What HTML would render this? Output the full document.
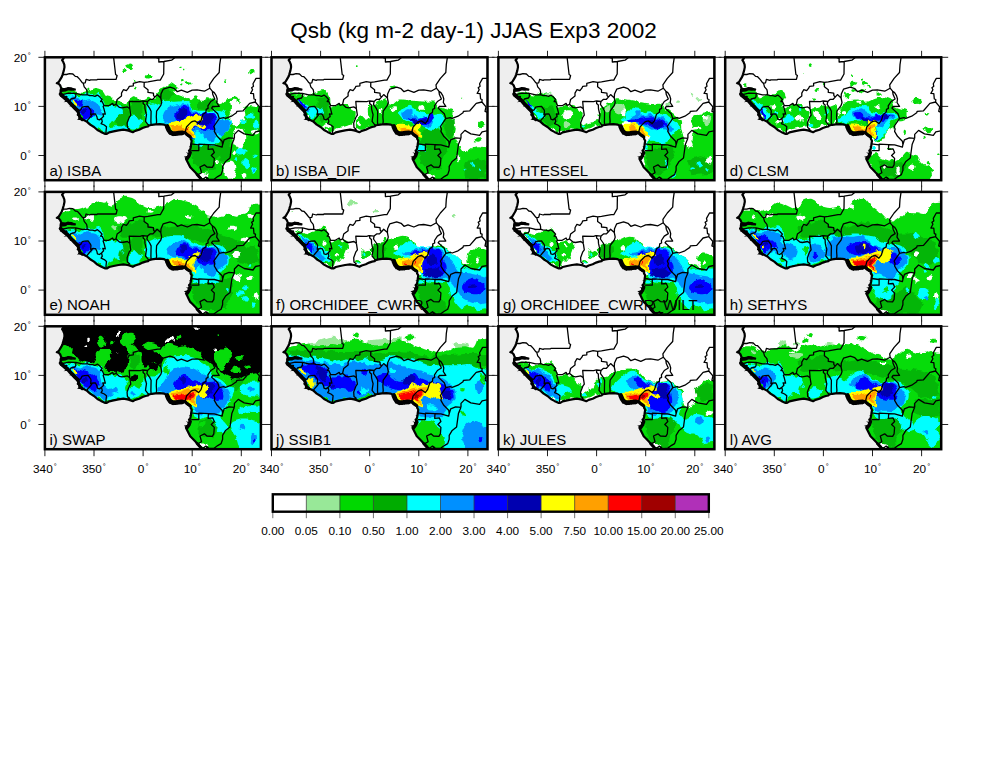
<!DOCTYPE html><html><head><meta charset="utf-8"><title>Qsb JJAS Exp3 2002</title>
<style>html,body{margin:0;padding:0;background:#fff}svg{display:block}text{font-family:"Liberation Sans",sans-serif;fill:#000}.t{font-size:11.8px;text-anchor:middle}.l{font-size:15px}.tk{stroke:#222;stroke-width:1;fill:none}</style></head><body>
<svg width="990" height="765" viewBox="0 0 990 765">
<defs>
<path id="land" d="M18.2 -4.9 L18.4 -1.5 L18.7 1.0 L17.2 2.9 L18.2 4.4 L19.4 7.4 L19.6 9.8 L18.9 13.3 L17.7 17.2 L16.9 19.6 L15.7 21.6 L14.0 24.5 L12.0 25.9 L13.7 26.4 L15.2 28.0 L16.0 29.9 L16.7 31.4 L18.7 31.9 L16.7 32.4 L15.7 33.4 L15.7 34.9 L16.0 37.3 L17.7 37.8 L18.2 39.3 L19.6 39.8 L21.6 39.5 L20.1 41.2 L22.6 41.7 L22.1 43.2 L24.5 44.4 L25.5 45.9 L27.0 47.6 L29.5 49.1 L30.9 51.3 L32.9 53.0 L33.1 54.5 L33.9 56.5 L32.9 57.4 L34.6 58.4 L34.9 60.4 L34.4 61.6 L36.8 61.9 L39.8 63.3 L42.2 64.6 L45.2 67.3 L49.1 69.7 L52.5 72.7 L56.0 74.6 L60.4 76.6 L61.9 76.6 L64.3 75.1 L68.7 74.1 L73.6 73.1 L78.5 72.4 L82.5 73.1 L84.4 73.6 L87.9 74.9 L90.3 73.6 L94.3 72.4 L97.7 70.7 L100.6 69.7 L103.1 69.2 L104.1 68.2 L107.0 67.5 L110.5 67.0 L114.9 66.8 L119.3 67.3 L121.7 68.7 L123.0 70.7 L124.2 73.1 L125.2 75.1 L127.6 77.1 L131.1 77.1 L133.0 76.6 L135.5 76.1 L138.4 75.8 L139.9 75.1 L140.9 76.1 L142.1 77.6 L143.8 78.8 L145.8 79.5 L145.6 81.5 L146.8 83.5 L146.3 86.4 L146.0 89.3 L145.3 92.3 L144.1 93.3 L145.3 95.2 L143.8 96.7 L144.1 98.7 L142.4 101.1 L141.1 101.6 L142.4 104.1 L143.8 107.0 L145.3 110.0 L147.8 112.4 L150.7 115.4 L152.7 117.6 L155.6 120.3 L156.6 122.2 L158.1 125.2 L225.8 127.6 L225.8 -4.9Z"/>
<path id="coast" d="M18.2 -4.9 L18.4 -1.5 L18.7 1.0 L17.2 2.9 L18.2 4.4 L19.4 7.4 L19.6 9.8 L18.9 13.3 L17.7 17.2 L16.9 19.6 L15.7 21.6 L14.0 24.5 L12.0 25.9 L13.7 26.4 L15.2 28.0 L16.0 29.9 L16.7 31.4 L18.7 31.9 L16.7 32.4 L15.7 33.4 L15.7 34.9 L16.0 37.3 L17.7 37.8 L18.2 39.3 L19.6 39.8 L21.6 39.5 L20.1 41.2 L22.6 41.7 L22.1 43.2 L24.5 44.4 L25.5 45.9 L27.0 47.6 L29.5 49.1 L30.9 51.3 L32.9 53.0 L33.1 54.5 L33.9 56.5 L32.9 57.4 L34.6 58.4 L34.9 60.4 L34.4 61.6 L36.8 61.9 L39.8 63.3 L42.2 64.6 L45.2 67.3 L49.1 69.7 L52.5 72.7 L56.0 74.6 L60.4 76.6 L61.9 76.6 L64.3 75.1 L68.7 74.1 L73.6 73.1 L78.5 72.4 L82.5 73.1 L84.4 73.6 L87.9 74.9 L90.3 73.6 L94.3 72.4 L97.7 70.7 L100.6 69.7 L103.1 69.2 L104.1 68.2 L107.0 67.5 L110.5 67.0 L114.9 66.8 L119.3 67.3 L121.7 68.7 L123.0 70.7 L124.2 73.1 L125.2 75.1 L127.6 77.1 L131.1 77.1 L133.0 76.6 L135.5 76.1 L138.4 75.8 L139.9 75.1 L140.9 76.1 L142.1 77.6 L143.8 78.8 L145.8 79.5 L145.6 81.5 L146.8 83.5 L146.3 86.4 L146.0 89.3 L145.3 92.3 L144.1 93.3 L145.3 95.2 L143.8 96.7 L144.1 98.7 L142.4 101.1 L141.1 101.6 L142.4 104.1 L143.8 107.0 L145.3 110.0 L147.8 112.4 L150.7 115.4 L152.7 117.6 L155.6 120.3 L156.6 122.2 L158.1 125.2" fill="none" stroke="#000" stroke-width="2.2" stroke-linejoin="round"/>
<path id="bord" d="M17.2 19.4 L18.2 17.2 L21.6 17.2 L24.5 16.4 L28.0 16.7 L30.4 19.1 L32.4 19.4 L34.9 22.1 L37.3 25.3 L38.3 25.8M38.3 25.8 L40.3 25.5 L41.2 22.1 L44.7 23.1 L45.7 22.6 L52.0 22.6 L52.5 22.1 L71.2 22.1 L72.2 18.2 L70.7 17.2 L68.7 0.0 L68.2 -4.9M38.3 25.8 L39.3 29.5 L41.7 32.4 L42.2 34.9 L42.2 37.3M42.2 37.3 L37.3 37.6 L34.1 36.8 L30.9 36.0 L23.6 35.9 L16.2 37.6M16.0 31.4 L22.1 31.4 L23.1 30.4 L27.0 31.2 L30.4 31.9 L30.2 32.9 L26.0 32.6 L23.6 31.9 L22.1 32.6 L20.6 33.6 L16.0 34.1M30.9 36.0 L30.9 39.3 L29.9 40.7 L26.0 41.7 L24.5 44.4M32.9 53.8 L35.8 52.5 L37.3 49.8 L39.8 49.3 L43.2 49.1 L45.7 52.5 L46.1 53.8 L45.7 57.4 L47.8 56.6M47.8 56.6 L46.1 58.9 L42.7 62.8 L41.7 64.3M47.8 56.6 L50.6 56.7 L52.0 59.4 L52.5 61.9 L54.5 62.6 L56.6 61.1M56.6 61.1 L57.4 64.3 L56.2 66.3 L59.4 67.7 L61.6 69.5 L61.1 74.1 L61.1 76.8M56.6 61.1 L58.7 58.9 L57.9 56.5 L60.4 56.9 L59.2 52.0 L58.2 49.1 L59.1 48.3M59.1 48.3 L57.4 44.4 L55.7 44.2 L57.2 42.2 L55.0 39.8 L52.5 37.8 L50.1 39.0 L47.6 38.3 L44.7 38.3 L42.2 37.3M59.1 48.3 L63.8 48.4 L67.7 46.1 L68.7 48.1 L71.1 47.0M71.1 47.0 L74.6 50.1 L77.1 50.6 L82.5 49.6 L84.9 51.5M84.9 51.5 L85.9 57.9 L84.4 59.9 L82.2 65.8 L82.5 70.2 L84.7 71.9 L83.0 73.1M84.9 51.5 L84.3 44.2 L95.2 44.4 L97.4 43.7 L98.2 43.7M98.2 43.7 L98.2 46.1 L99.9 47.6 L100.1 51.5 L100.9 55.0 L101.6 57.4 L100.9 61.9 L100.6 64.1 L103.1 67.3 L104.1 68.2M106.2 67.6 L106.0 64.3 L106.2 54.0 L104.8 51.1 L102.0 47.1 L102.6 44.2 L98.2 43.7M102.6 44.2 L105.1 42.0 L108.0 42.0 L110.0 39.8 L112.2 37.3 L115.9 40.7M115.9 40.7 L116.8 45.2 L115.9 48.1 L111.7 53.8 L111.4 59.4 L111.7 64.1 L111.4 66.9M71.1 47.0 L72.2 42.2 L76.6 38.8 L76.6 35.8 L78.5 32.4 L81.5 33.4 L83.5 30.9 L84.4 29.0 L88.4 28.5 L88.4 26.0 L94.7 24.3 L99.3 25.0M99.3 25.0 L99.2 29.5 L103.1 32.4 L103.1 35.1 L108.5 35.8 L108.7 38.3 L110.0 39.8M99.3 25.0 L103.1 24.5 L112.9 22.8 L115.4 22.8 L118.8 16.7 L119.0 4.2M119.0 4.2 L113.9 4.7 L113.9 1.0 L107.0 -1.5 L104.1 -4.9M119.0 4.2 L126.7 2.9 L135.0 -3.9 L137.5 -5.9M115.9 40.7 L116.1 36.8 L118.3 31.9 L125.2 29.9 L129.6 31.4 L132.5 34.4 L136.5 32.9 L142.4 35.1 L147.3 32.9 L152.2 32.6 L159.5 33.9 L164.9 30.9M164.9 30.9 L164.5 27.5 L168.9 21.1 L174.3 15.2 L174.8 7.4 L176.2 -2.0 L175.7 -4.9M164.9 30.9 L167.4 33.9 L167.9 37.3 L169.9 41.7 L165.9 44.2 L163.0 48.6 L163.2 51.1 L161.3 52.0 L161.0 55.0 L158.1 56.9 L156.1 63.3 L153.7 66.3 L150.2 63.6 L147.8 64.1 L146.3 64.8 L143.8 67.3 L141.6 69.7 L140.4 74.6M167.4 33.9 L169.4 35.3 L171.3 38.3 L172.3 41.7 L171.8 45.2 L174.3 49.1 L167.9 49.2 L166.7 50.8 L172.8 56.5 L174.3 61.1M174.3 61.4 L169.9 67.7 L168.9 69.2 L169.9 71.7 L169.4 74.1 L172.3 79.0 L177.2 83.9 L177.7 87.4M177.7 87.4 L177.2 89.8 L169.4 87.6 L163.5 87.4 L153.9 86.9 L153.7 87.6 L146.3 86.6M153.9 87.5 L153.9 93.3 L146.3 93.3M163.5 87.4 L163.2 92.0 L167.9 91.6 L169.4 95.2 L166.4 98.2 L169.4 101.1 L168.9 107.5 L167.4 110.0 L162.0 109.7 L159.5 107.5 L155.1 109.7 L156.6 115.4 L152.9 117.6M177.7 87.4 L179.2 82.5 L184.1 80.5 L189.5 81.0M189.5 81.0 L187.0 86.9 L186.1 93.3 L185.1 100.6 L180.7 104.1 L177.7 109.0 L177.7 112.9 L176.2 117.3 L172.8 119.3 L168.9 122.2 L164.0 122.2 L162.5 120.8 L161.0 119.8 L157.1 122.7M161.0 119.8 L162.5 121.3 L159.5 123.7M189.5 81.0 L189.5 77.1 L193.4 73.1 L199.3 76.6 L208.1 78.1 L210.6 74.6 L218.0 73.1 L220.9 72.7M174.3 61.4 L178.7 60.4 L180.7 61.1 L186.5 58.9 L191.5 55.5 L191.9 54.0 L198.3 53.5 L204.7 46.1 L210.4 44.7M210.4 44.7 L210.6 42.2 L209.1 41.7 L208.6 36.3 L205.7 36.1 L207.7 32.4 L206.7 30.4 L208.6 29.0 L208.1 26.5 L211.1 21.1 L216.0 21.1 L216.0 -4.9M210.4 44.7 L214.5 49.6 L213.5 54.0 L217.0 55.5 L217.0 57.4 L220.9 59.4" fill="none" stroke="#000" stroke-width="1.3" stroke-linejoin="round"/>
<g id="thk"><path d="M15.7 36.8 L18.2 39.3 L21.1 41.7 L23.6 43.7 L25.5 46.1 L28.0 48.6 L30.4 51.1 L32.9 53.5" fill="none" stroke="#000" stroke-width="3.8" stroke-linejoin="round" stroke-linecap="round"/><path d="M32.9 53.5 L33.9 56.9 L34.9 59.9 L37.3 62.3" fill="none" stroke="#000" stroke-width="3.0" stroke-linejoin="round" stroke-linecap="round"/><path d="M16.2 32.2 L20.1 32.2 L23.1 31.4 L26.5 31.7" fill="none" stroke="#000" stroke-width="3.0" stroke-linejoin="round" stroke-linecap="round"/><path d="M122.2 69.2 L123.7 72.7 L125.2 74.9 L127.6 76.3 L131.1 76.3 L134.0 75.8 L137.5 75.6" fill="none" stroke="#000" stroke-width="4.6" stroke-linejoin="round" stroke-linecap="round"/><path d="M139.9 75.1 L141.9 77.1 L144.8 79.0" fill="none" stroke="#000" stroke-width="3.2" stroke-linejoin="round" stroke-linecap="round"/><path d="M145.3 95.2 L144.3 98.2 L142.4 101.1" fill="none" stroke="#000" stroke-width="3.4" stroke-linejoin="round" stroke-linecap="round"/><path d="M152.2 117.3 L156.6 122.2 L160.0 123.2" fill="none" stroke="#000" stroke-width="2.8" stroke-linejoin="round" stroke-linecap="round"/><path fill="#000" d="M22.1 42.7 L18.7 44.9 L23.6 44.2ZM34.9 60.4 L31.9 62.8 L36.3 61.9ZM143.8 98.2 L138.9 99.4 L142.4 101.6ZM144.8 96.0 L140.9 95.0 L144.3 97.7ZM124.0 73.1 L124.2 77.6 L126.4 75.6ZM127.1 76.1 L128.1 79.3 L129.8 76.6ZM131.6 76.3 L133.0 78.8 L134.3 76.1ZM136.0 75.6 L137.0 78.1 L138.2 75.6ZM26.5 47.1 L24.5 49.1 L28.0 48.6ZM16.7 38.3 L14.7 39.8 L18.7 39.8ZM14.2 25.0 L10.3 26.0 L14.2 26.8ZM31.9 52.0 L29.9 53.5 L32.9 53.5ZM146.3 88.4 L143.8 88.9 L145.8 89.8Z"/></g>
<clipPath id="cl"><use href="#land"/></clipPath>
<clipPath id="cp"><rect x="0" y="0" width="216.0" height="122.9"/></clipPath>
<path id="tk" class="tk" d="M0.0 0V-6.5M0.0 122.9V129.9M49.1 0V-6.5M49.1 122.9V129.9M98.2 0V-6.5M98.2 122.9V129.9M147.3 0V-6.5M147.3 122.9V129.9M196.4 0V-6.5M196.4 122.9V129.9M0 0.0H-6.5M216.0 0.0H223.0M0 49.1H-6.5M216.0 49.1H223.0M0 98.2H-6.5M216.0 98.2H223.0"/>
<filter id="rag" x="-5%" y="-5%" width="110%" height="110%" color-interpolation-filters="sRGB"><feTurbulence type="fractalNoise" baseFrequency="0.13" numOctaves="2" seed="7" result="n"/><feDisplacementMap in="SourceGraphic" in2="n" scale="7" xChannelSelector="R" yChannelSelector="G"/></filter>
</defs>
<rect width="990" height="765" fill="#fff"/>
<text x="473.5" y="38" text-anchor="middle" style="font-size:22.5px">Qsb (kg m-2 day-1) JJAS Exp3 2002</text>
<g transform="translate(44.9,57.3)">
<use href="#tk"/>
<g clip-path="url(#cp)">
<rect width="216.0" height="122.9" fill="#eeeeee"/>
<use href="#land" fill="#fff"/>
<g clip-path="url(#cl)"><g filter="url(#rag)">
<path fill="#06dc0a" d="M15.4 31.8C17.5 30.8 22.7 32.6 25.9 33.1C29.1 33.7 32.2 35.1 34.8 35.4C37.4 35.7 39.6 35.4 41.4 34.9C43.3 34.4 44.4 33.0 45.9 32.3C47.4 31.6 48.7 30.7 50.3 30.7C52.0 30.7 54.4 31.6 55.9 32.3C57.4 33.0 58.3 33.7 59.2 34.9C60.1 36.1 60.1 38.3 61.4 39.4C62.7 40.4 65.3 40.8 67.0 41.1C68.7 41.5 70.0 41.2 71.4 41.6C72.9 42.0 74.0 42.6 75.9 43.4C77.7 44.1 80.7 46.5 82.5 46.0C84.4 45.6 85.7 41.7 87.0 40.5C88.3 39.3 89.2 38.7 90.3 38.9C91.4 39.1 92.4 40.8 93.7 41.6C95.0 42.3 96.4 43.6 98.1 43.4C99.8 43.2 102.0 40.5 103.7 40.5C105.3 40.5 106.8 44.3 108.1 43.4C109.4 42.4 110.3 36.7 111.4 34.9C112.5 33.1 113.5 33.4 114.8 32.7C116.1 32.0 117.9 31.7 119.2 30.9C120.5 30.2 121.2 29.1 122.5 28.3C123.8 27.4 125.5 26.1 127.0 26.0C128.5 26.0 130.5 27.0 131.4 27.8C132.4 28.7 132.9 30.2 132.5 31.1C132.2 32.1 129.6 32.6 129.2 33.4C128.8 34.2 129.0 35.2 130.3 36.0C131.6 36.8 134.6 37.3 137.0 38.3C139.4 39.2 142.9 41.4 144.8 41.6C146.6 41.8 147.1 39.7 148.1 39.4C149.1 39.0 150.2 38.8 151.0 39.4C151.7 39.9 151.4 42.0 152.5 42.7C153.7 43.4 156.2 43.4 158.1 43.4C160.0 43.3 162.2 42.6 163.7 42.3C165.1 41.9 165.9 40.9 167.0 41.1C168.1 41.4 169.2 42.9 170.3 43.8C171.4 44.7 172.2 46.5 173.7 46.7C175.1 46.9 177.9 45.6 179.2 44.9C180.5 44.3 180.0 43.4 181.4 42.7C182.9 42.0 186.4 41.1 188.1 40.5C189.8 39.8 190.3 38.6 191.4 38.9C192.5 39.2 194.6 41.0 194.8 42.3C195.0 43.6 193.7 45.3 192.5 46.7C191.4 48.1 189.2 49.1 188.1 50.5C187.0 51.8 185.5 54.2 185.9 54.9C186.2 55.7 188.7 55.3 190.3 54.9C192.0 54.6 194.0 53.5 195.9 52.7C197.7 51.9 199.8 50.7 201.4 50.0C203.1 49.4 204.4 49.0 205.9 48.9C207.4 48.8 209.1 49.2 210.3 49.4C211.5 49.5 210.3 49.4 213.0 49.7C215.7 50.0 223.8 51.0 226.5 51.3C229.2 51.6 228.8 51.1 229.2 51.6C229.7 52.1 229.2 40.9 229.2 54.3C229.2 67.7 229.2 118.4 229.2 131.8C229.2 145.1 229.7 134.0 229.2 134.5C228.8 134.9 240.9 134.5 226.5 134.5C212.1 134.5 157.4 134.5 143.0 134.5C128.7 134.5 140.8 134.9 140.3 134.5C139.9 134.0 140.3 140.2 140.3 131.8C140.3 123.3 140.3 92.3 140.3 83.8C140.3 75.4 140.7 81.8 140.3 81.1C139.9 80.5 140.3 81.1 137.8 80.2C135.3 79.2 127.6 76.4 125.1 75.4C122.5 74.5 123.4 74.6 122.5 74.5C121.7 74.4 125.3 74.2 119.9 74.7C114.4 75.2 95.2 77.0 89.7 77.6C84.2 78.1 87.9 77.7 87.0 77.8C86.1 77.9 88.3 77.7 84.3 78.0C80.3 78.4 67.0 79.5 63.0 79.8C59.0 80.1 61.2 80.2 60.3 80.0C59.5 79.9 60.5 80.1 57.9 78.8C55.3 77.5 47.5 73.6 45.0 72.4C42.4 71.1 43.2 71.7 42.5 71.1C41.8 70.6 43.4 72.1 40.8 69.1C38.1 66.1 29.2 56.2 26.6 53.2C23.9 50.2 25.4 51.8 24.8 51.1C24.2 50.5 24.5 50.9 23.0 49.1C21.4 47.4 17.0 42.6 15.5 40.9C13.9 39.2 13.7 40.4 13.7 38.9C13.6 37.4 13.4 32.8 15.4 31.8ZM88.3 9.6C88.3 10.4 88.0 11.4 87.5 11.9C87.0 12.5 86.1 12.9 85.4 12.9C84.8 12.9 83.9 12.5 83.4 11.9C82.9 11.4 82.5 10.4 82.5 9.6C82.5 8.8 82.9 7.8 83.4 7.2C83.9 6.7 84.8 6.3 85.4 6.3C86.1 6.3 87.0 6.7 87.5 7.2C88.0 7.8 88.3 8.8 88.3 9.6ZM82.3 13.4C82.3 13.7 82.0 14.2 81.6 14.5C81.2 14.7 80.5 14.9 79.9 14.9C79.3 14.9 78.6 14.7 78.1 14.5C77.7 14.2 77.4 13.7 77.4 13.4C77.4 13.0 77.7 12.5 78.1 12.3C78.6 12.0 79.3 11.8 79.9 11.8C80.5 11.8 81.2 12.0 81.6 12.3C82.0 12.5 82.3 13.0 82.3 13.4ZM106.3 19.4C106.3 19.8 105.9 20.4 105.3 20.8C104.8 21.1 103.8 21.4 103.0 21.4C102.2 21.4 101.2 21.1 100.6 20.8C100.1 20.4 99.7 19.8 99.7 19.4C99.7 18.9 100.1 18.3 100.6 18.0C101.2 17.6 102.2 17.4 103.0 17.4C103.8 17.4 104.8 17.6 105.3 18.0C105.9 18.3 106.3 18.9 106.3 19.4ZM135.9 10.5C135.9 10.8 135.7 11.2 135.5 11.4C135.3 11.6 134.9 11.8 134.5 11.8C134.2 11.8 133.8 11.6 133.6 11.4C133.4 11.2 133.2 10.8 133.2 10.5C133.2 10.2 133.4 9.8 133.6 9.5C133.8 9.3 134.2 9.1 134.5 9.1C134.9 9.1 135.3 9.3 135.5 9.5C135.7 9.8 135.9 10.2 135.9 10.5ZM140.5 12.3C140.5 12.5 140.4 12.9 140.2 13.0C140.0 13.2 139.7 13.4 139.4 13.4C139.2 13.4 138.8 13.2 138.6 13.0C138.5 12.9 138.3 12.5 138.3 12.3C138.3 12.0 138.5 11.7 138.6 11.5C138.8 11.3 139.2 11.1 139.4 11.1C139.7 11.1 140.0 11.3 140.2 11.5C140.4 11.7 140.5 12.0 140.5 12.3ZM146.5 25.6C146.5 26.1 146.2 26.7 145.7 27.0C145.2 27.3 144.3 27.6 143.7 27.6C143.0 27.6 142.1 27.3 141.6 27.0C141.1 26.7 140.8 26.1 140.8 25.6C140.8 25.1 141.1 24.5 141.6 24.2C142.1 23.8 143.0 23.6 143.7 23.6C144.3 23.6 145.2 23.8 145.7 24.2C146.2 24.5 146.5 25.1 146.5 25.6ZM138.8 22.9C138.8 23.2 138.6 23.6 138.4 23.9C138.2 24.1 137.7 24.3 137.4 24.3C137.1 24.3 136.7 24.1 136.5 23.9C136.3 23.6 136.1 23.2 136.1 22.9C136.1 22.6 136.3 22.2 136.5 22.0C136.7 21.8 137.1 21.6 137.4 21.6C137.7 21.6 138.2 21.8 138.4 22.0C138.6 22.2 138.8 22.6 138.8 22.9ZM137.4 28.0C137.4 28.3 137.3 28.6 137.1 28.8C136.9 29.0 136.6 29.1 136.3 29.1C136.1 29.1 135.7 29.0 135.5 28.8C135.4 28.6 135.2 28.3 135.2 28.0C135.2 27.8 135.4 27.4 135.5 27.2C135.7 27.1 136.1 26.9 136.3 26.9C136.6 26.9 136.9 27.1 137.1 27.2C137.3 27.4 137.4 27.8 137.4 28.0ZM209.7 14.0C209.7 14.8 209.3 15.8 208.9 16.4C208.4 16.9 207.6 17.4 207.0 17.4C206.4 17.4 205.5 16.9 205.1 16.4C204.7 15.8 204.3 14.8 204.3 14.0C204.3 13.2 204.7 12.2 205.1 11.7C205.5 11.1 206.4 10.7 207.0 10.7C207.6 10.7 208.4 11.1 208.9 11.7C209.3 12.2 209.7 13.2 209.7 14.0ZM179.9 24.5C179.9 24.8 179.7 25.2 179.5 25.4C179.3 25.6 178.9 25.8 178.5 25.8C178.2 25.8 177.8 25.6 177.6 25.4C177.4 25.2 177.2 24.8 177.2 24.5C177.2 24.2 177.4 23.8 177.6 23.5C177.8 23.3 178.2 23.1 178.5 23.1C178.9 23.1 179.3 23.3 179.5 23.5C179.7 23.8 179.9 24.2 179.9 24.5ZM90.3 24.5C90.3 24.7 90.2 25.1 90.0 25.3C89.8 25.4 89.5 25.6 89.2 25.6C88.9 25.6 88.6 25.4 88.4 25.3C88.2 25.1 88.1 24.7 88.1 24.5C88.1 24.2 88.2 23.9 88.4 23.7C88.6 23.5 88.9 23.4 89.2 23.4C89.5 23.4 89.8 23.5 90.0 23.7C90.2 23.9 90.3 24.2 90.3 24.5ZM91.7 29.8C91.7 30.1 91.5 30.5 91.3 30.8C91.0 31.0 90.6 31.1 90.3 31.1C90.0 31.1 89.6 31.0 89.4 30.8C89.2 30.5 89.0 30.1 89.0 29.8C89.0 29.5 89.2 29.1 89.4 28.9C89.6 28.6 90.0 28.5 90.3 28.5C90.6 28.5 91.0 28.6 91.3 28.9C91.5 29.1 91.7 29.5 91.7 29.8ZM152.8 39.6C152.8 40.0 152.5 40.4 152.1 40.7C151.6 40.9 150.9 41.1 150.3 41.1C149.7 41.1 149.0 40.9 148.6 40.7C148.2 40.4 147.9 40.0 147.9 39.6C147.9 39.2 148.2 38.7 148.6 38.5C149.0 38.2 149.7 38.0 150.3 38.0C150.9 38.0 151.6 38.2 152.1 38.5C152.5 38.7 152.8 39.2 152.8 39.6ZM163.4 42.3C163.4 42.6 163.2 43.0 162.8 43.2C162.5 43.4 161.9 43.6 161.4 43.6C161.0 43.6 160.4 43.4 160.0 43.2C159.7 43.0 159.4 42.6 159.4 42.3C159.4 41.9 159.7 41.5 160.0 41.3C160.4 41.1 161.0 40.9 161.4 40.9C161.9 40.9 162.5 41.1 162.8 41.3C163.2 41.5 163.4 41.9 163.4 42.3Z"/>
<path fill="#04b608" d="M76.3 50.0C77.4 48.6 81.3 47.4 82.5 48.9C83.8 50.4 83.8 55.8 83.7 58.9C83.5 62.1 82.9 66.0 81.4 67.8C80.0 69.7 76.4 70.6 74.8 70.0C73.1 69.5 71.2 66.5 71.4 64.5C71.6 62.4 75.1 60.2 75.9 57.8C76.7 55.4 75.2 51.5 76.3 50.0ZM86.5 44.5C88.4 43.1 95.0 42.1 97.0 43.8C99.0 45.5 98.7 51.6 98.5 54.5C98.4 57.4 97.4 60.4 95.9 61.1C94.3 61.9 90.9 60.4 89.2 58.9C87.5 57.4 86.3 54.7 85.9 52.3C85.4 49.8 84.7 45.9 86.5 44.5ZM51.4 64.5C52.4 63.6 57.5 64.5 59.2 65.6C60.9 66.7 62.4 70.2 61.4 71.1C60.5 72.1 55.3 72.3 53.7 71.1C52.0 70.0 50.5 65.4 51.4 64.5ZM146.5 88.9C147.7 86.7 152.0 88.0 153.7 87.8C155.3 87.6 154.6 87.8 156.4 87.7C158.1 87.7 162.5 87.5 164.3 87.5C166.1 87.4 165.4 87.2 167.0 87.4C168.5 87.5 172.4 86.7 173.7 88.3C175.0 89.8 175.5 94.2 174.8 96.7C174.0 99.2 170.0 100.8 169.2 103.4C168.5 106.0 172.2 110.6 170.3 112.3C168.5 113.9 161.2 114.1 158.1 113.4C155.0 112.6 153.4 109.8 151.4 107.8C149.5 105.8 147.4 104.3 146.5 101.1C145.7 98.0 145.4 91.1 146.5 88.9ZM174.8 83.4C176.2 80.8 180.7 78.6 182.5 78.9C184.4 79.3 185.4 84.0 185.9 85.6C186.4 87.1 185.8 86.5 185.7 88.3C185.5 90.1 185.1 94.5 185.0 96.2C184.8 98.0 185.9 97.7 184.8 98.9C183.6 100.1 179.9 104.1 178.1 103.4C176.3 102.6 174.7 97.8 174.1 94.5C173.5 91.1 173.4 86.0 174.8 83.4ZM114.8 34.5C116.2 33.0 122.4 31.7 124.8 32.3C127.2 32.8 129.6 36.1 129.2 37.8C128.8 39.5 124.8 41.7 122.5 42.3C120.3 42.8 117.2 42.4 115.9 41.1C114.6 39.8 113.3 36.0 114.8 34.5ZM153.7 44.5C154.1 43.3 154.6 44.4 156.3 44.3C158.1 44.1 162.5 43.7 164.3 43.6C166.1 43.4 165.8 42.3 167.0 43.4C168.2 44.4 172.2 48.6 171.4 50.0C170.7 51.5 165.5 52.1 162.5 52.3C159.6 52.4 155.1 52.4 153.7 51.1C152.2 49.8 153.2 45.6 153.7 44.5Z"/>
<path fill="#ffffff" d="M187.0 54.9C189.1 53.3 194.6 52.3 197.0 52.3C199.4 52.2 201.1 52.8 201.4 54.5C201.8 56.1 200.5 60.0 199.2 62.3C197.9 64.6 195.7 67.0 193.7 68.3C191.6 69.5 188.5 70.6 187.0 69.6C185.4 68.6 184.3 64.7 184.3 62.3C184.3 59.8 184.9 56.6 187.0 54.9ZM189.7 72.3C191.4 70.8 196.8 71.0 198.5 72.7C200.3 74.4 200.5 79.1 200.3 82.3C200.2 85.4 199.2 90.5 197.7 91.8C196.1 93.1 192.5 91.8 191.0 90.0C189.4 88.3 188.5 84.1 188.3 81.1C188.1 78.2 188.0 73.7 189.7 72.3ZM177.2 106.0C178.8 105.4 185.2 103.7 187.4 104.7C189.7 105.7 190.5 109.7 190.5 112.3C190.5 114.8 189.3 118.8 187.4 120.0C185.5 121.2 180.6 119.9 179.2 119.4C177.8 118.8 179.1 118.5 178.8 116.7C178.5 114.9 177.9 110.5 177.6 108.7C177.3 106.9 175.6 106.7 177.2 106.0ZM185.9 44.5C186.6 43.3 190.4 43.1 191.4 43.8C192.4 44.6 192.6 47.7 191.9 48.9C191.1 50.1 188.0 51.9 187.0 51.1C186.0 50.4 185.1 45.7 185.9 44.5ZM214.3 74.9C214.3 75.4 213.8 76.1 213.2 76.5C212.5 76.9 211.3 77.1 210.3 77.1C209.4 77.1 208.2 76.9 207.5 76.5C206.8 76.1 206.3 75.4 206.3 74.9C206.3 74.4 206.8 73.7 207.5 73.4C208.2 73.0 209.4 72.7 210.3 72.7C211.3 72.7 212.5 73.0 213.2 73.4C213.8 73.7 214.3 74.4 214.3 74.9ZM175.9 103.4C175.9 103.8 175.6 104.3 175.2 104.6C174.9 104.9 174.2 105.1 173.7 105.1C173.1 105.1 172.5 104.9 172.1 104.6C171.7 104.3 171.4 103.8 171.4 103.4C171.4 102.9 171.7 102.4 172.1 102.1C172.5 101.8 173.1 101.6 173.7 101.6C174.2 101.6 174.9 101.8 175.2 102.1C175.6 102.4 175.9 102.9 175.9 103.4ZM163.4 117.8C163.4 118.5 162.8 119.5 162.0 120.0C161.2 120.5 159.7 120.9 158.5 120.9C157.4 120.9 155.9 120.5 155.1 120.0C154.3 119.5 153.7 118.5 153.7 117.8C153.7 117.1 154.3 116.1 155.1 115.6C155.9 115.1 157.4 114.7 158.5 114.7C159.7 114.7 161.2 115.1 162.0 115.6C162.8 116.1 163.4 117.1 163.4 117.8ZM191.0 94.5C191.0 95.0 190.8 95.7 190.5 96.0C190.2 96.4 189.6 96.7 189.2 96.7C188.8 96.7 188.3 96.4 188.0 96.0C187.7 95.7 187.4 95.0 187.4 94.5C187.4 94.0 187.7 93.3 188.0 92.9C188.3 92.5 188.8 92.3 189.2 92.3C189.6 92.3 190.2 92.5 190.5 92.9C190.8 93.3 191.0 94.0 191.0 94.5ZM201.4 118.5C201.4 118.9 201.2 119.4 200.8 119.7C200.4 120.0 199.7 120.3 199.2 120.3C198.7 120.3 198.0 120.0 197.6 119.7C197.3 119.4 197.0 118.9 197.0 118.5C197.0 118.1 197.3 117.5 197.6 117.2C198.0 116.9 198.7 116.7 199.2 116.7C199.7 116.7 200.4 116.9 200.8 117.2C201.2 117.5 201.4 118.1 201.4 118.5Z"/>
<path fill="#00ffff" d="M22.5 36.9C24.8 36.8 28.1 37.6 31.4 37.6C34.8 37.6 38.8 37.3 42.5 37.1C46.2 37.0 51.4 36.0 53.7 36.7C55.9 37.4 55.1 39.8 55.9 41.1C56.6 42.5 57.4 43.7 58.1 44.9C58.8 46.1 58.5 47.6 60.3 48.3C62.2 48.9 66.6 48.6 69.2 48.9C71.8 49.3 74.4 49.5 75.9 50.5C77.4 51.5 78.5 53.4 78.1 54.9C77.7 56.4 75.1 57.7 73.7 59.4C72.2 61.0 70.7 63.6 69.2 64.9C67.7 66.2 65.7 66.0 64.8 67.1C63.8 68.3 64.2 70.1 63.7 71.6C63.1 73.1 63.5 76.2 61.4 76.0C59.4 75.8 54.6 72.5 51.4 70.5C48.3 68.4 44.4 65.2 42.5 63.8C40.7 62.4 41.9 63.3 40.4 62.1C38.9 60.9 35.0 57.8 33.5 56.6C32.0 55.4 32.9 56.7 31.4 54.9C30.0 53.2 27.0 48.8 24.8 46.0C22.5 43.3 18.5 39.8 18.1 38.3C17.7 36.7 20.3 37.0 22.5 36.9ZM84.8 60.5C86.0 59.6 88.5 59.2 90.3 59.4C92.2 59.6 94.8 60.3 95.9 61.6C97.0 62.9 97.5 65.5 97.0 67.1C96.4 68.8 94.2 70.6 92.5 71.6C90.9 72.6 88.5 73.3 87.0 73.1C85.5 73.0 84.3 71.8 83.7 70.5C83.0 69.1 82.8 66.6 83.0 64.9C83.2 63.3 83.5 61.4 84.8 60.5ZM61.4 71.1C63.1 69.9 67.9 69.1 71.4 68.9C75.0 68.7 80.5 69.3 82.5 70.0C84.6 70.8 85.5 72.6 83.7 73.4C81.8 74.2 75.1 74.4 71.4 74.9C67.7 75.4 63.1 77.1 61.4 76.5C59.8 75.8 59.8 72.4 61.4 71.1ZM100.8 47.4C102.0 46.7 105.8 45.9 108.1 46.0C110.4 46.2 112.9 48.8 114.8 48.3C116.6 47.7 117.7 43.6 119.2 42.7C120.7 41.8 122.0 42.8 123.7 43.1C125.3 43.4 127.2 44.3 129.2 44.5C131.2 44.6 133.7 44.1 135.9 44.0C138.1 43.9 140.9 43.4 142.5 43.8C144.2 44.3 145.1 45.5 145.9 46.7C146.7 47.9 146.1 50.0 147.4 51.1C148.7 52.3 151.1 53.0 153.7 53.4C156.2 53.7 159.6 53.4 162.5 53.4C165.5 53.4 168.7 53.1 171.4 53.4C174.2 53.6 177.5 54.2 179.2 54.9C180.9 55.7 181.4 56.8 181.4 57.8C181.4 58.8 178.7 60.2 179.2 61.1C179.8 62.1 183.9 61.5 184.8 63.4C185.6 65.2 185.2 70.0 184.3 72.3C183.4 74.5 180.6 75.0 179.2 76.7C177.8 78.4 176.8 80.6 175.9 82.3C175.0 83.9 175.9 85.8 173.7 86.7C171.4 87.6 166.2 87.4 162.5 87.4C158.8 87.4 153.7 87.6 151.4 86.7C149.1 85.8 149.5 83.4 148.8 82.3C148.1 81.1 148.4 81.7 147.2 80.0C146.1 78.4 143.0 73.9 141.9 72.3C140.7 70.6 141.0 70.5 140.3 70.0C139.6 69.6 140.2 70.0 137.7 69.6C135.1 69.3 127.7 68.1 125.2 67.8C122.7 67.4 123.4 67.4 122.5 67.4C121.6 67.3 121.6 67.4 119.8 67.3C118.1 67.3 113.7 67.2 111.9 67.2C110.1 67.2 111.0 67.2 109.2 67.1C107.5 67.1 102.7 67.2 101.4 66.7C100.1 66.2 101.4 66.8 101.3 64.0C101.2 61.2 101.0 52.8 100.9 50.1C100.8 47.3 99.6 48.0 100.8 47.4ZM209.2 58.9C209.2 59.7 208.7 60.6 208.0 61.1C207.4 61.6 206.2 62.0 205.2 62.0C204.3 62.0 203.0 61.6 202.4 61.1C201.7 60.6 201.2 59.7 201.2 58.9C201.2 58.2 201.7 57.2 202.4 56.7C203.0 56.2 204.3 55.8 205.2 55.8C206.2 55.8 207.4 56.2 208.0 56.7C208.7 57.2 209.2 58.2 209.2 58.9ZM214.5 67.4C214.5 68.5 214.2 70.0 213.6 70.8C213.1 71.6 212.2 72.3 211.4 72.3C210.7 72.3 209.8 71.6 209.2 70.8C208.7 70.0 208.3 68.5 208.3 67.4C208.3 66.2 208.7 64.7 209.2 63.9C209.8 63.1 210.7 62.5 211.4 62.5C212.2 62.5 213.1 63.1 213.6 63.9C214.2 64.7 214.5 66.2 214.5 67.4ZM200.8 64.5C200.8 64.8 200.5 65.2 200.2 65.4C199.8 65.6 199.2 65.8 198.8 65.8C198.3 65.8 197.7 65.6 197.4 65.4C197.0 65.2 196.8 64.8 196.8 64.5C196.8 64.2 197.0 63.8 197.4 63.5C197.7 63.3 198.3 63.1 198.8 63.1C199.2 63.1 199.8 63.3 200.2 63.5C200.5 63.8 200.8 64.2 200.8 64.5ZM200.8 94.5C200.8 95.4 200.1 96.5 199.3 97.1C198.5 97.8 197.0 98.3 195.9 98.3C194.7 98.3 193.2 97.8 192.4 97.1C191.6 96.5 191.0 95.4 191.0 94.5C191.0 93.6 191.6 92.4 192.4 91.8C193.2 91.2 194.7 90.7 195.9 90.7C197.0 90.7 198.5 91.2 199.3 91.8C200.1 92.4 200.8 93.6 200.8 94.5ZM204.3 105.6C204.3 106.8 204.0 108.5 203.5 109.4C203.0 110.2 202.1 110.9 201.4 110.9C200.8 110.9 199.9 110.2 199.4 109.4C198.9 108.5 198.5 106.8 198.5 105.6C198.5 104.3 198.9 102.7 199.4 101.8C199.9 100.9 200.8 100.3 201.4 100.3C202.1 100.3 203.0 100.9 203.5 101.8C204.0 102.7 204.3 104.3 204.3 105.6ZM211.4 112.3C211.4 113.0 211.0 113.9 210.5 114.5C210.0 115.0 209.1 115.4 208.3 115.4C207.6 115.4 206.6 115.0 206.1 114.5C205.6 113.9 205.2 113.0 205.2 112.3C205.2 111.5 205.6 110.6 206.1 110.1C206.6 109.5 207.6 109.1 208.3 109.1C209.1 109.1 210.0 109.5 210.5 110.1C211.0 110.6 211.4 111.5 211.4 112.3ZM193.4 101.6C193.4 102.0 193.2 102.4 192.8 102.7C192.5 102.9 191.9 103.1 191.4 103.1C191.0 103.1 190.4 102.9 190.0 102.7C189.7 102.4 189.4 102.0 189.4 101.6C189.4 101.2 189.7 100.7 190.0 100.5C190.4 100.2 191.0 100.0 191.4 100.0C191.9 100.0 192.5 100.2 192.8 100.5C193.2 100.7 193.4 101.2 193.4 101.6ZM211.0 98.0C211.0 98.4 210.8 98.9 210.5 99.1C210.2 99.4 209.6 99.6 209.2 99.6C208.8 99.6 208.3 99.4 208.0 99.1C207.7 98.9 207.4 98.4 207.4 98.0C207.4 97.7 207.7 97.2 208.0 96.9C208.3 96.7 208.8 96.5 209.2 96.5C209.6 96.5 210.2 96.7 210.5 96.9C210.8 97.2 211.0 97.7 211.0 98.0Z"/>
<path fill="#0090ff" d="M28.1 39.4C29.4 38.8 32.7 39.6 34.8 40.5C36.8 41.4 38.3 44.4 40.3 44.9C42.4 45.5 45.1 43.6 47.0 43.8C48.8 44.0 50.0 44.9 51.4 46.0C52.9 47.1 54.8 49.0 55.9 50.5C57.0 52.0 58.1 53.8 58.1 54.9C58.1 56.0 57.2 57.0 55.9 57.1C54.6 57.3 51.8 56.0 50.3 56.0C48.8 56.0 47.9 56.4 47.0 57.1C46.1 57.9 45.9 59.7 44.8 60.5C43.7 61.2 42.0 62.3 40.3 61.6C38.7 60.8 36.4 58.3 34.8 56.0C33.1 53.8 31.6 50.3 30.3 48.3C29.0 46.2 27.4 45.3 27.0 43.8C26.6 42.3 26.8 39.9 28.1 39.4ZM119.2 54.9C120.1 53.1 121.8 51.8 123.7 50.5C125.5 49.2 128.1 47.9 130.3 47.1C132.5 46.4 134.8 46.1 137.0 46.0C139.2 45.9 142.2 45.7 143.7 46.5C145.1 47.2 145.1 49.2 145.9 50.5C146.6 51.8 146.6 53.3 148.1 54.3C149.6 55.2 152.5 55.9 154.8 56.0C157.0 56.1 159.2 55.1 161.4 54.9C163.7 54.7 166.4 54.4 168.1 54.9C169.8 55.5 170.5 57.1 171.4 58.3C172.4 59.4 172.7 61.0 173.7 61.6C174.6 62.1 175.5 61.2 177.0 61.6C178.5 62.0 181.2 62.5 182.5 63.8C183.8 65.1 185.0 67.5 184.8 69.4C184.6 71.2 182.7 73.4 181.4 74.9C180.1 76.4 178.5 78.1 177.0 78.3C175.5 78.4 173.7 75.7 172.5 76.0C171.4 76.4 171.1 79.0 170.3 80.5C169.6 82.0 169.6 84.9 168.1 84.9C166.6 84.9 164.0 82.3 161.4 80.5C158.8 78.6 154.6 74.2 152.5 73.8C150.5 73.4 149.9 76.5 149.2 78.3C148.5 80.0 149.1 85.5 148.3 84.5C147.6 83.5 146.8 75.0 144.8 72.3C142.7 69.5 137.8 68.6 135.9 67.8C134.0 67.0 135.0 67.7 133.2 67.4C131.4 67.1 127.0 66.3 125.2 66.0C123.4 65.7 123.7 66.4 122.5 65.6C121.4 64.8 118.7 62.9 118.1 61.1C117.5 59.4 118.3 56.7 119.2 54.9ZM210.1 112.3C210.1 112.6 209.9 113.0 209.7 113.2C209.5 113.4 209.1 113.6 208.8 113.6C208.5 113.6 208.0 113.4 207.8 113.2C207.6 113.0 207.4 112.6 207.4 112.3C207.4 111.9 207.6 111.5 207.8 111.3C208.0 111.1 208.5 110.9 208.8 110.9C209.1 110.9 209.5 111.1 209.7 111.3C209.9 111.5 210.1 111.9 210.1 112.3Z"/>
<path fill="#0000ff" d="M31.4 41.6C32.5 41.2 36.1 41.8 37.0 42.7C37.9 43.6 37.7 46.2 37.0 47.1C36.2 48.1 33.6 48.6 32.5 48.3C31.5 47.9 31.0 46.0 30.8 44.9C30.6 43.8 30.4 42.0 31.4 41.6ZM34.8 51.1C35.9 49.8 40.3 49.7 42.5 50.0C44.8 50.4 47.4 52.1 48.1 53.4C48.8 54.7 47.7 56.5 47.0 57.8C46.2 59.1 45.0 60.4 43.7 61.1C42.4 61.9 40.5 62.8 39.2 62.3C37.9 61.7 36.6 59.7 35.9 57.8C35.1 56.0 33.7 52.4 34.8 51.1ZM130.3 59.4C130.3 56.8 132.2 52.4 133.7 50.5C135.1 48.6 137.5 48.0 139.2 47.8C140.9 47.6 142.7 48.2 143.7 49.4C144.6 50.6 143.8 53.6 144.8 54.9C145.7 56.2 147.5 57.0 149.2 57.1C150.9 57.3 152.7 56.4 154.8 56.0C156.8 55.7 159.2 54.9 161.4 54.9C163.7 54.9 166.4 54.9 168.1 56.0C169.8 57.1 171.1 59.6 171.4 61.6C171.8 63.6 170.9 66.4 170.3 68.3C169.8 70.1 169.6 71.8 168.1 72.7C166.6 73.6 163.7 74.0 161.4 73.8C159.2 73.6 156.6 72.3 154.8 71.6C152.9 70.8 151.2 68.8 150.3 69.4C149.4 69.9 149.6 73.1 149.2 74.9C148.8 76.8 148.7 79.2 148.1 80.5C147.5 81.8 146.8 84.1 145.9 82.7C145.0 81.3 144.6 75.1 142.5 72.3C140.5 69.4 135.7 67.7 133.7 65.6C131.6 63.4 130.3 61.9 130.3 59.4Z"/>
<path fill="#0000b0" d="M42.3 54.9C42.3 55.7 41.9 56.6 41.4 57.1C40.9 57.6 39.9 58.0 39.2 58.0C38.5 58.0 37.5 57.6 37.0 57.1C36.5 56.6 36.1 55.7 36.1 54.9C36.1 54.2 36.5 53.2 37.0 52.7C37.5 52.2 38.5 51.8 39.2 51.8C39.9 51.8 40.9 52.2 41.4 52.7C41.9 53.2 42.3 54.2 42.3 54.9ZM134.1 52.3C135.2 50.7 138.0 49.6 139.2 50.0C140.4 50.5 141.2 53.1 141.4 54.9C141.6 56.8 141.2 59.8 140.3 61.1C139.4 62.4 137.2 63.0 135.9 62.7C134.6 62.4 132.8 61.1 132.5 59.4C132.2 57.6 133.0 53.8 134.1 52.3ZM157.0 57.8C158.7 56.8 161.8 55.9 163.7 56.3C165.5 56.6 167.4 58.3 168.1 60.0C168.8 61.8 169.0 65.3 168.1 66.7C167.2 68.1 164.4 68.4 162.5 68.3C160.7 68.1 158.5 67.0 157.0 66.0C155.5 65.0 153.7 63.6 153.7 62.3C153.7 60.9 155.3 58.8 157.0 57.8Z"/>
<path fill="#ffff00" d="M32.0 45.6C32.2 46.2 32.4 47.1 32.4 47.6C32.4 48.2 32.1 48.7 31.8 48.9C31.4 49.0 30.8 48.9 30.4 48.6C30.0 48.2 29.4 47.5 29.1 46.9C28.8 46.3 28.7 45.4 28.7 44.9C28.7 44.3 29.0 43.8 29.3 43.6C29.7 43.5 30.2 43.6 30.7 43.9C31.1 44.3 31.7 45.0 32.0 45.6ZM121.4 66.5C122.5 65.6 127.7 65.4 130.3 64.9C132.9 64.5 134.8 64.6 137.0 63.8C139.2 63.1 141.1 61.4 143.7 60.5C146.2 59.6 150.3 58.4 152.5 58.3C154.8 58.1 156.6 58.6 157.0 59.4C157.4 60.1 155.5 61.6 154.8 62.7C154.0 63.8 152.2 65.3 152.5 66.0C152.9 66.8 155.7 66.8 157.0 67.1C158.3 67.5 160.0 67.6 160.3 68.3C160.7 68.9 160.1 70.6 159.2 70.9C158.3 71.3 156.2 70.9 154.8 70.5C153.3 70.0 151.4 68.3 150.3 68.3C149.2 68.3 148.3 69.4 148.1 70.5C147.9 71.6 149.0 73.3 149.2 74.9C149.5 76.6 150.0 79.6 149.7 80.5C149.3 81.4 148.4 81.2 147.0 80.5C145.6 79.7 143.3 77.0 141.4 76.0C139.6 75.1 138.1 75.3 135.9 74.9C133.7 74.6 130.1 74.6 128.1 73.8C126.1 73.1 124.8 71.7 123.7 70.5C122.5 69.3 120.3 67.4 121.4 66.5Z"/>
<path fill="#ffa000" d="M125.2 69.1C126.0 68.7 129.1 68.8 131.0 68.7C132.8 68.6 134.8 67.9 136.3 68.3C137.8 68.6 138.8 70.2 139.9 70.9C141.0 71.7 141.8 71.9 143.0 72.7C144.2 73.5 146.1 74.7 147.0 75.8C147.8 76.9 148.4 79.0 148.1 79.4C147.8 79.7 146.3 78.7 145.2 78.0C144.1 77.4 143.0 76.0 141.4 75.4C139.9 74.8 138.0 74.8 135.9 74.5C133.8 74.2 130.4 74.1 128.8 73.6C127.1 73.1 126.7 72.1 126.1 71.4C125.5 70.6 124.4 69.6 125.2 69.1Z"/>
<path fill="#ff0000" d="M143.4 71.8C143.4 72.0 143.3 72.3 143.2 72.4C143.0 72.6 142.8 72.7 142.5 72.7C142.3 72.7 142.1 72.6 141.9 72.4C141.8 72.3 141.7 72.0 141.7 71.8C141.7 71.6 141.8 71.3 141.9 71.2C142.1 71.0 142.3 70.9 142.5 70.9C142.8 70.9 143.0 71.0 143.2 71.2C143.3 71.3 143.4 71.6 143.4 71.8Z"/>
</g></g>
<use href="#bord"/><use href="#coast"/><use href="#thk"/>
</g>
<rect width="216.0" height="122.9" fill="none" stroke="#000" stroke-width="2.5"/>
<text class="l" x="4.6" y="118.6">a) ISBA</text>
</g>
<g transform="translate(271.5,57.3)">
<use href="#tk"/>
<g clip-path="url(#cp)">
<rect width="216.0" height="122.9" fill="#eeeeee"/>
<use href="#land" fill="#fff"/>
<g clip-path="url(#cl)"><g filter="url(#rag)">
<path fill="#06dc0a" d="M16.4 36.3C17.1 35.2 24.3 37.0 26.4 37.1C28.5 37.3 26.9 37.2 29.1 37.3C31.2 37.4 37.1 37.6 39.2 37.7C41.4 37.8 40.6 38.5 41.9 37.8C43.3 37.1 45.5 34.0 47.5 33.4C49.5 32.7 52.5 32.9 54.2 34.0C55.8 35.1 56.8 37.6 57.5 40.0C58.2 42.5 57.5 47.6 58.6 48.9C59.7 50.2 61.8 48.0 64.2 47.8C66.6 47.6 70.5 47.3 73.1 47.8C75.6 48.4 78.1 50.0 79.7 51.1C81.4 52.3 82.7 52.4 83.1 54.5C83.4 56.5 82.9 61.1 81.9 63.4C81.0 65.6 79.4 66.7 77.5 67.8C75.6 68.9 73.1 69.5 70.8 70.0C68.6 70.6 65.6 70.2 64.2 71.1C62.7 72.1 63.6 75.2 61.9 75.6C60.3 76.0 55.8 74.0 54.2 73.4C52.5 72.8 53.5 73.0 51.9 71.9C50.2 70.9 45.9 68.1 44.2 67.0C42.6 66.0 42.6 66.1 41.9 65.6C41.2 65.0 41.6 65.2 40.0 63.7C38.5 62.1 34.3 57.9 32.7 56.4C31.2 54.9 31.4 55.1 30.8 54.5C30.2 53.8 30.3 53.9 29.1 52.4C27.9 50.9 24.8 47.0 23.6 45.5C22.4 44.0 23.2 44.9 21.9 43.4C20.7 41.8 15.6 37.3 16.4 36.3ZM85.3 63.4C86.3 61.7 88.8 60.4 90.8 60.0C92.9 59.7 95.6 60.6 97.5 61.1C99.4 61.7 101.2 62.1 101.9 63.4C102.7 64.7 103.1 67.6 101.9 68.9C100.8 70.2 97.5 70.4 95.3 71.1C93.1 71.9 90.4 73.6 88.6 73.4C86.8 73.2 85.2 71.7 84.6 70.0C84.1 68.4 84.2 65.0 85.3 63.4ZM97.5 50.0C98.2 47.6 101.2 47.8 103.1 46.7C104.9 45.6 106.6 44.3 108.6 43.4C110.6 42.4 113.8 40.4 115.3 41.1C116.8 41.9 117.5 45.2 117.5 47.8C117.5 50.4 116.0 53.7 115.3 56.7C114.5 59.7 115.3 63.7 113.1 65.6C110.8 67.4 104.4 68.6 101.9 67.8C99.5 67.1 99.4 64.1 98.6 61.1C97.9 58.2 96.8 52.4 97.5 50.0ZM115.3 52.3C116.5 50.9 119.7 48.4 121.9 46.7C124.2 45.0 125.6 42.8 128.6 42.3C131.6 41.7 137.4 43.1 139.7 43.4C142.0 43.6 140.6 43.4 142.4 43.6C144.2 43.7 148.6 44.1 150.4 44.3C152.1 44.4 151.1 44.4 153.1 44.5C155.0 44.5 159.7 43.6 161.9 44.5C164.2 45.4 164.5 48.9 166.4 50.0C168.2 51.1 170.5 50.2 173.1 51.1C175.6 52.1 180.8 53.6 181.9 55.6C183.1 57.6 179.4 61.0 179.7 63.4C180.1 65.8 183.6 67.4 184.2 70.0C184.7 72.6 182.7 76.3 183.1 78.9C183.4 81.5 184.7 83.0 186.4 85.6C188.1 88.2 190.5 93.7 193.1 94.5C195.6 95.2 199.4 91.0 201.9 90.0C204.5 89.1 207.1 89.0 208.6 88.9C210.2 88.8 208.4 88.9 211.3 89.4C214.2 89.8 223.1 91.3 225.9 91.8C228.8 92.3 228.2 91.7 228.6 92.3C229.1 92.8 228.6 88.4 228.6 95.0C228.6 101.5 228.6 125.2 228.6 131.8C228.6 138.4 229.1 134.0 228.6 134.5C228.2 134.9 240.3 134.5 225.9 134.5C211.5 134.5 156.8 134.5 142.4 134.5C128.1 134.5 140.1 134.9 139.7 134.5C139.3 134.0 139.3 139.5 140.0 131.8C140.7 124.1 143.2 96.0 143.9 88.3C144.6 80.6 144.9 87.5 144.2 85.6C143.5 83.7 140.9 78.3 139.7 76.7C138.6 75.1 139.7 76.7 137.2 75.8C134.7 74.8 127.0 71.9 124.5 71.0C121.9 70.0 123.8 70.6 121.9 70.0C120.0 69.5 114.5 68.6 113.1 67.8C111.6 67.0 113.1 67.3 113.4 65.1C113.7 63.0 114.6 57.1 114.9 54.9C115.2 52.8 114.1 53.6 115.3 52.3ZM124.6 30.0C124.6 30.5 124.3 31.0 123.8 31.3C123.4 31.6 122.6 31.8 121.9 31.8C121.3 31.8 120.5 31.6 120.1 31.3C119.6 31.0 119.3 30.5 119.3 30.0C119.3 29.6 119.6 29.1 120.1 28.8C120.5 28.5 121.3 28.3 121.9 28.3C122.6 28.3 123.4 28.5 123.8 28.8C124.3 29.1 124.6 29.6 124.6 30.0ZM213.7 67.8C213.7 68.5 213.2 69.5 212.6 70.0C211.9 70.5 210.7 70.9 209.7 70.9C208.8 70.9 207.6 70.5 206.9 70.0C206.2 69.5 205.7 68.5 205.7 67.8C205.7 67.1 206.2 66.1 206.9 65.6C207.6 65.1 208.8 64.7 209.7 64.7C210.7 64.7 211.9 65.1 212.6 65.6C213.2 66.1 213.7 67.1 213.7 67.8ZM209.7 82.3C209.7 82.8 209.3 83.5 208.7 83.8C208.2 84.2 207.2 84.5 206.4 84.5C205.6 84.5 204.6 84.2 204.0 83.8C203.5 83.5 203.1 82.8 203.1 82.3C203.1 81.7 203.5 81.1 204.0 80.7C204.6 80.3 205.6 80.0 206.4 80.0C207.2 80.0 208.2 80.3 208.7 80.7C209.3 81.1 209.7 81.7 209.7 82.3ZM191.9 42.3C191.9 42.5 191.8 42.9 191.6 43.0C191.4 43.2 191.1 43.4 190.8 43.4C190.6 43.4 190.2 43.2 190.0 43.0C189.9 42.9 189.7 42.5 189.7 42.3C189.7 42.0 189.9 41.7 190.0 41.5C190.2 41.3 190.6 41.1 190.8 41.1C191.1 41.1 191.4 41.3 191.6 41.5C191.8 41.7 191.9 42.0 191.9 42.3ZM86.2 8.9C86.2 9.1 86.1 9.4 85.9 9.6C85.8 9.7 85.5 9.8 85.3 9.8C85.1 9.8 84.8 9.7 84.6 9.6C84.5 9.4 84.4 9.1 84.4 8.9C84.4 8.7 84.5 8.4 84.6 8.3C84.8 8.1 85.1 8.0 85.3 8.0C85.5 8.0 85.8 8.1 85.9 8.3C86.1 8.4 86.2 8.7 86.2 8.9Z"/>
<path fill="#04b608" d="M150.8 74.5C152.8 73.7 158.2 71.9 161.9 72.3C165.6 72.6 171.1 75.5 173.1 76.7C175.0 77.9 173.2 77.6 173.5 79.4C173.8 81.1 174.5 85.6 174.8 87.4C175.1 89.1 175.9 87.7 175.3 90.0C174.6 92.3 171.9 97.4 170.8 101.1C169.7 104.8 170.8 110.4 168.6 112.3C166.4 114.1 160.8 113.7 157.5 112.3C154.2 110.8 150.5 106.3 148.6 103.4C146.8 100.4 146.7 96.4 146.4 94.5C146.1 92.6 146.3 94.7 147.0 91.8C147.6 88.9 149.6 80.0 150.2 77.1C150.9 74.2 148.9 75.3 150.8 74.5ZM193.1 107.8C194.9 106.2 200.6 101.9 204.2 101.1C207.7 100.4 212.5 102.5 214.2 103.4C215.8 104.2 214.2 103.6 214.2 106.1C214.2 108.6 214.2 115.9 214.2 118.4C214.2 121.0 214.6 120.7 214.2 121.1C213.7 121.6 214.5 121.1 211.5 121.1C208.4 121.1 198.8 121.1 195.8 121.1C192.7 121.1 193.5 121.6 193.1 121.1C192.6 120.7 193.1 120.2 193.1 118.4C193.1 116.7 193.1 112.3 193.1 110.5C193.1 108.7 191.2 109.4 193.1 107.8ZM46.4 41.1C48.1 40.3 54.7 38.8 56.4 38.9C58.1 39.0 56.4 38.7 56.5 41.6C56.7 44.5 57.2 53.3 57.4 56.2C57.5 59.1 58.6 57.7 57.5 58.9C56.4 60.1 52.9 64.1 50.8 63.4C48.8 62.6 46.2 56.4 45.3 54.5C44.4 52.5 45.4 53.6 45.5 51.8C45.6 50.0 46.0 45.6 46.2 43.8C46.3 42.1 44.7 42.0 46.4 41.1ZM174.2 62.3C175.6 60.4 180.6 60.9 181.9 61.1C183.3 61.4 182.0 61.7 182.1 63.8C182.3 66.0 182.7 71.9 182.9 74.0C183.0 76.2 183.9 75.7 183.1 76.7C182.2 77.7 179.2 80.8 177.5 80.0C175.8 79.3 173.6 75.2 173.1 72.3C172.5 69.3 172.7 64.1 174.2 62.3Z"/>
<path fill="#ffffff" d="M59.7 68.9C59.7 69.4 59.2 70.1 58.6 70.5C57.9 70.9 56.7 71.1 55.7 71.1C54.8 71.1 53.6 70.9 52.9 70.5C52.2 70.1 51.7 69.4 51.7 68.9C51.7 68.4 52.2 67.7 52.9 67.4C53.6 67.0 54.8 66.7 55.7 66.7C56.7 66.7 57.9 67.0 58.6 67.4C59.2 67.7 59.7 68.4 59.7 68.9ZM153.9 49.6C153.9 50.3 153.6 51.2 153.0 51.6C152.5 52.1 151.6 52.5 150.8 52.5C150.1 52.5 149.2 52.1 148.6 51.6C148.1 51.2 147.7 50.3 147.7 49.6C147.7 48.9 148.1 48.0 148.6 47.5C149.2 47.1 150.1 46.7 150.8 46.7C151.6 46.7 152.5 47.1 153.0 47.5C153.6 48.0 153.9 48.9 153.9 49.6ZM124.6 52.7C124.6 53.1 124.3 53.7 123.8 54.0C123.4 54.3 122.6 54.5 121.9 54.5C121.3 54.5 120.5 54.3 120.1 54.0C119.6 53.7 119.3 53.1 119.3 52.7C119.3 52.3 119.6 51.7 120.1 51.4C120.5 51.1 121.3 50.9 121.9 50.9C122.6 50.9 123.4 51.1 123.8 51.4C124.3 51.7 124.6 52.3 124.6 52.7ZM163.7 118.5C163.7 119.1 163.0 119.9 162.0 120.4C161.1 120.8 159.3 121.1 157.9 121.1C156.6 121.1 154.8 120.8 153.9 120.4C152.9 119.9 152.2 119.1 152.2 118.5C152.2 117.8 152.9 117.0 153.9 116.6C154.8 116.1 156.6 115.8 157.9 115.8C159.3 115.8 161.1 116.1 162.0 116.6C163.0 117.0 163.7 117.8 163.7 118.5ZM187.7 101.1C187.7 102.3 187.6 103.8 187.3 104.6C187.1 105.4 186.7 106.0 186.4 106.0C186.1 106.0 185.7 105.4 185.4 104.6C185.2 103.8 185.1 102.3 185.1 101.1C185.1 100.0 185.2 98.5 185.4 97.7C185.7 96.9 186.1 96.3 186.4 96.3C186.7 96.3 187.1 96.9 187.3 97.7C187.6 98.5 187.7 100.0 187.7 101.1ZM90.4 66.0C90.4 66.6 90.2 67.2 89.9 67.6C89.6 68.0 89.0 68.3 88.6 68.3C88.2 68.3 87.7 68.0 87.4 67.6C87.1 67.2 86.8 66.6 86.8 66.0C86.8 65.5 87.1 64.8 87.4 64.5C87.7 64.1 88.2 63.8 88.6 63.8C89.0 63.8 89.6 64.1 89.9 64.5C90.2 64.8 90.4 65.5 90.4 66.0ZM109.9 53.4C109.9 54.1 109.8 55.0 109.6 55.6C109.3 56.1 108.9 56.5 108.6 56.5C108.3 56.5 107.9 56.1 107.7 55.6C107.4 55.0 107.3 54.1 107.3 53.4C107.3 52.6 107.4 51.7 107.7 51.2C107.9 50.6 108.3 50.3 108.6 50.3C108.9 50.3 109.3 50.6 109.6 51.2C109.8 51.7 109.9 52.6 109.9 53.4Z"/>
<path fill="#00ffff" d="M30.8 44.5C31.2 43.6 34.5 46.9 36.4 47.8C38.2 48.7 39.7 49.5 41.9 50.0C44.2 50.6 48.2 50.3 49.7 51.1C51.2 52.0 51.6 54.0 50.8 54.9C50.1 55.8 46.6 55.7 45.3 56.7C44.0 57.7 44.2 60.6 43.1 61.1C41.9 61.7 40.1 61.3 38.6 60.0C37.1 58.7 35.5 56.0 34.2 53.4C32.9 50.8 30.5 45.4 30.8 44.5ZM127.5 54.5C127.9 52.4 131.0 50.2 133.1 48.9C135.1 47.6 138.1 46.1 139.7 46.7C141.4 47.3 141.6 50.9 143.1 52.3C144.5 53.6 146.6 54.3 148.6 54.9C150.6 55.6 153.1 55.8 155.3 56.3C157.5 56.7 159.7 57.7 161.9 57.8C164.2 57.9 166.8 56.0 168.6 56.7C170.5 57.4 173.1 60.0 173.1 62.3C173.1 64.5 170.5 68.2 168.6 70.0C166.8 71.9 164.2 73.0 161.9 73.4C159.7 73.7 157.1 73.2 155.3 72.3C153.4 71.3 153.4 68.9 150.8 67.8C148.2 66.7 143.1 66.7 139.7 65.6C136.4 64.5 132.9 63.0 130.8 61.1C128.8 59.3 127.1 56.5 127.5 54.5ZM146.8 87.8C148.2 86.7 152.9 86.9 154.2 87.8C155.4 88.7 154.9 92.1 154.2 93.4C153.4 94.7 151.1 95.4 149.7 95.6C148.4 95.8 146.4 95.8 145.9 94.5C145.5 93.2 145.5 88.9 146.8 87.8ZM201.9 106.7C201.9 107.2 201.8 107.9 201.6 108.3C201.4 108.6 201.1 108.9 200.8 108.9C200.6 108.9 200.2 108.6 200.0 108.3C199.9 107.9 199.7 107.2 199.7 106.7C199.7 106.2 199.9 105.5 200.0 105.1C200.2 104.8 200.6 104.5 200.8 104.5C201.1 104.5 201.4 104.8 201.6 105.1C201.8 105.5 201.9 106.2 201.9 106.7ZM208.8 112.3C208.8 112.5 208.7 112.9 208.4 113.0C208.2 113.2 207.8 113.4 207.5 113.4C207.2 113.4 206.8 113.2 206.6 113.0C206.3 112.9 206.2 112.5 206.2 112.3C206.2 112.0 206.3 111.7 206.6 111.5C206.8 111.3 207.2 111.1 207.5 111.1C207.8 111.1 208.2 111.3 208.4 111.5C208.7 111.7 208.8 112.0 208.8 112.3ZM195.3 112.3C195.3 112.5 195.1 112.7 195.0 112.9C194.8 113.0 194.4 113.1 194.2 113.1C193.9 113.1 193.6 113.0 193.4 112.9C193.2 112.7 193.1 112.5 193.1 112.3C193.1 112.0 193.2 111.8 193.4 111.6C193.6 111.5 193.9 111.4 194.2 111.4C194.4 111.4 194.8 111.5 195.0 111.6C195.1 111.8 195.3 112.0 195.3 112.3Z"/>
<path fill="#0090ff" d="M130.8 55.6C131.2 53.9 133.8 51.7 135.3 51.1C136.8 50.6 138.8 51.0 139.7 52.3C140.6 53.6 139.4 57.4 140.8 58.9C142.3 60.4 145.8 61.0 148.6 61.1C151.4 61.3 155.3 60.0 157.5 60.0C159.7 60.0 161.6 59.8 161.9 61.1C162.3 62.4 161.2 66.3 159.7 67.8C158.2 69.3 154.9 70.4 153.1 70.0C151.2 69.7 150.8 66.5 148.6 65.6C146.4 64.7 142.3 65.2 139.7 64.5C137.1 63.7 134.5 62.6 133.1 61.1C131.6 59.7 130.5 57.3 130.8 55.6ZM28.6 42.9C29.5 43.1 31.6 45.1 33.1 46.7C34.5 48.3 36.9 50.9 37.5 52.3C38.1 53.6 37.3 55.1 36.4 54.9C35.5 54.7 33.4 52.7 31.9 51.1C30.5 49.6 28.1 47.0 27.5 45.6C26.9 44.2 27.7 42.7 28.6 42.9Z"/>
<path fill="#0000ff" d="M135.3 61.1C135.6 60.6 141.2 62.4 144.2 62.3C147.1 62.1 150.5 61.0 153.1 60.0C155.6 59.1 158.1 56.9 159.7 56.7C161.4 56.5 163.4 57.4 163.1 58.9C162.7 60.4 159.5 64.1 157.5 65.6C155.5 67.1 153.4 67.8 150.8 67.8C148.2 67.8 144.5 66.7 141.9 65.6C139.4 64.5 134.9 61.7 135.3 61.1ZM28.2 42.7C28.7 42.6 30.9 44.8 31.9 46.0C32.9 47.3 34.2 49.3 34.2 50.0C34.2 50.8 32.9 51.0 31.9 50.5C31.0 49.9 29.2 48.0 28.6 46.7C28.0 45.4 27.6 42.8 28.2 42.7Z"/>
<path fill="#0000b0" d="M139.7 62.7C140.6 62.2 146.0 63.0 148.6 62.7C151.2 62.4 154.0 61.0 155.3 61.1C156.6 61.3 157.1 62.6 156.4 63.4C155.6 64.2 153.1 65.7 150.8 66.0C148.6 66.4 144.9 66.1 143.1 65.6C141.2 65.0 138.8 63.2 139.7 62.7Z"/>
<path fill="#ffff00" d="M121.9 68.3C123.1 67.6 127.9 67.4 130.8 67.4C133.8 67.4 137.1 68.6 139.7 68.3C142.3 67.9 144.7 65.5 146.4 65.1C148.1 64.8 149.4 64.8 149.7 66.0C150.1 67.2 148.6 69.9 148.6 72.3C148.6 74.6 150.1 78.8 149.7 80.0C149.4 81.2 147.7 80.1 146.4 79.4C145.1 78.6 143.8 76.3 141.9 75.6C140.1 74.8 137.7 75.1 135.3 74.9C132.9 74.7 129.4 75.1 127.5 74.5C125.6 73.8 124.6 72.2 123.7 71.1C122.8 70.1 120.8 68.9 121.9 68.3Z"/>
<path fill="#ffa000" d="M128.6 71.4C129.5 70.8 133.1 70.3 135.3 70.5C137.4 70.6 139.8 71.5 141.5 72.3C143.2 73.0 144.6 73.9 145.5 74.9C146.4 76.0 147.4 78.3 146.8 78.5C146.2 78.7 144.1 76.8 141.9 76.3C139.8 75.7 136.2 75.3 134.2 74.9C132.1 74.6 130.6 74.6 129.7 74.0C128.8 73.4 127.7 72.0 128.6 71.4Z"/>
</g></g>
<use href="#bord"/><use href="#coast"/><use href="#thk"/>
</g>
<rect width="216.0" height="122.9" fill="none" stroke="#000" stroke-width="2.5"/>
<text class="l" x="4.6" y="118.6">b) ISBA_DIF</text>
</g>
<g transform="translate(498.4,57.3)">
<use href="#tk"/>
<g clip-path="url(#cp)">
<rect width="216.0" height="122.9" fill="#eeeeee"/>
<use href="#land" fill="#fff"/>
<g clip-path="url(#cl)"><g filter="url(#rag)">
<path fill="#06dc0a" d="M17.6 36.7C18.7 35.3 26.4 36.3 28.7 36.3C31.0 36.2 29.6 36.4 31.4 36.6C33.2 36.8 37.6 37.3 39.4 37.5C41.1 37.7 40.7 38.2 42.0 37.8C43.4 37.4 45.7 34.9 47.6 34.9C49.5 34.9 51.5 36.4 53.2 37.8C54.8 39.2 56.7 41.5 57.6 43.4C58.5 45.2 57.2 48.1 58.7 48.9C60.2 49.7 63.9 48.1 66.5 48.3C69.1 48.4 72.2 49.6 74.3 50.0C76.3 50.5 77.2 50.0 78.7 51.1C80.2 52.3 82.6 54.7 83.2 56.7C83.7 58.7 81.7 61.5 82.0 63.4C82.4 65.2 83.2 67.8 85.4 67.8C87.6 67.8 92.8 64.1 95.4 63.4C98.0 62.6 99.8 62.6 100.9 63.4C102.0 64.1 102.3 66.9 102.0 67.8C101.8 68.7 101.7 67.9 99.5 68.7C97.3 69.5 91.2 71.7 89.0 72.5C86.9 73.2 87.4 73.2 86.5 73.4C85.6 73.5 85.9 73.3 83.8 73.2C81.7 73.0 75.8 72.6 73.6 72.4C71.5 72.3 72.9 71.7 70.9 72.3C69.0 72.8 65.4 75.8 62.0 75.6C58.7 75.4 54.3 72.8 50.9 71.1C47.6 69.5 43.8 66.8 42.0 65.6C40.2 64.3 41.7 65.2 40.1 63.7C38.6 62.1 34.4 57.9 32.8 56.4C31.3 54.9 31.6 55.1 30.9 54.5C30.3 53.8 30.3 53.8 29.1 52.5C28.0 51.1 25.0 47.8 23.8 46.5C22.7 45.2 23.1 46.1 22.0 44.5C21.0 42.8 16.5 38.1 17.6 36.7ZM100.9 51.1C101.8 50.0 104.5 47.8 106.5 46.7C108.5 45.6 111.1 45.4 113.2 44.5C115.2 43.6 116.1 41.5 118.7 41.1C121.3 40.8 125.2 41.7 128.7 42.3C132.2 42.8 137.5 44.0 139.8 44.5C142.1 44.9 140.7 44.6 142.5 44.9C144.3 45.2 148.7 46.0 150.5 46.3C152.3 46.6 151.2 46.6 153.2 46.7C155.1 46.8 159.8 46.0 162.0 46.7C164.3 47.4 166.1 49.5 166.5 51.1C166.9 52.8 166.5 55.4 164.3 56.7C162.0 58.0 155.4 58.5 153.2 58.9C150.9 59.4 153.8 58.8 150.5 59.5C147.2 60.1 136.8 62.2 133.6 62.8C130.3 63.5 131.8 63.2 130.9 63.4C130.1 63.6 130.1 63.6 128.3 64.0C126.5 64.5 122.0 65.6 120.2 66.0C118.4 66.5 118.5 66.6 117.6 66.7C116.7 66.8 117.0 66.7 114.9 66.7C112.8 66.7 106.9 66.7 104.7 66.7C102.6 66.7 102.5 67.1 102.0 66.7C101.6 66.3 102.0 66.2 101.9 64.0C101.7 61.9 101.3 56.0 101.1 53.8C101.0 51.7 100.0 52.3 100.9 51.1ZM162.0 53.4C163.4 52.8 168.7 51.5 170.9 52.3C173.2 53.0 173.5 56.0 175.4 57.8C177.2 59.7 180.7 61.0 182.0 63.4C183.3 65.8 182.4 69.5 183.2 72.3C183.9 75.0 184.8 79.7 186.5 80.0C188.2 80.4 190.2 75.8 193.2 74.5C196.1 73.2 202.0 72.6 204.3 72.3C206.6 71.9 203.3 72.2 207.0 72.4C210.6 72.5 222.4 73.1 226.0 73.2C229.6 73.4 228.3 72.9 228.7 73.4C229.2 73.8 228.7 66.3 228.7 76.1C228.7 85.8 228.7 122.0 228.7 131.8C228.7 141.5 229.2 134.0 228.7 134.5C228.3 134.9 238.2 134.5 226.0 134.5C213.9 134.5 168.0 134.5 155.9 134.5C143.7 134.5 153.7 134.9 153.2 134.5C152.6 134.0 153.7 137.0 152.5 131.8C151.3 126.7 147.2 108.9 146.0 103.8C144.8 98.7 145.4 102.0 145.4 101.1C145.4 100.3 145.6 100.3 146.0 98.5C146.5 96.7 147.6 92.2 148.1 90.4C148.5 88.6 148.2 89.4 148.7 87.8C149.2 86.3 148.7 81.9 150.9 81.1C153.2 80.4 158.7 84.1 162.0 83.4C165.4 82.6 169.6 78.2 170.9 76.7C172.3 75.2 171.3 77.6 170.0 74.2C168.7 70.7 164.3 59.4 163.0 55.9C161.7 52.4 160.7 54.0 162.0 53.4ZM193.2 61.1C193.9 58.4 200.1 56.6 202.0 55.6C204.0 54.6 200.7 55.7 204.7 55.4C208.7 55.0 222.0 53.9 226.0 53.6C230.0 53.3 228.3 53.0 228.7 53.4C229.2 53.8 228.7 53.2 228.7 56.1C228.7 59.0 228.7 67.8 228.7 70.7C228.7 73.6 229.2 72.9 228.7 73.4C228.3 73.8 230.7 73.4 226.0 73.3C221.3 73.1 205.0 72.5 200.3 72.4C195.6 72.2 198.8 74.1 197.6 72.3C196.4 70.4 192.4 63.9 193.2 61.1Z"/>
<path fill="#98e898" d="M195.8 36.7C195.8 37.1 195.6 37.7 195.4 38.0C195.1 38.3 194.6 38.5 194.3 38.5C193.9 38.5 193.4 38.3 193.2 38.0C192.9 37.7 192.7 37.1 192.7 36.7C192.7 36.3 192.9 35.7 193.2 35.4C193.4 35.1 193.9 34.9 194.3 34.9C194.6 34.9 195.1 35.1 195.4 35.4C195.6 35.7 195.8 36.3 195.8 36.7ZM203.6 42.3C203.6 42.6 203.3 43.0 202.8 43.2C202.4 43.4 201.6 43.6 200.9 43.6C200.3 43.6 199.5 43.4 199.0 43.2C198.6 43.0 198.3 42.6 198.3 42.3C198.3 41.9 198.6 41.5 199.0 41.3C199.5 41.1 200.3 40.9 200.9 40.9C201.6 40.9 202.4 41.1 202.8 41.3C203.3 41.5 203.6 41.9 203.6 42.3ZM181.6 43.4C181.6 43.6 181.4 44.0 181.1 44.2C180.8 44.3 180.2 44.5 179.8 44.5C179.4 44.5 178.9 44.3 178.6 44.2C178.3 44.0 178.0 43.6 178.0 43.4C178.0 43.1 178.3 42.8 178.6 42.6C178.9 42.4 179.4 42.3 179.8 42.3C180.2 42.3 180.8 42.4 181.1 42.6C181.4 42.8 181.6 43.1 181.6 43.4ZM171.6 47.4C171.6 47.9 171.4 48.6 171.1 48.9C170.8 49.3 170.2 49.6 169.8 49.6C169.4 49.6 168.9 49.3 168.6 48.9C168.3 48.6 168.0 47.9 168.0 47.4C168.0 46.8 168.3 46.2 168.6 45.8C168.9 45.4 169.4 45.1 169.8 45.1C170.2 45.1 170.8 45.4 171.1 45.8C171.4 46.2 171.6 46.8 171.6 47.4ZM126.3 52.3C126.3 53.4 125.6 54.9 124.7 55.7C123.8 56.5 122.2 57.1 120.9 57.1C119.7 57.1 118.1 56.5 117.2 55.7C116.3 54.9 115.6 53.4 115.6 52.3C115.6 51.1 116.3 49.6 117.2 48.8C118.1 48.0 119.7 47.4 120.9 47.4C122.2 47.4 123.8 48.0 124.7 48.8C125.6 49.6 126.3 51.1 126.3 52.3ZM111.8 51.1C111.8 52.1 111.4 53.3 110.9 54.0C110.4 54.6 109.4 55.1 108.7 55.1C108.0 55.1 107.0 54.6 106.5 54.0C106.0 53.3 105.6 52.1 105.6 51.1C105.6 50.2 106.0 49.0 106.5 48.3C107.0 47.6 108.0 47.1 108.7 47.1C109.4 47.1 110.4 47.6 110.9 48.3C111.4 49.0 111.8 50.2 111.8 51.1ZM50.9 36.7C50.9 37.1 50.6 37.7 50.2 38.0C49.7 38.3 48.9 38.5 48.3 38.5C47.6 38.5 46.8 38.3 46.4 38.0C45.9 37.7 45.6 37.1 45.6 36.7C45.6 36.3 45.9 35.7 46.4 35.4C46.8 35.1 47.6 34.9 48.3 34.9C48.9 34.9 49.7 35.1 50.2 35.4C50.6 35.7 50.9 36.3 50.9 36.7ZM213.2 63.4C213.2 64.7 212.6 66.4 211.9 67.3C211.1 68.2 209.8 68.9 208.7 68.9C207.7 68.9 206.3 68.2 205.6 67.3C204.8 66.4 204.3 64.7 204.3 63.4C204.3 62.1 204.8 60.4 205.6 59.4C206.3 58.5 207.7 57.8 208.7 57.8C209.8 57.8 211.1 58.5 211.9 59.4C212.6 60.4 213.2 62.1 213.2 63.4ZM72.3 67.8C72.3 68.3 71.8 69.0 71.2 69.4C70.6 69.8 69.5 70.0 68.7 70.0C67.9 70.0 66.8 69.8 66.2 69.4C65.6 69.0 65.2 68.3 65.2 67.8C65.2 67.3 65.6 66.6 66.2 66.2C66.8 65.9 67.9 65.6 68.7 65.6C69.5 65.6 70.6 65.9 71.2 66.2C71.8 66.6 72.3 67.3 72.3 67.8Z"/>
<path fill="#04b608" d="M145.4 96.7C145.6 96.1 146.1 96.3 147.7 95.4C149.4 94.5 153.6 92.2 155.2 91.3C156.9 90.4 156.8 90.3 157.6 90.0C158.4 89.8 158.1 90.0 160.3 89.7C162.4 89.3 168.3 88.5 170.5 88.2C172.6 87.9 172.6 87.4 173.2 87.8C173.7 88.2 173.3 88.7 173.6 90.5C173.9 92.3 174.6 96.7 174.9 98.5C175.2 100.3 176.4 98.8 175.4 101.1C174.3 103.4 171.7 109.7 168.7 112.3C165.7 114.8 160.6 116.7 157.6 116.7C154.6 116.7 152.2 113.4 150.9 112.3C149.7 111.1 150.8 111.9 150.0 109.7C149.3 107.5 147.1 101.4 146.3 99.2C145.5 97.1 145.1 97.3 145.4 96.7ZM188.7 103.4C189.0 102.8 189.5 103.1 191.3 102.5C193.1 101.9 197.7 100.4 199.5 99.8C201.3 99.2 201.2 98.9 202.0 98.9C202.9 98.9 203.0 99.3 204.6 99.8C206.2 100.4 210.1 101.9 211.7 102.4C213.3 103.0 213.8 102.8 214.3 103.4C214.7 104.0 214.3 104.3 214.3 106.1C214.3 107.8 214.3 112.2 214.3 114.0C214.3 115.8 214.7 116.2 214.3 116.7C213.8 117.2 214.6 116.7 211.6 116.8C208.5 117.0 198.9 117.5 195.9 117.7C192.8 117.8 193.7 118.2 193.2 117.8C192.6 117.4 193.0 117.2 192.4 115.2C191.8 113.3 190.1 107.9 189.5 105.9C188.9 104.0 188.4 103.9 188.7 103.4ZM42.0 50.0C42.4 49.6 43.0 50.0 44.7 49.8C46.5 49.7 50.9 49.3 52.7 49.1C54.5 49.0 54.4 46.9 55.4 48.9C56.4 50.9 58.9 58.0 58.7 61.1C58.5 64.3 56.5 67.4 54.3 67.8C52.0 68.2 47.0 64.5 45.4 63.4C43.8 62.2 45.2 62.5 44.7 60.7C44.3 59.0 43.1 54.4 42.7 52.7C42.3 50.9 41.7 50.5 42.0 50.0Z"/>
<path fill="#ffffff" d="M183.8 61.1C185.1 60.3 189.5 57.4 191.4 58.9C193.2 60.4 194.4 67.7 194.9 70.0C195.5 72.3 194.9 70.4 194.6 72.7C194.3 75.0 193.4 81.7 193.1 84.0C192.8 86.4 193.7 85.9 192.7 86.7C191.7 87.5 188.0 89.0 186.9 88.9C185.9 88.9 186.8 88.2 186.4 86.3C186.1 84.3 185.1 79.1 184.8 77.1C184.4 75.2 184.4 75.4 184.3 74.5C184.2 73.6 184.2 73.6 184.2 71.8C184.1 70.0 184.0 65.6 183.9 63.8C183.9 62.1 182.6 62.0 183.8 61.1ZM75.8 57.8C75.8 59.0 75.1 60.5 74.1 61.3C73.1 62.1 71.2 62.7 69.8 62.7C68.4 62.7 66.6 62.1 65.6 61.3C64.6 60.5 63.8 59.0 63.8 57.8C63.8 56.7 64.6 55.2 65.6 54.4C66.6 53.5 68.4 52.9 69.8 52.9C71.2 52.9 73.1 53.5 74.1 54.4C75.1 55.2 75.8 56.7 75.8 57.8ZM194.3 86.7C194.3 87.6 193.9 88.9 193.4 89.5C192.9 90.2 192.1 90.7 191.4 90.7C190.7 90.7 189.8 90.2 189.3 89.5C188.9 88.9 188.5 87.6 188.5 86.7C188.5 85.8 188.9 84.5 189.3 83.9C189.8 83.2 190.7 82.7 191.4 82.7C192.1 82.7 192.9 83.2 193.4 83.9C193.9 84.5 194.3 85.8 194.3 86.7ZM214.0 102.3C214.0 103.4 213.7 104.9 213.3 105.7C212.8 106.5 212.0 107.1 211.4 107.1C210.7 107.1 209.9 106.5 209.5 105.7C209.0 104.9 208.7 103.4 208.7 102.3C208.7 101.1 209.0 99.6 209.5 98.8C209.9 98.0 210.7 97.4 211.4 97.4C212.0 97.4 212.8 98.0 213.3 98.8C213.7 99.6 214.0 101.1 214.0 102.3ZM200.9 71.1C200.9 71.6 200.7 72.1 200.3 72.4C199.9 72.7 199.2 72.9 198.7 72.9C198.2 72.9 197.5 72.7 197.1 72.4C196.8 72.1 196.5 71.6 196.5 71.1C196.5 70.7 196.8 70.2 197.1 69.9C197.5 69.6 198.2 69.4 198.7 69.4C199.2 69.4 199.9 69.6 200.3 69.9C200.7 70.2 200.9 70.7 200.9 71.1ZM128.3 54.9C128.3 55.7 128.0 56.6 127.6 57.1C127.2 57.6 126.6 58.0 126.0 58.0C125.5 58.0 124.8 57.6 124.5 57.1C124.1 56.6 123.8 55.7 123.8 54.9C123.8 54.2 124.1 53.2 124.5 52.7C124.8 52.2 125.5 51.8 126.0 51.8C126.6 51.8 127.2 52.2 127.6 52.7C128.0 53.2 128.3 54.2 128.3 54.9ZM208.7 60.0C208.7 60.7 208.4 61.5 208.1 61.9C207.7 62.4 207.0 62.7 206.5 62.7C206.0 62.7 205.3 62.4 204.9 61.9C204.5 61.5 204.3 60.7 204.3 60.0C204.3 59.4 204.5 58.6 204.9 58.1C205.3 57.7 206.0 57.4 206.5 57.4C207.0 57.4 207.7 57.7 208.1 58.1C208.4 58.6 208.7 59.4 208.7 60.0Z"/>
<path fill="#00ffff" d="M30.9 45.6C31.5 45.4 33.9 48.5 35.4 50.0C36.9 51.6 38.3 53.8 39.8 54.9C41.3 56.0 43.3 55.8 44.3 56.7C45.2 57.6 45.9 59.3 45.4 60.0C44.8 60.8 42.4 61.7 40.9 61.1C39.5 60.6 38.0 58.4 36.5 56.7C35.0 55.0 33.0 53.0 32.0 51.1C31.1 49.3 30.4 45.8 30.9 45.6ZM87.6 69.6C87.6 70.0 87.3 70.4 86.9 70.7C86.6 70.9 85.9 71.1 85.4 71.1C84.9 71.1 84.2 70.9 83.8 70.7C83.4 70.4 83.2 70.0 83.2 69.6C83.2 69.2 83.4 68.7 83.8 68.5C84.2 68.2 84.9 68.0 85.4 68.0C85.9 68.0 86.6 68.2 86.9 68.5C87.3 68.7 87.6 69.2 87.6 69.6ZM130.9 52.3C132.6 50.6 134.8 49.1 136.5 48.9C138.2 48.7 140.0 49.8 140.9 51.1C141.9 52.4 140.4 56.1 142.0 56.7C143.7 57.3 148.3 54.9 150.9 54.9C153.5 54.9 155.0 56.2 157.6 56.7C160.2 57.2 163.5 56.7 166.5 57.8C169.5 58.9 172.8 61.3 175.4 63.4C178.0 65.4 181.7 68.2 182.0 70.0C182.4 71.9 179.1 73.0 177.6 74.5C176.1 76.0 174.6 77.3 173.2 78.9C171.7 80.6 170.6 83.4 168.7 84.5C166.9 85.6 164.6 85.8 162.0 85.6C159.5 85.4 155.2 83.2 153.2 83.4C151.1 83.6 150.6 84.8 149.8 86.7C149.1 88.6 149.3 93.9 148.7 94.5C148.2 95.0 146.1 92.6 146.5 90.0C146.9 87.4 150.5 81.1 150.9 78.9C151.4 76.7 150.4 78.3 149.2 76.8C148.0 75.3 144.9 71.4 143.7 69.9C142.5 68.4 142.8 68.2 142.0 67.8C141.3 67.4 141.2 67.7 139.4 67.4C137.6 67.1 133.2 66.3 131.4 66.0C129.6 65.7 130.3 66.0 128.7 65.6C127.2 65.1 122.4 64.5 122.0 63.4C121.7 62.3 125.0 60.8 126.5 58.9C128.0 57.1 129.3 53.9 130.9 52.3ZM202.7 106.7C202.7 107.3 202.5 108.1 202.2 108.6C201.9 109.0 201.4 109.4 200.9 109.4C200.5 109.4 200.0 109.0 199.7 108.6C199.4 108.1 199.2 107.3 199.2 106.7C199.2 106.1 199.4 105.3 199.7 104.8C200.0 104.4 200.5 104.0 200.9 104.0C201.4 104.0 201.9 104.4 202.2 104.8C202.5 105.3 202.7 106.1 202.7 106.7ZM209.8 112.3C209.8 112.6 209.5 113.0 209.2 113.2C208.8 113.4 208.1 113.6 207.6 113.6C207.1 113.6 206.4 113.4 206.0 113.2C205.7 113.0 205.4 112.6 205.4 112.3C205.4 111.9 205.7 111.5 206.0 111.3C206.4 111.1 207.1 110.9 207.6 110.9C208.1 110.9 208.8 111.1 209.2 111.3C209.5 111.5 209.8 111.9 209.8 112.3ZM196.5 111.1C196.5 111.4 196.2 111.7 195.8 111.9C195.5 112.1 194.8 112.3 194.3 112.3C193.7 112.3 193.1 112.1 192.7 111.9C192.3 111.7 192.0 111.4 192.0 111.1C192.0 110.9 192.3 110.5 192.7 110.4C193.1 110.2 193.7 110.0 194.3 110.0C194.8 110.0 195.5 110.2 195.8 110.4C196.2 110.5 196.5 110.9 196.5 111.1ZM169.6 108.5C169.6 109.4 169.4 110.6 169.2 111.3C169.0 112.0 168.6 112.5 168.3 112.5C168.0 112.5 167.5 112.0 167.3 111.3C167.1 110.6 166.9 109.4 166.9 108.5C166.9 107.5 167.1 106.3 167.3 105.6C167.5 105.0 168.0 104.5 168.3 104.5C168.6 104.5 169.0 105.0 169.2 105.6C169.4 106.3 169.6 107.5 169.6 108.5ZM176.7 117.8C176.7 118.2 176.5 118.8 176.3 119.1C176.1 119.4 175.7 119.6 175.4 119.6C175.1 119.6 174.7 119.4 174.4 119.1C174.2 118.8 174.0 118.2 174.0 117.8C174.0 117.4 174.2 116.9 174.4 116.6C174.7 116.3 175.1 116.0 175.4 116.0C175.7 116.0 176.1 116.3 176.3 116.6C176.5 116.9 176.7 117.4 176.7 117.8Z"/>
<path fill="#0090ff" d="M133.2 61.1C133.5 59.1 136.3 54.4 137.6 53.4C138.9 52.3 140.2 53.8 140.9 54.9C141.7 56.0 140.4 59.6 142.0 60.0C143.7 60.5 148.3 58.0 150.9 57.8C153.5 57.6 155.0 58.4 157.6 58.9C160.2 59.5 163.9 59.7 166.5 61.1C169.1 62.6 171.7 65.8 173.2 67.8C174.6 69.8 176.1 72.3 175.4 73.4C174.6 74.5 170.9 74.7 168.7 74.5C166.5 74.3 164.6 72.4 162.0 72.3C159.5 72.1 156.1 74.1 153.2 73.4C150.2 72.6 147.2 69.1 144.3 67.8C141.3 66.5 137.2 66.7 135.4 65.6C133.5 64.5 132.8 63.2 133.2 61.1Z"/>
<path fill="#0000ff" d="M126.5 63.4C127.2 62.7 132.4 62.6 135.4 62.3C138.3 61.9 141.3 61.5 144.3 61.1C147.2 60.8 150.6 60.0 153.2 60.0C155.7 60.0 157.6 60.6 159.8 61.1C162.0 61.7 164.8 62.3 166.5 63.4C168.2 64.5 170.2 66.5 169.8 67.8C169.5 69.1 166.7 70.6 164.3 71.1C161.9 71.7 158.0 71.9 155.4 71.1C152.8 70.4 151.3 67.6 148.7 66.7C146.1 65.8 142.8 66.1 139.8 66.0C136.9 65.9 133.2 66.5 130.9 66.0C128.7 65.6 125.7 64.0 126.5 63.4ZM28.7 43.8C29.0 43.4 31.3 45.7 32.0 46.7C32.8 47.7 33.4 49.7 33.2 50.0C32.9 50.4 31.2 50.0 30.5 48.9C29.7 47.9 28.5 44.2 28.7 43.8Z"/>
<path fill="#0000b0" d="M150.9 63.4C151.5 62.3 157.2 62.6 159.8 62.9C162.4 63.3 165.7 64.5 166.5 65.6C167.2 66.7 165.9 68.9 164.3 69.6C162.6 70.3 158.7 70.6 156.5 69.6C154.3 68.6 150.4 64.5 150.9 63.4Z"/>
<path fill="#ffff00" d="M124.7 68.3C125.3 67.1 129.2 67.8 130.9 67.4C132.7 66.9 133.7 65.5 135.4 65.6C137.0 65.7 139.5 67.1 140.9 67.8C142.4 68.6 143.0 68.9 144.3 70.0C145.6 71.1 147.8 72.9 148.7 74.5C149.6 76.0 150.4 78.8 149.8 79.4C149.3 79.9 147.0 78.6 145.4 77.8C143.7 77.0 141.9 75.0 139.8 74.5C137.8 74.0 135.2 74.9 133.2 74.9C131.1 74.9 129.0 75.6 127.6 74.5C126.2 73.4 124.2 69.4 124.7 68.3Z"/>
<path fill="#ffa000" d="M130.9 68.9C131.5 67.9 134.1 67.0 135.4 67.4C136.7 67.7 138.5 70.1 138.7 71.1C138.9 72.2 137.6 73.4 136.5 73.8C135.4 74.2 133.0 74.2 132.0 73.4C131.1 72.6 130.4 69.9 130.9 68.9ZM140.9 71.1C141.1 70.6 143.3 71.3 144.3 72.3C145.3 73.3 147.1 76.6 146.9 77.1C146.7 77.7 144.2 76.6 143.2 75.6C142.2 74.6 140.7 71.7 140.9 71.1Z"/>
</g></g>
<use href="#bord"/><use href="#coast"/><use href="#thk"/>
</g>
<rect width="216.0" height="122.9" fill="none" stroke="#000" stroke-width="2.5"/>
<text class="l" x="4.6" y="118.6">c) HTESSEL</text>
</g>
<g transform="translate(725.2,57.3)">
<use href="#tk"/>
<g clip-path="url(#cp)">
<rect width="216.0" height="122.9" fill="#eeeeee"/>
<use href="#land" fill="#fff"/>
<g clip-path="url(#cl)"><g filter="url(#rag)">
<path fill="#06dc0a" d="M16.7 33.4C17.4 31.5 23.9 31.5 26.7 32.3C29.5 33.0 30.8 36.7 33.4 37.8C35.9 38.9 39.7 39.3 42.2 38.9C44.8 38.6 46.3 36.5 48.9 35.6C51.5 34.7 55.9 33.0 57.8 33.4C59.7 33.7 60.2 36.0 60.0 37.8C59.8 39.7 56.9 42.4 56.7 44.5C56.5 46.5 57.6 49.4 58.9 50.0C60.2 50.7 62.1 48.7 64.5 48.3C66.9 47.8 70.8 46.9 73.4 47.4C75.9 47.8 78.4 49.8 80.0 51.1C81.7 52.5 83.0 53.7 83.4 55.6C83.7 57.4 82.2 60.2 82.2 62.3C82.2 64.3 84.5 66.5 83.4 67.8C82.2 69.1 78.7 69.3 75.6 70.0C72.4 70.8 66.9 71.3 64.5 72.3C62.1 73.2 63.4 75.8 61.1 75.6C58.9 75.4 54.3 73.0 51.1 71.1C48.0 69.3 44.0 65.9 42.2 64.5C40.4 63.0 41.9 64.1 40.3 62.6C38.8 61.0 34.6 56.8 33.0 55.3C31.5 53.7 31.8 54.0 31.1 53.4C30.5 52.7 30.5 52.7 29.3 51.3C28.2 50.0 25.2 46.7 24.0 45.4C22.9 44.1 23.5 45.4 22.2 43.4C21.0 41.4 15.9 35.2 16.7 33.4ZM85.6 52.3C86.9 51.4 90.8 50.6 93.4 50.0C95.9 49.5 98.5 49.5 101.1 48.9C103.7 48.4 107.1 46.1 108.9 46.7C110.8 47.3 111.9 49.8 112.2 52.3C112.6 54.7 111.9 58.7 111.1 61.1C110.4 63.6 109.7 65.6 107.8 66.7C105.9 67.8 103.2 66.9 100.0 67.8C96.9 68.7 91.4 72.3 88.9 72.3C86.4 72.3 85.6 69.0 84.9 67.8C84.3 66.6 84.9 67.3 85.0 65.1C85.1 63.0 85.4 57.1 85.5 55.0C85.6 52.8 84.3 53.1 85.6 52.3ZM113.4 56.7C114.3 53.9 116.3 52.1 117.8 50.0C119.3 48.0 120.0 45.8 122.2 44.5C124.5 43.2 128.2 42.3 131.1 42.3C134.1 42.3 137.1 44.7 140.0 44.5C143.0 44.3 145.9 41.9 148.9 41.1C151.9 40.4 154.8 39.7 157.8 40.0C160.8 40.4 164.7 41.7 166.7 43.4C168.7 45.0 168.5 48.6 170.0 50.0C171.5 51.5 173.5 51.3 175.6 52.3C177.6 53.2 181.5 54.1 182.2 55.6C183.0 57.1 181.5 59.8 180.0 61.1C178.5 62.4 175.2 61.9 173.4 63.4C171.5 64.8 170.8 68.2 168.9 70.0C167.1 71.9 164.1 72.6 162.2 74.5C160.4 76.3 159.7 79.3 157.8 81.1C155.9 83.0 153.0 85.6 151.1 85.6C149.3 85.6 148.5 83.4 146.7 81.1C144.8 78.9 141.6 73.8 140.0 72.3C138.5 70.7 139.9 72.2 137.4 71.8C134.8 71.3 127.4 69.9 124.9 69.4C122.4 68.9 124.4 69.4 122.2 68.9C120.1 68.5 113.7 68.7 112.2 66.7C110.8 64.7 112.4 59.5 113.4 56.7ZM142.2 101.1C143.5 100.2 148.5 97.8 151.1 97.8C153.7 97.8 155.2 100.2 157.8 101.1C160.4 102.1 163.7 103.4 166.7 103.4C169.7 103.4 173.0 102.6 175.6 101.1C178.2 99.7 180.4 95.2 182.2 94.5C184.1 93.7 184.8 96.0 186.7 96.7C188.5 97.4 191.5 97.4 193.4 98.9C195.2 100.4 195.9 103.7 197.8 105.6C199.7 107.4 203.0 108.2 204.5 110.0C205.9 111.9 206.5 115.2 206.7 116.7C206.9 118.2 206.8 116.6 205.5 119.1C204.2 121.7 200.3 129.5 199.0 132.1C197.7 134.6 198.5 134.1 197.8 134.5C197.1 134.9 201.3 134.5 195.1 134.5C188.9 134.5 166.7 134.5 160.5 134.5C154.3 134.5 158.4 134.9 157.8 134.5C157.2 134.1 157.9 134.8 156.9 131.9C156.0 129.0 153.0 119.9 152.0 117.0C151.0 114.1 151.5 115.3 151.1 114.5C150.7 113.7 150.9 114.1 149.6 112.2C148.4 110.4 145.0 105.2 143.7 103.4C142.5 101.5 141.0 102.1 142.2 101.1ZM125.8 37.8C125.8 38.3 125.4 39.0 124.8 39.4C124.2 39.8 123.1 40.0 122.2 40.0C121.4 40.0 120.3 39.8 119.7 39.4C119.1 39.0 118.7 38.3 118.7 37.8C118.7 37.3 119.1 36.6 119.7 36.2C120.3 35.9 121.4 35.6 122.2 35.6C123.1 35.6 124.2 35.9 124.8 36.2C125.4 36.6 125.8 37.3 125.8 37.8ZM132.9 26.7C132.9 27.2 132.4 27.9 131.7 28.3C131.1 28.6 129.9 28.9 128.9 28.9C128.0 28.9 126.7 28.6 126.1 28.3C125.4 27.9 124.9 27.2 124.9 26.7C124.9 26.2 125.4 25.5 126.1 25.1C126.7 24.8 128.0 24.5 128.9 24.5C129.9 24.5 131.1 24.8 131.7 25.1C132.4 25.5 132.9 26.2 132.9 26.7ZM144.0 26.7C144.0 27.2 143.5 27.9 142.9 28.3C142.2 28.6 141.0 28.9 140.0 28.9C139.1 28.9 137.9 28.6 137.2 28.3C136.5 27.9 136.0 27.2 136.0 26.7C136.0 26.2 136.5 25.5 137.2 25.1C137.9 24.8 139.1 24.5 140.0 24.5C141.0 24.5 142.2 24.8 142.9 25.1C143.5 25.5 144.0 26.2 144.0 26.7ZM139.8 33.4C139.8 33.8 139.4 34.3 138.9 34.6C138.4 34.9 137.4 35.1 136.7 35.1C136.0 35.1 135.0 34.9 134.5 34.6C134.0 34.3 133.6 33.8 133.6 33.4C133.6 32.9 134.0 32.4 134.5 32.1C135.0 31.8 136.0 31.6 136.7 31.6C137.4 31.6 138.4 31.8 138.9 32.1C139.4 32.4 139.8 32.9 139.8 33.4ZM156.5 36.7C156.5 37.1 156.1 37.7 155.6 38.0C155.0 38.3 154.1 38.5 153.4 38.5C152.6 38.5 151.7 38.3 151.2 38.0C150.6 37.7 150.2 37.1 150.2 36.7C150.2 36.3 150.6 35.7 151.2 35.4C151.7 35.1 152.6 34.9 153.4 34.9C154.1 34.9 155.0 35.1 155.6 35.4C156.1 35.7 156.5 36.3 156.5 36.7ZM130.7 32.3C130.7 32.6 130.5 33.0 130.2 33.2C129.9 33.4 129.3 33.6 128.9 33.6C128.5 33.6 128.0 33.4 127.7 33.2C127.4 33.0 127.1 32.6 127.1 32.3C127.1 31.9 127.4 31.5 127.7 31.3C128.0 31.1 128.5 30.9 128.9 30.9C129.3 30.9 129.9 31.1 130.2 31.3C130.5 31.5 130.7 31.9 130.7 32.3ZM92.9 32.3C92.9 32.6 92.7 33.0 92.4 33.2C92.1 33.4 91.6 33.6 91.1 33.6C90.7 33.6 90.2 33.4 89.9 33.2C89.6 33.0 89.4 32.6 89.4 32.3C89.4 31.9 89.6 31.5 89.9 31.3C90.2 31.1 90.7 30.9 91.1 30.9C91.6 30.9 92.1 31.1 92.4 31.3C92.7 31.5 92.9 31.9 92.9 32.3ZM59.4 35.6C59.4 36.2 59.0 37.0 58.6 37.5C58.1 37.9 57.3 38.3 56.7 38.3C56.1 38.3 55.2 37.9 54.8 37.5C54.4 37.0 54.0 36.2 54.0 35.6C54.0 35.0 54.4 34.1 54.8 33.7C55.2 33.3 56.1 32.9 56.7 32.9C57.3 32.9 58.1 33.3 58.6 33.7C59.0 34.1 59.4 35.0 59.4 35.6ZM22.2 27.8C22.2 28.2 22.0 28.8 21.6 29.1C21.2 29.4 20.5 29.6 20.0 29.6C19.5 29.6 18.8 29.4 18.5 29.1C18.1 28.8 17.8 28.2 17.8 27.8C17.8 27.4 18.1 26.9 18.5 26.6C18.8 26.3 19.5 26.0 20.0 26.0C20.5 26.0 21.2 26.3 21.6 26.6C22.0 26.9 22.2 27.4 22.2 27.8ZM86.7 7.8C86.7 8.2 86.5 8.8 86.2 9.1C86.0 9.4 85.5 9.6 85.1 9.6C84.8 9.6 84.3 9.4 84.0 9.1C83.8 8.8 83.6 8.2 83.6 7.8C83.6 7.4 83.8 6.9 84.0 6.6C84.3 6.3 84.8 6.0 85.1 6.0C85.5 6.0 86.0 6.3 86.2 6.6C86.5 6.9 86.7 7.4 86.7 7.8ZM80.9 15.6C80.9 15.8 80.8 16.1 80.7 16.2C80.5 16.4 80.2 16.5 80.0 16.5C79.8 16.5 79.5 16.4 79.4 16.2C79.2 16.1 79.1 15.8 79.1 15.6C79.1 15.4 79.2 15.1 79.4 15.0C79.5 14.8 79.8 14.7 80.0 14.7C80.2 14.7 80.5 14.8 80.7 15.0C80.8 15.1 80.9 15.4 80.9 15.6ZM126.0 20.0C126.0 20.3 125.9 20.6 125.7 20.8C125.5 21.0 125.2 21.1 124.9 21.1C124.6 21.1 124.3 21.0 124.1 20.8C123.9 20.6 123.8 20.3 123.8 20.0C123.8 19.8 123.9 19.4 124.1 19.2C124.3 19.1 124.6 18.9 124.9 18.9C125.2 18.9 125.5 19.1 125.7 19.2C125.9 19.4 126.0 19.8 126.0 20.0ZM137.8 22.3C137.8 22.5 137.7 22.9 137.5 23.0C137.3 23.2 137.0 23.4 136.7 23.4C136.4 23.4 136.1 23.2 135.9 23.0C135.7 22.9 135.6 22.5 135.6 22.3C135.6 22.0 135.7 21.7 135.9 21.5C136.1 21.3 136.4 21.1 136.7 21.1C137.0 21.1 137.3 21.3 137.5 21.5C137.7 21.7 137.8 22.0 137.8 22.3ZM196.2 43.8C196.2 44.5 195.7 45.5 195.1 46.0C194.4 46.5 193.2 46.9 192.2 46.9C191.3 46.9 190.1 46.5 189.4 46.0C188.7 45.5 188.2 44.5 188.2 43.8C188.2 43.1 188.7 42.1 189.4 41.6C190.1 41.1 191.3 40.7 192.2 40.7C193.2 40.7 194.4 41.1 195.1 41.6C195.7 42.1 196.2 43.1 196.2 43.8ZM204.0 54.9C204.0 55.2 203.8 55.6 203.5 55.9C203.2 56.1 202.7 56.3 202.2 56.3C201.8 56.3 201.3 56.1 201.0 55.9C200.7 55.6 200.5 55.2 200.5 54.9C200.5 54.6 200.7 54.2 201.0 54.0C201.3 53.8 201.8 53.6 202.2 53.6C202.7 53.6 203.2 53.8 203.5 54.0C203.8 54.2 204.0 54.6 204.0 54.9ZM208.2 72.3C208.2 72.9 207.6 73.7 206.8 74.1C206.0 74.6 204.5 74.9 203.4 74.9C202.2 74.9 200.7 74.6 199.9 74.1C199.1 73.7 198.5 72.9 198.5 72.3C198.5 71.6 199.1 70.8 199.9 70.4C200.7 69.9 202.2 69.6 203.4 69.6C204.5 69.6 206.0 69.9 206.8 70.4C207.6 70.8 208.2 71.6 208.2 72.3ZM199.6 80.0C199.6 80.3 199.4 80.8 199.1 81.0C198.8 81.2 198.2 81.4 197.8 81.4C197.4 81.4 196.8 81.2 196.5 81.0C196.2 80.8 196.0 80.3 196.0 80.0C196.0 79.7 196.2 79.3 196.5 79.1C196.8 78.9 197.4 78.7 197.8 78.7C198.2 78.7 198.8 78.9 199.1 79.1C199.4 79.3 199.6 79.7 199.6 80.0ZM212.5 95.6C212.5 95.9 212.3 96.3 212.1 96.5C211.9 96.8 211.4 96.9 211.1 96.9C210.8 96.9 210.4 96.8 210.2 96.5C210.0 96.3 209.8 95.9 209.8 95.6C209.8 95.3 210.0 94.9 210.2 94.6C210.4 94.4 210.8 94.3 211.1 94.3C211.4 94.3 211.9 94.4 212.1 94.6C212.3 94.9 212.5 95.3 212.5 95.6ZM181.8 74.5C181.8 75.0 181.6 75.7 181.3 76.0C181.0 76.4 180.4 76.7 180.0 76.7C179.6 76.7 179.1 76.4 178.8 76.0C178.5 75.7 178.2 75.0 178.2 74.5C178.2 74.0 178.5 73.3 178.8 72.9C179.1 72.5 179.6 72.3 180.0 72.3C180.4 72.3 181.0 72.5 181.3 72.9C181.6 73.3 181.8 74.0 181.8 74.5ZM178.2 61.1C178.2 61.6 177.9 62.1 177.5 62.4C177.0 62.7 176.2 62.9 175.6 62.9C174.9 62.9 174.1 62.7 173.7 62.4C173.2 62.1 172.9 61.6 172.9 61.1C172.9 60.7 173.2 60.2 173.7 59.9C174.1 59.6 174.9 59.4 175.6 59.4C176.2 59.4 177.0 59.6 177.5 59.9C177.9 60.2 178.2 60.7 178.2 61.1ZM91.8 42.3C91.8 42.5 91.6 42.9 91.3 43.0C91.0 43.2 90.4 43.4 90.0 43.4C89.6 43.4 89.1 43.2 88.8 43.0C88.5 42.9 88.2 42.5 88.2 42.3C88.2 42.0 88.5 41.7 88.8 41.5C89.1 41.3 89.6 41.1 90.0 41.1C90.4 41.1 91.0 41.3 91.3 41.5C91.6 41.7 91.8 42.0 91.8 42.3ZM124.0 48.9C124.0 49.2 123.8 49.6 123.5 49.9C123.2 50.1 122.7 50.3 122.2 50.3C121.8 50.3 121.3 50.1 121.0 49.9C120.7 49.6 120.5 49.2 120.5 48.9C120.5 48.6 120.7 48.2 121.0 48.0C121.3 47.8 121.8 47.6 122.2 47.6C122.7 47.6 123.2 47.8 123.5 48.0C123.8 48.2 124.0 48.6 124.0 48.9ZM167.6 92.3C167.6 92.8 167.2 93.5 166.8 93.8C166.4 94.2 165.5 94.5 164.9 94.5C164.3 94.5 163.5 94.2 163.0 93.8C162.6 93.5 162.2 92.8 162.2 92.3C162.2 91.7 162.6 91.1 163.0 90.7C163.5 90.3 164.3 90.0 164.9 90.0C165.5 90.0 166.4 90.3 166.8 90.7C167.2 91.1 167.6 91.7 167.6 92.3ZM205.1 105.6C205.1 106.0 204.9 106.5 204.6 106.8C204.3 107.1 203.8 107.4 203.4 107.4C202.9 107.4 202.4 107.1 202.1 106.8C201.8 106.5 201.6 106.0 201.6 105.6C201.6 105.2 201.8 104.6 202.1 104.3C202.4 104.0 202.9 103.8 203.4 103.8C203.8 103.8 204.3 104.0 204.6 104.3C204.9 104.6 205.1 105.2 205.1 105.6ZM207.8 113.4C207.8 113.8 207.5 114.3 207.1 114.6C206.8 114.9 206.1 115.1 205.6 115.1C205.1 115.1 204.4 114.9 204.0 114.6C203.6 114.3 203.4 113.8 203.4 113.4C203.4 112.9 203.6 112.4 204.0 112.1C204.4 111.8 205.1 111.6 205.6 111.6C206.1 111.6 206.8 111.8 207.1 112.1C207.5 112.4 207.8 112.9 207.8 113.4ZM98.9 27.8C98.9 28.1 98.8 28.4 98.6 28.6C98.4 28.8 98.1 28.9 97.8 28.9C97.5 28.9 97.2 28.8 97.0 28.6C96.8 28.4 96.7 28.1 96.7 27.8C96.7 27.5 96.8 27.2 97.0 27.0C97.2 26.8 97.5 26.7 97.8 26.7C98.1 26.7 98.4 26.8 98.6 27.0C98.8 27.2 98.9 27.5 98.9 27.8ZM145.8 30.0C145.8 30.3 145.6 30.8 145.4 31.0C145.2 31.2 144.8 31.4 144.5 31.4C144.2 31.4 143.7 31.2 143.5 31.0C143.3 30.8 143.1 30.3 143.1 30.0C143.1 29.7 143.3 29.3 143.5 29.1C143.7 28.9 144.2 28.7 144.5 28.7C144.8 28.7 145.2 28.9 145.4 29.1C145.6 29.3 145.8 29.7 145.8 30.0Z"/>
<path fill="#04b608" d="M153.4 103.4C153.7 103.0 154.2 103.5 156.0 103.8C157.8 104.1 162.2 104.8 164.0 105.1C165.8 105.4 164.8 105.9 166.7 105.6C168.6 105.3 173.4 102.3 175.6 103.4C177.8 104.5 180.8 109.7 180.0 112.3C179.3 114.8 173.1 117.8 171.1 118.9C169.2 120.0 170.2 118.8 168.4 118.7C166.7 118.6 162.3 118.2 160.5 118.0C158.7 117.9 158.4 118.3 157.8 117.8C157.2 117.3 157.6 117.2 157.0 115.2C156.4 113.3 154.8 107.9 154.1 105.9C153.5 104.0 153.0 103.7 153.4 103.4Z"/>
<path fill="#ffffff" d="M57.8 63.4C57.8 63.9 57.4 64.6 56.8 64.9C56.3 65.3 55.3 65.6 54.5 65.6C53.7 65.6 52.7 65.3 52.1 64.9C51.6 64.6 51.1 63.9 51.1 63.4C51.1 62.8 51.6 62.2 52.1 61.8C52.7 61.4 53.7 61.1 54.5 61.1C55.3 61.1 56.3 61.4 56.8 61.8C57.4 62.2 57.8 62.8 57.8 63.4ZM50.5 48.9C50.5 49.4 50.1 50.1 49.7 50.5C49.2 50.9 48.4 51.1 47.8 51.1C47.2 51.1 46.4 50.9 45.9 50.5C45.5 50.1 45.1 49.4 45.1 48.9C45.1 48.4 45.5 47.7 45.9 47.4C46.4 47.0 47.2 46.7 47.8 46.7C48.4 46.7 49.2 47.0 49.7 47.4C50.1 47.7 50.5 48.4 50.5 48.9ZM77.4 61.1C77.4 61.9 76.9 62.8 76.2 63.3C75.5 63.9 74.3 64.3 73.4 64.3C72.4 64.3 71.2 63.9 70.5 63.3C69.9 62.8 69.4 61.9 69.4 61.1C69.4 60.4 69.9 59.5 70.5 58.9C71.2 58.4 72.4 58.0 73.4 58.0C74.3 58.0 75.5 58.4 76.2 58.9C76.9 59.5 77.4 60.4 77.4 61.1ZM95.6 57.8C95.6 58.8 95.2 60.0 94.6 60.6C94.0 61.3 93.0 61.8 92.2 61.8C91.5 61.8 90.4 61.3 89.9 60.6C89.3 60.0 88.9 58.8 88.9 57.8C88.9 56.9 89.3 55.6 89.9 55.0C90.4 54.3 91.5 53.8 92.2 53.8C93.0 53.8 94.0 54.3 94.6 55.0C95.2 55.6 95.6 56.9 95.6 57.8ZM104.0 63.4C104.0 63.9 103.8 64.6 103.5 64.9C103.2 65.3 102.7 65.6 102.2 65.6C101.8 65.6 101.3 65.3 101.0 64.9C100.7 64.6 100.5 63.9 100.5 63.4C100.5 62.8 100.7 62.2 101.0 61.8C101.3 61.4 101.8 61.1 102.2 61.1C102.7 61.1 103.2 61.4 103.5 61.8C103.8 62.2 104.0 62.8 104.0 63.4ZM175.6 112.7C175.6 113.4 175.3 114.4 174.9 114.9C174.6 115.4 173.9 115.8 173.4 115.8C172.8 115.8 172.2 115.4 171.8 114.9C171.4 114.4 171.1 113.4 171.1 112.7C171.1 112.0 171.4 111.0 171.8 110.5C172.2 110.0 172.8 109.6 173.4 109.6C173.9 109.6 174.6 110.0 174.9 110.5C175.3 111.0 175.6 112.0 175.6 112.7ZM189.4 110.5C189.4 111.0 189.0 111.7 188.6 112.0C188.1 112.4 187.3 112.7 186.7 112.7C186.1 112.7 185.2 112.4 184.8 112.0C184.4 111.7 184.0 111.0 184.0 110.5C184.0 110.0 184.4 109.3 184.8 108.9C185.2 108.5 186.1 108.3 186.7 108.3C187.3 108.3 188.1 108.5 188.6 108.9C189.0 109.3 189.4 110.0 189.4 110.5ZM162.2 108.9C162.2 109.3 162.0 109.9 161.6 110.2C161.2 110.5 160.5 110.7 160.0 110.7C159.5 110.7 158.8 110.5 158.5 110.2C158.1 109.9 157.8 109.3 157.8 108.9C157.8 108.5 158.1 108.0 158.5 107.7C158.8 107.4 159.5 107.1 160.0 107.1C160.5 107.1 161.2 107.4 161.6 107.7C162.0 108.0 162.2 108.5 162.2 108.9ZM121.1 55.6C121.1 56.0 120.9 56.5 120.5 56.8C120.1 57.1 119.4 57.4 118.9 57.4C118.4 57.4 117.7 57.1 117.3 56.8C117.0 56.5 116.7 56.0 116.7 55.6C116.7 55.2 117.0 54.6 117.3 54.3C117.7 54.0 118.4 53.8 118.9 53.8C119.4 53.8 120.1 54.0 120.5 54.3C120.9 54.6 121.1 55.2 121.1 55.6ZM156.5 48.9C156.5 49.4 156.1 50.1 155.6 50.5C155.0 50.9 154.1 51.1 153.4 51.1C152.6 51.1 151.7 50.9 151.2 50.5C150.6 50.1 150.2 49.4 150.2 48.9C150.2 48.4 150.6 47.7 151.2 47.4C151.7 47.0 152.6 46.7 153.4 46.7C154.1 46.7 155.0 47.0 155.6 47.4C156.1 47.7 156.5 48.4 156.5 48.9ZM135.6 44.5C135.6 44.7 135.3 45.1 134.9 45.3C134.6 45.4 133.9 45.6 133.4 45.6C132.8 45.6 132.2 45.4 131.8 45.3C131.4 45.1 131.1 44.7 131.1 44.5C131.1 44.2 131.4 43.9 131.8 43.7C132.2 43.5 132.8 43.4 133.4 43.4C133.9 43.4 134.6 43.5 134.9 43.7C135.3 43.9 135.6 44.2 135.6 44.5ZM66.2 53.4C66.2 53.8 66.0 54.3 65.7 54.6C65.4 54.9 64.9 55.1 64.5 55.1C64.0 55.1 63.5 54.9 63.2 54.6C62.9 54.3 62.7 53.8 62.7 53.4C62.7 52.9 62.9 52.4 63.2 52.1C63.5 51.8 64.0 51.6 64.5 51.6C64.9 51.6 65.4 51.8 65.7 52.1C66.0 52.4 66.2 52.9 66.2 53.4ZM37.8 38.9C37.8 39.2 37.5 39.5 37.1 39.7C36.8 39.9 36.1 40.0 35.6 40.0C35.1 40.0 34.4 39.9 34.0 39.7C33.6 39.5 33.4 39.2 33.4 38.9C33.4 38.7 33.6 38.3 34.0 38.1C34.4 38.0 35.1 37.8 35.6 37.8C36.1 37.8 36.8 38.0 37.1 38.1C37.5 38.3 37.8 38.7 37.8 38.9Z"/>
<path fill="#00ffff" d="M27.8 43.4C28.2 42.3 31.5 43.4 33.4 44.5C35.2 45.6 37.4 48.3 38.9 50.0C40.4 51.8 41.1 53.4 42.2 54.9C43.4 56.4 45.6 57.7 45.6 58.9C45.6 60.1 43.7 62.4 42.2 62.3C40.8 62.1 38.5 59.7 36.7 57.8C34.8 56.0 32.6 53.6 31.1 51.1C29.7 48.7 27.4 44.5 27.8 43.4ZM57.8 60.0C59.0 59.1 62.6 57.6 64.5 57.8C66.3 58.0 68.5 59.8 68.9 61.1C69.3 62.4 68.0 64.8 66.7 65.6C65.4 66.4 62.7 66.4 61.1 66.0C59.6 65.7 57.9 64.4 57.4 63.4C56.8 62.4 56.6 61.0 57.8 60.0ZM89.4 68.3C89.4 68.7 89.0 69.2 88.4 69.5C87.9 69.8 87.0 70.0 86.2 70.0C85.5 70.0 84.6 69.8 84.0 69.5C83.5 69.2 83.1 68.7 83.1 68.3C83.1 67.8 83.5 67.3 84.0 67.0C84.6 66.7 85.5 66.5 86.2 66.5C87.0 66.5 87.9 66.7 88.4 67.0C89.0 67.3 89.4 67.8 89.4 68.3ZM76.2 52.3C76.2 52.7 76.0 53.2 75.7 53.5C75.4 53.8 74.9 54.0 74.5 54.0C74.0 54.0 73.5 53.8 73.2 53.5C72.9 53.2 72.7 52.7 72.7 52.3C72.7 51.8 72.9 51.3 73.2 51.0C73.5 50.7 74.0 50.5 74.5 50.5C74.9 50.5 75.4 50.7 75.7 51.0C76.0 51.3 76.2 51.8 76.2 52.3ZM51.8 54.9C51.8 55.2 51.6 55.6 51.3 55.9C51.0 56.1 50.4 56.3 50.0 56.3C49.6 56.3 49.1 56.1 48.8 55.9C48.5 55.6 48.2 55.2 48.2 54.9C48.2 54.6 48.5 54.2 48.8 54.0C49.1 53.8 49.6 53.6 50.0 53.6C50.4 53.6 51.0 53.8 51.3 54.0C51.6 54.2 51.8 54.6 51.8 54.9ZM103.6 54.5C103.6 55.2 103.4 56.2 103.2 56.7C103.0 57.2 102.6 57.6 102.2 57.6C101.9 57.6 101.5 57.2 101.3 56.7C101.1 56.2 100.9 55.2 100.9 54.5C100.9 53.7 101.1 52.8 101.3 52.3C101.5 51.8 101.9 51.4 102.2 51.4C102.6 51.4 103.0 51.8 103.2 52.3C103.4 52.8 103.6 53.7 103.6 54.5ZM122.2 56.7C124.3 54.8 124.1 52.4 125.6 51.1C127.1 49.8 129.1 49.7 131.1 48.9C133.2 48.2 135.8 46.7 137.8 46.7C139.8 46.7 142.2 47.6 143.4 48.9C144.5 50.2 143.2 53.2 144.5 54.5C145.8 55.8 148.5 56.6 151.1 56.7C153.7 56.8 157.1 55.1 160.0 54.9C163.0 54.7 166.7 54.7 168.9 55.6C171.1 56.4 173.5 58.7 173.4 60.0C173.2 61.3 169.3 61.7 167.8 63.4C166.3 65.0 165.8 67.8 164.5 70.0C163.2 72.3 161.9 74.7 160.0 76.7C158.2 78.7 154.8 80.8 153.4 82.3C151.9 83.7 151.9 85.8 151.1 85.6C150.4 85.4 148.9 83.4 148.9 81.1C148.9 78.9 151.9 74.8 151.1 72.3C150.4 69.7 147.1 67.1 144.5 65.6C141.9 64.1 138.5 63.7 135.6 63.4C132.6 63.0 129.7 63.2 126.7 63.4C123.7 63.6 120.0 64.7 117.8 64.5C115.6 64.3 112.6 63.6 113.4 62.3C114.1 61.0 120.2 58.6 122.2 56.7ZM150.7 91.1C150.7 91.8 150.5 92.6 150.2 93.0C149.9 93.5 149.3 93.8 148.9 93.8C148.5 93.8 148.0 93.5 147.7 93.0C147.4 92.6 147.1 91.8 147.1 91.1C147.1 90.5 147.4 89.7 147.7 89.3C148.0 88.8 148.5 88.5 148.9 88.5C149.3 88.5 149.9 88.8 150.2 89.3C150.5 89.7 150.7 90.5 150.7 91.1ZM192.0 102.3C192.0 102.5 191.9 102.7 191.8 102.9C191.6 103.0 191.3 103.1 191.1 103.1C190.9 103.1 190.7 103.0 190.5 102.9C190.4 102.7 190.2 102.5 190.2 102.3C190.2 102.0 190.4 101.8 190.5 101.6C190.7 101.5 190.9 101.4 191.1 101.4C191.3 101.4 191.6 101.5 191.8 101.6C191.9 101.8 192.0 102.0 192.0 102.3Z"/>
<path fill="#0090ff" d="M126.7 56.7C126.7 55.1 129.5 53.4 131.1 52.3C132.8 51.1 135.2 49.6 136.7 50.0C138.2 50.5 138.7 53.4 140.0 54.9C141.3 56.5 142.6 58.9 144.5 59.4C146.3 59.8 148.9 58.3 151.1 57.8C153.4 57.3 155.2 56.4 157.8 56.3C160.4 56.1 164.8 55.9 166.7 56.7C168.5 57.5 169.7 60.0 168.9 61.1C168.2 62.3 164.1 62.3 162.2 63.4C160.4 64.5 159.3 66.7 157.8 67.8C156.3 68.9 154.8 70.0 153.4 70.0C151.9 70.0 151.1 68.9 148.9 67.8C146.7 66.7 143.0 64.4 140.0 63.4C137.1 62.3 133.4 62.7 131.1 61.6C128.9 60.5 126.7 58.3 126.7 56.7Z"/>
<path fill="#0000ff" d="M128.9 56.7C128.7 55.5 132.6 54.4 134.5 54.9C136.3 55.5 138.2 59.0 140.0 60.0C141.9 61.1 143.4 61.5 145.6 61.1C147.8 60.8 150.6 58.4 153.4 57.8C156.1 57.3 160.0 57.4 162.2 57.8C164.5 58.2 167.1 59.3 166.7 60.0C166.3 60.8 162.2 61.7 160.0 62.3C157.8 62.8 155.2 62.8 153.4 63.4C151.5 63.9 150.8 65.4 148.9 65.6C147.1 65.8 144.5 65.0 142.2 64.5C140.0 63.9 137.8 63.6 135.6 62.3C133.4 61.0 129.1 57.9 128.9 56.7ZM35.6 51.1C36.1 51.0 37.8 53.4 38.9 54.9C40.0 56.4 42.2 59.2 42.2 60.0C42.2 60.9 40.0 60.8 38.9 60.0C37.8 59.3 36.1 57.1 35.6 55.6C35.0 54.1 35.0 51.3 35.6 51.1ZM148.9 74.5C149.4 73.3 151.2 73.4 151.6 74.9C151.9 76.4 151.6 82.1 151.1 83.4C150.7 84.6 149.3 83.7 148.9 82.3C148.5 80.8 148.5 75.7 148.9 74.5Z"/>
<path fill="#0000b0" d="M135.6 60.0C136.3 59.8 139.5 61.7 141.1 62.3C142.8 62.8 145.4 62.9 145.6 63.4C145.8 63.8 143.7 65.1 142.2 65.1C140.8 65.1 137.8 64.2 136.7 63.4C135.6 62.5 134.8 60.2 135.6 60.0ZM158.9 58.5C160.0 58.1 164.8 58.4 165.6 58.9C166.3 59.4 164.5 61.2 163.4 61.6C162.2 62.0 159.7 61.7 158.9 61.1C158.2 60.6 157.8 58.8 158.9 58.5ZM39.1 56.3C39.1 56.8 39.0 57.5 38.7 57.8C38.5 58.2 38.1 58.5 37.8 58.5C37.5 58.5 37.1 58.2 36.9 57.8C36.6 57.5 36.5 56.8 36.5 56.3C36.5 55.7 36.6 55.1 36.9 54.7C37.1 54.3 37.5 54.0 37.8 54.0C38.1 54.0 38.5 54.3 38.7 54.7C39.0 55.1 39.1 55.7 39.1 56.3Z"/>
<path fill="#ffff00" d="M122.2 67.8C123.2 66.8 128.2 67.3 131.1 67.4C134.1 67.4 137.8 68.9 140.0 68.3C142.2 67.6 142.6 64.3 144.5 63.4C146.3 62.5 149.7 62.6 151.1 62.9C152.6 63.3 153.5 64.4 153.4 65.6C153.2 66.8 150.4 68.2 150.0 70.0C149.7 71.9 151.3 74.7 151.1 76.7C150.9 78.7 149.8 82.1 148.9 82.3C148.0 82.4 147.1 79.0 145.6 77.8C144.1 76.6 142.4 75.4 140.0 74.9C137.6 74.4 133.5 75.2 131.1 74.9C128.7 74.7 127.1 74.6 125.6 73.4C124.1 72.2 121.3 68.8 122.2 67.8Z"/>
<path fill="#ffa000" d="M128.9 69.6C129.7 68.8 133.7 68.7 135.6 69.1C137.4 69.6 138.7 72.5 140.0 72.3C141.3 72.0 141.9 68.8 143.4 67.8C144.8 66.8 147.8 65.8 148.9 66.0C150.0 66.2 150.4 67.7 150.0 68.9C149.7 70.1 146.9 71.7 146.7 73.4C146.4 75.0 148.8 78.4 148.5 78.9C148.1 79.4 146.1 77.0 144.5 76.3C142.9 75.5 141.1 74.8 138.9 74.5C136.7 74.1 132.8 74.8 131.1 74.0C129.5 73.2 128.2 70.4 128.9 69.6Z"/>
<path fill="#ff0000" d="M145.4 71.8C145.4 72.3 145.2 72.9 145.1 73.2C144.9 73.6 144.7 73.8 144.5 73.8C144.3 73.8 144.0 73.6 143.8 73.2C143.7 72.9 143.6 72.3 143.6 71.8C143.6 71.3 143.7 70.7 143.8 70.4C144.0 70.1 144.3 69.8 144.5 69.8C144.7 69.8 144.9 70.1 145.1 70.4C145.2 70.7 145.4 71.3 145.4 71.8Z"/>
</g></g>
<use href="#bord"/><use href="#coast"/><use href="#thk"/>
</g>
<rect width="216.0" height="122.9" fill="none" stroke="#000" stroke-width="2.5"/>
<text class="l" x="4.6" y="118.6">d) CLSM</text>
</g>
<g transform="translate(44.9,191.9)">
<use href="#tk"/>
<g clip-path="url(#cp)">
<rect width="216.0" height="122.9" fill="#eeeeee"/>
<use href="#land" fill="#fff"/>
<g clip-path="url(#cl)"><g filter="url(#rag)">
<path fill="#06dc0a" d="M18.1 19.3C20.7 18.0 23.7 18.8 27.0 18.2C30.3 17.7 35.0 16.9 38.1 16.0C41.2 15.1 43.5 13.8 45.9 12.7C48.3 11.5 50.1 9.7 52.5 9.3C55.0 9.0 57.9 9.5 60.3 10.4C62.7 11.4 65.1 15.2 67.0 14.9C68.8 14.5 69.2 9.9 71.4 8.2C73.7 6.5 77.4 5.1 80.3 4.9C83.3 4.7 86.6 5.8 89.2 7.1C91.8 8.4 93.7 11.2 95.9 12.7C98.1 14.1 99.6 15.6 102.5 16.0C105.5 16.4 110.3 15.8 113.7 14.9C117.0 14.0 119.6 11.5 122.5 10.4C125.5 9.3 128.5 8.4 131.4 8.2C134.4 8.0 137.4 8.6 140.3 9.3C143.3 10.1 146.2 11.0 149.2 12.7C152.2 14.3 155.5 17.3 158.1 19.3C160.7 21.4 162.2 23.8 164.8 24.9C167.4 25.9 170.7 26.0 173.7 25.5C176.6 25.1 179.6 22.3 182.5 22.0C185.5 21.7 188.8 23.8 191.4 23.8C194.0 23.8 196.1 22.7 198.1 22.0C200.1 21.2 202.4 21.0 203.7 19.3C205.0 17.7 204.4 13.6 205.9 12.2C207.4 10.8 211.0 10.9 212.5 10.9C214.1 10.8 212.7 10.9 215.1 11.8C217.4 12.7 224.3 15.3 226.7 16.2C229.0 17.0 228.8 16.5 229.2 17.1C229.6 17.7 229.2 0.6 229.2 19.8C229.2 39.0 229.2 113.0 229.2 132.2C229.2 151.4 229.7 134.4 229.2 134.9C228.8 135.3 240.9 134.9 226.5 134.9C212.1 134.9 157.4 134.9 143.0 134.9C128.7 134.9 140.8 135.3 140.3 134.9C139.9 134.4 140.3 140.6 140.3 132.2C140.3 123.7 140.3 92.7 140.3 84.2C140.3 75.8 140.7 82.2 140.3 81.5C139.9 80.9 140.3 81.5 137.8 80.6C135.3 79.6 127.6 76.8 125.1 75.8C122.5 74.9 123.4 75.0 122.5 74.9C121.7 74.8 125.3 74.6 119.9 75.1C114.4 75.6 95.2 77.4 89.7 78.0C84.2 78.5 87.9 78.1 87.0 78.2C86.1 78.3 88.3 78.1 84.3 78.4C80.3 78.8 67.0 79.9 63.0 80.2C59.0 80.5 61.2 80.6 60.3 80.4C59.5 80.3 60.5 80.5 57.9 79.2C55.3 77.9 47.5 74.0 45.0 72.8C42.4 71.5 43.2 72.1 42.5 71.5C41.8 71.0 43.4 72.5 40.8 69.5C38.1 66.5 29.2 56.6 26.6 53.6C23.9 50.6 25.4 52.2 24.8 51.5C24.1 50.9 24.7 51.5 22.8 49.7C20.9 48.0 15.3 42.9 13.4 41.1C11.5 39.4 11.8 40.1 11.4 39.3C11.1 38.6 11.4 38.4 11.4 36.6C11.4 34.8 11.4 30.5 11.4 28.7C11.4 26.9 10.3 27.5 11.4 26.0C12.5 24.4 15.5 20.6 18.1 19.3Z"/>
<path fill="#98e898" d="M72.3 35.3C72.3 35.8 71.9 36.5 71.4 36.9C70.9 37.3 69.9 37.5 69.2 37.5C68.5 37.5 67.5 37.3 67.0 36.9C66.5 36.5 66.1 35.8 66.1 35.3C66.1 34.8 66.5 34.1 67.0 33.8C67.5 33.4 68.5 33.1 69.2 33.1C69.9 33.1 70.9 33.4 71.4 33.8C71.9 34.1 72.3 34.8 72.3 35.3ZM165.9 26.0C165.9 26.4 165.6 26.9 165.2 27.2C164.9 27.5 164.2 27.8 163.7 27.8C163.1 27.8 162.5 27.5 162.1 27.2C161.7 26.9 161.4 26.4 161.4 26.0C161.4 25.6 161.7 25.0 162.1 24.7C162.5 24.4 163.1 24.2 163.7 24.2C164.2 24.2 164.9 24.4 165.2 24.7C165.6 25.0 165.9 25.6 165.9 26.0Z"/>
<path fill="#04b608" d="M73.7 34.9C73.7 33.1 73.6 34.9 76.2 33.9C78.7 33.0 86.4 30.1 88.9 29.2C91.4 28.2 89.2 28.0 91.4 28.2C93.7 28.4 98.8 29.0 102.5 30.4C106.2 31.9 110.3 36.4 113.7 37.1C117.0 37.8 120.6 35.3 122.5 34.9C124.5 34.4 123.4 34.7 125.2 34.4C127.0 34.1 131.4 33.4 133.2 33.1C135.0 32.8 135.0 32.7 135.9 32.7C136.8 32.6 136.0 32.7 138.6 33.0C141.1 33.3 148.5 34.2 151.0 34.5C153.5 34.9 151.4 34.5 153.7 34.9C156.0 35.3 161.4 36.0 164.8 37.1C168.1 38.2 171.7 40.7 173.7 41.5C175.6 42.4 174.4 41.8 176.2 42.4C178.0 43.0 182.6 44.5 184.4 45.1C186.2 45.7 184.7 44.7 187.0 46.0C189.3 47.2 195.8 51.5 198.1 52.7C200.4 53.8 199.0 52.8 200.8 53.1C202.5 53.4 207.0 54.1 208.8 54.4C210.5 54.7 210.9 54.4 211.4 54.9C212.0 55.4 211.5 55.4 212.0 57.5C212.5 59.7 213.7 65.6 214.2 67.8C214.7 69.9 215.1 69.9 214.8 70.4C214.4 70.9 214.4 70.5 212.1 70.8C209.8 71.1 203.1 72.0 200.8 72.3C198.4 72.6 198.9 72.9 198.1 72.7C197.3 72.4 197.5 72.2 196.0 71.0C194.5 69.8 190.6 66.7 189.1 65.5C187.6 64.3 187.7 64.3 187.0 63.8C186.3 63.2 186.4 63.3 184.9 62.1C183.4 60.9 179.5 57.8 178.0 56.6C176.5 55.4 176.7 55.3 175.9 54.9C175.1 54.5 176.6 55.1 173.3 54.1C170.0 53.1 159.5 50.0 156.2 49.0C153.0 48.0 154.5 48.4 153.7 48.2C152.8 48.0 154.2 48.3 151.0 47.8C147.7 47.3 137.4 45.8 134.1 45.3C130.8 44.8 132.3 45.0 131.4 44.9C130.5 44.8 130.5 44.8 128.7 44.7C127.0 44.5 122.6 44.1 120.8 44.0C119.0 43.8 119.0 43.8 118.1 43.8C117.2 43.8 117.2 43.8 115.4 44.0C113.6 44.1 109.2 44.5 107.5 44.7C105.7 44.8 105.7 44.8 104.8 44.9C103.9 44.9 103.8 44.9 102.1 44.9C100.3 44.9 95.9 44.9 94.1 44.9C92.4 44.9 92.3 44.9 91.4 44.9C90.5 44.9 90.9 44.9 88.7 44.9C86.6 44.9 80.7 44.9 78.6 44.9C76.4 44.9 76.7 46.5 75.9 44.9C75.1 43.2 73.6 36.7 73.7 34.9ZM144.8 92.7C145.1 92.1 145.6 92.4 147.4 92.0C149.2 91.6 153.7 90.4 155.5 90.0C157.3 89.5 157.2 89.5 158.1 89.3C159.0 89.2 158.6 89.3 160.8 89.1C162.9 89.0 168.8 88.6 171.0 88.4C173.1 88.3 172.8 88.3 173.7 88.2C174.5 88.1 174.5 88.1 176.3 87.8C178.1 87.5 182.5 86.7 184.3 86.4C186.1 86.1 186.5 85.6 187.0 86.0C187.4 86.4 187.0 86.2 187.0 88.7C187.0 91.2 187.0 98.6 187.0 101.1C187.0 103.6 187.2 102.9 187.0 103.8C186.8 104.6 186.7 104.4 185.8 106.2C184.9 108.0 182.4 112.9 181.5 114.7C180.6 116.5 181.0 116.7 180.3 117.1C179.7 117.5 180.9 117.1 177.6 117.1C174.4 117.1 164.1 117.1 160.8 117.1C157.5 117.1 160.0 118.6 158.1 117.1C156.2 115.6 150.8 110.1 149.2 108.2C147.6 106.3 149.1 107.8 148.5 105.6C147.9 103.5 146.1 97.4 145.5 95.3C144.9 93.1 144.5 93.2 144.8 92.7ZM76.3 50.4C77.5 49.8 81.3 47.8 82.5 49.3C83.8 50.8 83.8 56.2 83.7 59.3C83.5 62.5 82.9 66.4 81.4 68.2C80.0 70.1 76.2 71.0 74.8 70.4C73.3 69.9 72.8 66.2 72.5 64.9C72.3 63.5 72.7 64.2 73.2 62.3C73.7 60.3 75.1 55.0 75.6 53.0C76.2 51.1 75.2 51.1 76.3 50.4ZM86.5 45.5C88.4 44.2 95.0 43.3 97.0 44.9C99.0 46.4 98.7 52.1 98.5 54.9C98.4 57.7 97.4 60.8 95.9 61.5C94.3 62.3 90.9 60.8 89.2 59.3C87.5 57.8 86.3 55.0 85.9 52.7C85.4 50.4 84.7 46.8 86.5 45.5Z"/>
<path fill="#ffffff" d="M81.4 27.1C81.4 28.0 80.6 29.1 79.5 29.8C78.4 30.4 76.3 30.9 74.8 30.9C73.2 30.9 71.2 30.4 70.1 29.8C68.9 29.1 68.1 28.0 68.1 27.1C68.1 26.2 68.9 25.1 70.1 24.4C71.2 23.8 73.2 23.3 74.8 23.3C76.3 23.3 78.4 23.8 79.5 24.4C80.6 25.1 81.4 26.2 81.4 27.1ZM49.2 26.0C49.2 26.7 48.7 27.6 47.9 28.0C47.2 28.5 45.8 28.9 44.8 28.9C43.7 28.9 42.4 28.5 41.6 28.0C40.9 27.6 40.3 26.7 40.3 26.0C40.3 25.3 40.9 24.4 41.6 23.9C42.4 23.5 43.7 23.1 44.8 23.1C45.8 23.1 47.2 23.5 47.9 23.9C48.7 24.4 49.2 25.3 49.2 26.0ZM192.1 36.0C192.1 36.7 191.6 37.7 190.9 38.2C190.3 38.7 189.0 39.1 188.1 39.1C187.2 39.1 185.9 38.7 185.3 38.2C184.6 37.7 184.1 36.7 184.1 36.0C184.1 35.3 184.6 34.3 185.3 33.8C185.9 33.3 187.2 32.9 188.1 32.9C189.0 32.9 190.3 33.3 190.9 33.8C191.6 34.3 192.1 35.3 192.1 36.0ZM197.0 62.7C197.0 63.5 196.3 64.6 195.4 65.2C194.4 65.8 192.7 66.2 191.4 66.2C190.1 66.2 188.4 65.8 187.5 65.2C186.6 64.6 185.9 63.5 185.9 62.7C185.9 61.8 186.6 60.7 187.5 60.1C188.4 59.5 190.1 59.1 191.4 59.1C192.7 59.1 194.4 59.5 195.4 60.1C196.3 60.7 197.0 61.8 197.0 62.7ZM204.8 48.2C204.8 48.8 204.1 49.5 203.1 49.9C202.2 50.3 200.5 50.7 199.2 50.7C197.9 50.7 196.2 50.3 195.3 49.9C194.4 49.5 193.7 48.8 193.7 48.2C193.7 47.6 194.4 46.9 195.3 46.5C196.2 46.1 197.9 45.8 199.2 45.8C200.5 45.8 202.2 46.1 203.1 46.5C204.1 46.9 204.8 47.6 204.8 48.2ZM195.7 86.4C195.7 87.4 195.3 88.6 194.7 89.3C194.2 89.9 193.3 90.4 192.5 90.4C191.8 90.4 190.9 89.9 190.3 89.3C189.8 88.6 189.4 87.4 189.4 86.4C189.4 85.5 189.8 84.3 190.3 83.6C190.9 82.9 191.8 82.4 192.5 82.4C193.3 82.4 194.2 82.9 194.7 83.6C195.3 84.3 195.7 85.5 195.7 86.4ZM208.5 86.0C208.5 86.5 208.2 87.2 207.8 87.6C207.3 87.9 206.5 88.2 205.9 88.2C205.2 88.2 204.4 87.9 204.0 87.6C203.5 87.2 203.2 86.5 203.2 86.0C203.2 85.5 203.5 84.8 204.0 84.4C204.4 84.0 205.2 83.8 205.9 83.8C206.5 83.8 207.3 84.0 207.8 84.4C208.2 84.8 208.5 85.5 208.5 86.0ZM179.2 22.0C179.2 22.6 178.8 23.4 178.2 23.9C177.7 24.3 176.7 24.7 175.9 24.7C175.1 24.7 174.1 24.3 173.5 23.9C173.0 23.4 172.5 22.6 172.5 22.0C172.5 21.4 173.0 20.5 173.5 20.1C174.1 19.7 175.1 19.3 175.9 19.3C176.7 19.3 177.7 19.7 178.2 20.1C178.8 20.5 179.2 21.4 179.2 22.0ZM213.9 103.8C213.9 104.8 213.6 106.2 213.3 106.9C213.0 107.7 212.3 108.2 211.9 108.2C211.4 108.2 210.8 107.7 210.5 106.9C210.1 106.2 209.9 104.8 209.9 103.8C209.9 102.7 210.1 101.4 210.5 100.6C210.8 99.9 211.4 99.3 211.9 99.3C212.3 99.3 213.0 99.9 213.3 100.6C213.6 101.4 213.9 102.7 213.9 103.8ZM163.0 119.3C163.0 119.8 162.4 120.5 161.6 120.9C160.7 121.3 159.3 121.5 158.1 121.5C156.9 121.5 155.5 121.3 154.6 120.9C153.8 120.5 153.2 119.8 153.2 119.3C153.2 118.8 153.8 118.1 154.6 117.8C155.5 117.4 156.9 117.1 158.1 117.1C159.3 117.1 160.7 117.4 161.6 117.8C162.4 118.1 163.0 118.8 163.0 119.3ZM146.3 24.9C146.3 25.3 146.0 25.8 145.5 26.1C145.1 26.4 144.3 26.7 143.7 26.7C143.0 26.7 142.2 26.4 141.8 26.1C141.3 25.8 141.0 25.3 141.0 24.9C141.0 24.5 141.3 23.9 141.8 23.6C142.2 23.3 143.0 23.1 143.7 23.1C144.3 23.1 145.1 23.3 145.5 23.6C146.0 23.9 146.3 24.5 146.3 24.9ZM34.1 26.0C34.1 26.3 33.8 26.7 33.3 26.9C32.9 27.2 32.1 27.3 31.4 27.3C30.8 27.3 30.0 27.2 29.5 26.9C29.1 26.7 28.8 26.3 28.8 26.0C28.8 25.7 29.1 25.3 29.5 25.0C30.0 24.8 30.8 24.7 31.4 24.7C32.1 24.7 32.9 24.8 33.3 25.0C33.8 25.3 34.1 25.7 34.1 26.0ZM107.9 19.3C107.9 19.7 107.5 20.2 107.0 20.4C106.4 20.7 105.5 20.9 104.8 20.9C104.0 20.9 103.1 20.7 102.6 20.4C102.0 20.2 101.7 19.7 101.7 19.3C101.7 19.0 102.0 18.5 102.6 18.2C103.1 18.0 104.0 17.8 104.8 17.8C105.5 17.8 106.4 18.0 107.0 18.2C107.5 18.5 107.9 19.0 107.9 19.3ZM208.5 24.9C208.5 25.4 208.2 26.1 207.8 26.4C207.3 26.8 206.5 27.1 205.9 27.1C205.2 27.1 204.4 26.8 204.0 26.4C203.5 26.1 203.2 25.4 203.2 24.9C203.2 24.4 203.5 23.7 204.0 23.3C204.4 22.9 205.2 22.7 205.9 22.7C206.5 22.7 207.3 22.9 207.8 23.3C208.2 23.7 208.5 24.4 208.5 24.9Z"/>
<path fill="#00ffff" d="M21.4 37.5C23.7 37.5 27.9 38.4 31.4 38.4C35.0 38.4 39.2 38.1 42.5 37.5C45.9 37.0 49.1 35.4 51.4 35.3C53.7 35.2 55.2 35.4 56.3 37.1C57.4 38.8 57.4 43.4 58.1 45.3C58.8 47.2 58.5 48.0 60.3 48.7C62.2 49.3 66.6 49.0 69.2 49.3C71.8 49.7 74.3 49.9 75.9 50.9C77.4 51.9 78.5 53.5 78.5 55.3C78.5 57.1 76.5 59.6 75.9 61.5C75.2 63.5 75.9 66.1 74.8 67.1C73.7 68.1 71.1 67.2 69.2 67.8C67.4 68.3 65.0 69.0 63.7 70.4C62.4 71.9 63.5 76.4 61.4 76.4C59.4 76.5 54.6 72.9 51.4 70.9C48.3 68.8 44.4 65.6 42.5 64.2C40.7 62.8 41.9 63.7 40.4 62.5C38.9 61.3 35.0 58.2 33.5 57.0C32.0 55.8 32.9 57.1 31.4 55.3C30.0 53.6 27.0 49.2 24.8 46.4C22.5 43.7 18.7 40.1 18.1 38.7C17.5 37.2 19.2 37.6 21.4 37.5ZM84.8 63.8C85.9 62.0 88.5 60.8 90.3 60.4C92.2 60.1 94.8 60.4 95.9 61.5C97.0 62.7 97.5 65.8 97.0 67.5C96.4 69.3 94.2 71.0 92.5 72.0C90.9 73.0 88.5 73.7 87.0 73.5C85.5 73.4 84.0 72.5 83.7 70.9C83.3 69.2 83.7 65.5 84.8 63.8ZM100.8 49.3C102.0 48.4 105.8 46.5 108.1 46.4C110.4 46.3 112.4 48.9 114.8 48.7C117.2 48.4 119.8 45.8 122.5 44.9C125.3 44.0 128.5 43.3 131.4 43.3C134.4 43.3 137.4 43.7 140.3 44.9C143.3 46.1 146.2 49.0 149.2 50.4C152.2 51.9 155.1 53.4 158.1 53.8C161.1 54.1 164.0 52.7 167.0 52.7C170.0 52.7 173.5 52.8 175.9 53.8C178.3 54.7 180.9 56.9 181.4 58.2C182.0 59.5 178.8 60.2 179.2 61.5C179.6 62.8 183.1 64.0 183.7 66.0C184.2 68.0 183.5 71.7 182.5 73.8C181.6 75.8 179.4 76.5 178.1 78.2C176.8 79.9 175.5 81.7 174.8 83.8C174.0 85.8 175.7 89.3 173.7 90.4C171.6 91.5 164.8 90.4 162.5 90.4C160.2 90.5 161.6 90.5 159.9 90.7C158.1 90.8 153.7 91.2 151.9 91.3C150.1 91.5 150.0 92.8 149.2 91.5C148.5 90.3 147.9 85.5 147.4 83.8C146.9 82.1 147.1 83.2 146.2 81.4C145.2 79.6 142.6 74.6 141.6 72.8C140.6 71.0 141.0 70.9 140.3 70.4C139.7 70.0 140.2 70.4 137.7 70.0C135.1 69.7 127.7 68.5 125.2 68.2C122.7 67.8 123.4 67.9 122.5 67.8C121.7 67.7 121.6 67.7 119.9 67.5C118.1 67.3 113.7 66.9 111.9 66.7C110.1 66.5 111.0 66.7 109.2 66.4C107.5 66.1 102.7 65.6 101.4 64.9C100.1 64.2 101.4 64.3 101.3 62.2C101.2 60.0 101.0 54.2 100.9 52.0C100.8 49.9 99.6 50.3 100.8 49.3ZM199.9 101.5C199.9 102.1 199.4 102.7 198.7 103.1C198.0 103.5 196.8 103.8 195.9 103.8C194.9 103.8 193.7 103.5 193.0 103.1C192.4 102.7 191.9 102.1 191.9 101.5C191.9 101.0 192.4 100.3 193.0 100.0C193.7 99.6 194.9 99.3 195.9 99.3C196.8 99.3 198.0 99.6 198.7 100.0C199.4 100.3 199.9 101.0 199.9 101.5ZM202.5 96.0C202.5 96.6 202.3 97.4 201.9 97.9C201.5 98.3 200.8 98.7 200.3 98.7C199.8 98.7 199.1 98.3 198.8 97.9C198.4 97.4 198.1 96.6 198.1 96.0C198.1 95.4 198.4 94.5 198.8 94.1C199.1 93.7 199.8 93.3 200.3 93.3C200.8 93.3 201.5 93.7 201.9 94.1C202.3 94.5 202.5 95.4 202.5 96.0ZM203.4 106.4C203.4 107.0 203.1 107.6 202.7 108.0C202.2 108.4 201.4 108.7 200.8 108.7C200.1 108.7 199.3 108.4 198.9 108.0C198.4 107.6 198.1 107.0 198.1 106.4C198.1 105.9 198.4 105.2 198.9 104.9C199.3 104.5 200.1 104.2 200.8 104.2C201.4 104.2 202.2 104.5 202.7 104.9C203.1 105.2 203.4 105.9 203.4 106.4ZM210.3 112.2C210.3 112.8 210.0 113.7 209.7 114.1C209.3 114.5 208.6 114.9 208.1 114.9C207.6 114.9 206.9 114.5 206.5 114.1C206.2 113.7 205.9 112.8 205.9 112.2C205.9 111.6 206.2 110.8 206.5 110.3C206.9 109.9 207.6 109.5 208.1 109.5C208.6 109.5 209.3 109.9 209.7 110.3C210.0 110.8 210.3 111.6 210.3 112.2ZM207.7 72.7C207.7 73.0 207.4 73.4 207.1 73.6C206.8 73.8 206.3 74.0 205.9 74.0C205.5 74.0 204.9 73.8 204.6 73.6C204.3 73.4 204.1 73.0 204.1 72.7C204.1 72.3 204.3 71.9 204.6 71.7C204.9 71.5 205.5 71.3 205.9 71.3C206.3 71.3 206.8 71.5 207.1 71.7C207.4 71.9 207.7 72.3 207.7 72.7ZM183.9 98.2C183.9 98.7 183.7 99.4 183.5 99.8C183.3 100.2 182.9 100.4 182.5 100.4C182.2 100.4 181.8 100.2 181.6 99.8C181.4 99.4 181.2 98.7 181.2 98.2C181.2 97.7 181.4 97.0 181.6 96.6C181.8 96.3 182.2 96.0 182.5 96.0C182.9 96.0 183.3 96.3 183.5 96.6C183.7 97.0 183.9 97.7 183.9 98.2Z"/>
<path fill="#0090ff" d="M28.1 40.4C29.2 39.2 33.5 41.4 37.0 41.5C40.5 41.7 46.4 41.0 49.2 41.5C52.0 42.1 52.5 43.2 53.7 44.9C54.8 46.5 56.1 49.5 56.3 51.5C56.5 53.6 56.1 56.4 54.8 57.1C53.4 57.8 49.8 55.4 48.1 56.0C46.4 56.6 46.2 60.0 44.8 60.9C43.3 61.8 40.9 62.3 39.2 61.5C37.5 60.8 36.2 58.6 34.8 56.4C33.3 54.3 31.4 51.3 30.3 48.7C29.2 46.0 27.0 41.6 28.1 40.4ZM122.5 58.2C123.3 55.7 127.0 52.3 129.2 50.4C131.4 48.6 133.7 47.3 135.9 47.1C138.1 46.9 140.9 48.2 142.5 49.3C144.2 50.4 144.0 52.8 145.9 53.8C147.7 54.8 150.9 55.2 153.7 55.3C156.4 55.4 159.6 54.4 162.5 54.4C165.5 54.4 168.8 54.3 171.4 55.3C174.0 56.3 176.2 58.3 178.1 60.4C180.0 62.6 182.4 65.8 182.5 68.2C182.7 70.6 180.7 73.2 179.2 74.9C177.7 76.5 175.3 76.5 173.7 78.2C172.0 79.9 171.2 84.4 169.2 84.9C167.2 85.3 164.0 82.7 161.4 80.9C158.8 79.1 155.7 74.5 153.7 74.2C151.6 74.0 150.7 80.0 149.2 79.3C147.7 78.7 147.0 72.5 144.8 70.4C142.5 68.4 139.2 67.9 135.9 67.1C132.5 66.3 127.0 67.0 124.8 65.5C122.5 64.1 121.8 60.7 122.5 58.2Z"/>
<path fill="#0000ff" d="M33.7 50.4C34.7 49.1 39.4 48.8 41.4 49.3C43.5 49.9 45.5 52.1 45.9 53.8C46.2 55.4 44.8 58.0 43.7 59.3C42.5 60.6 40.6 61.9 39.2 61.5C37.8 61.2 36.4 59.0 35.4 57.1C34.5 55.2 32.7 51.7 33.7 50.4ZM131.4 61.5C131.6 59.5 133.3 54.5 134.8 52.7C136.2 50.8 138.8 50.0 140.3 50.4C141.8 50.9 142.2 54.1 143.7 55.3C145.1 56.5 147.2 57.3 149.2 57.5C151.2 57.8 153.7 57.0 155.9 56.7C158.1 56.3 160.3 55.2 162.5 55.3C164.8 55.5 167.7 56.1 169.2 57.5C170.7 59.0 171.4 61.4 171.4 63.8C171.4 66.1 170.7 69.9 169.2 71.5C167.7 73.2 165.0 73.7 162.5 73.8C160.1 73.8 156.6 72.9 154.8 72.0C152.9 71.1 152.7 68.5 151.4 68.2C150.1 68.0 148.8 70.8 147.0 70.4C145.1 70.1 142.5 66.9 140.3 66.0C138.1 65.1 135.1 65.6 133.7 64.9C132.2 64.1 131.2 63.6 131.4 61.5Z"/>
<path fill="#0000b0" d="M41.4 55.3C41.4 56.0 41.2 56.8 40.8 57.2C40.4 57.7 39.7 58.0 39.2 58.0C38.7 58.0 38.0 57.7 37.6 57.2C37.3 56.8 37.0 56.0 37.0 55.3C37.0 54.7 37.3 53.9 37.6 53.4C38.0 53.0 38.7 52.7 39.2 52.7C39.7 52.7 40.4 53.0 40.8 53.4C41.2 53.9 41.4 54.7 41.4 55.3ZM157.0 59.3C158.2 57.8 161.8 56.7 163.7 57.1C165.5 57.5 167.5 59.7 168.1 61.5C168.7 63.4 168.1 66.7 167.0 68.2C165.9 69.7 163.2 70.7 161.4 70.4C159.7 70.1 157.1 68.3 156.3 66.4C155.6 64.6 155.8 60.9 157.0 59.3ZM134.8 55.3C135.5 54.0 138.1 52.2 139.2 52.7C140.3 53.1 141.6 56.7 141.4 58.2C141.2 59.7 139.2 61.2 138.1 61.5C137.0 61.9 135.3 61.5 134.8 60.4C134.2 59.4 134.0 56.6 134.8 55.3Z"/>
<path fill="#ffff00" d="M27.4 43.8C27.6 43.2 29.7 43.5 30.3 44.2C31.0 44.9 31.6 47.2 31.4 47.8C31.2 48.3 29.9 48.0 29.2 47.3C28.5 46.7 27.2 44.3 27.4 43.8ZM122.5 67.8C123.3 66.6 128.5 67.4 131.4 67.3C134.4 67.2 137.9 67.7 140.3 67.1C142.7 66.5 143.8 64.9 145.9 63.8C147.9 62.7 151.1 60.7 152.5 60.4C154.0 60.1 155.0 60.9 154.8 62.0C154.6 63.1 152.3 65.3 151.4 67.1C150.6 68.9 149.8 70.3 149.7 72.7C149.5 75.0 150.8 79.9 150.3 81.1C149.9 82.3 148.3 80.6 147.0 79.8C145.7 78.9 144.6 76.7 142.5 76.0C140.5 75.2 137.4 75.6 134.8 75.3C132.2 75.1 129.0 75.7 127.0 74.4C125.0 73.2 121.8 69.0 122.5 67.8Z"/>
<path fill="#ffa000" d="M127.0 70.0C127.2 69.1 133.5 69.1 135.9 69.3C138.3 69.6 140.0 70.8 141.4 71.5C142.9 72.3 143.8 72.7 144.8 73.8C145.8 74.9 147.8 78.0 147.4 78.2C147.1 78.5 144.7 76.0 142.5 75.3C140.4 74.7 137.4 75.3 134.8 74.4C132.2 73.5 126.8 70.8 127.0 70.0Z"/>
<path fill="#ff0000" d="M135.7 71.5C135.7 71.8 135.5 72.0 135.4 72.2C135.2 72.3 135.0 72.4 134.8 72.4C134.6 72.4 134.3 72.3 134.1 72.2C134.0 72.0 133.9 71.8 133.9 71.5C133.9 71.3 134.0 71.1 134.1 70.9C134.3 70.8 134.6 70.7 134.8 70.7C135.0 70.7 135.2 70.8 135.4 70.9C135.5 71.1 135.7 71.3 135.7 71.5Z"/>
</g></g>
<use href="#bord"/><use href="#coast"/><use href="#thk"/>
</g>
<rect width="216.0" height="122.9" fill="none" stroke="#000" stroke-width="2.5"/>
<text class="l" x="4.6" y="118.6">e) NOAH</text>
</g>
<g transform="translate(271.5,191.9)">
<use href="#tk"/>
<g clip-path="url(#cp)">
<rect width="216.0" height="122.9" fill="#eeeeee"/>
<use href="#land" fill="#fff"/>
<g clip-path="url(#cl)"><g filter="url(#rag)">
<path fill="#06dc0a" d="M24.2 38.2C25.5 38.2 30.1 39.9 33.1 40.4C36.0 41.0 39.5 42.4 41.9 41.5C44.4 40.7 45.5 36.1 47.5 35.3C49.5 34.5 52.7 35.2 54.2 36.7C55.6 38.1 55.5 41.7 56.4 43.8C57.3 45.9 58.1 48.6 59.7 49.3C61.4 50.1 64.2 48.0 66.4 48.2C68.6 48.4 71.2 49.5 73.1 50.4C74.9 51.4 77.1 51.9 77.5 53.8C77.9 55.6 76.4 59.1 75.3 61.5C74.2 64.0 72.7 66.9 70.8 68.2C69.0 69.5 65.6 68.0 64.2 69.3C62.7 70.6 63.8 75.4 61.9 76.0C60.1 76.5 54.9 73.5 53.1 72.7C51.2 71.8 52.3 72.1 50.8 71.1C49.4 70.1 45.6 67.5 44.2 66.4C42.7 65.4 42.6 65.5 41.9 64.9C41.3 64.3 41.6 64.5 40.0 63.0C38.5 61.4 34.3 57.2 32.7 55.7C31.2 54.1 31.3 54.5 30.8 53.8C30.3 53.0 30.7 53.5 29.8 51.3C28.8 49.1 26.2 42.9 25.2 40.7C24.3 38.5 22.9 38.3 24.2 38.2ZM99.7 61.5C99.7 62.6 99.2 63.9 98.4 64.7C97.7 65.4 96.3 66.0 95.3 66.0C94.2 66.0 92.9 65.4 92.1 64.7C91.4 63.9 90.8 62.6 90.8 61.5C90.8 60.5 91.4 59.1 92.1 58.4C92.9 57.7 94.2 57.1 95.3 57.1C96.3 57.1 97.7 57.7 98.4 58.4C99.2 59.1 99.7 60.5 99.7 61.5ZM89.7 70.0C89.7 70.4 89.3 70.9 88.7 71.2C88.2 71.5 87.2 71.8 86.4 71.8C85.6 71.8 84.6 71.5 84.0 71.2C83.5 70.9 83.1 70.4 83.1 70.0C83.1 69.6 83.5 69.0 84.0 68.7C84.6 68.4 85.6 68.2 86.4 68.2C87.2 68.2 88.2 68.4 88.7 68.7C89.3 69.0 89.7 69.6 89.7 70.0ZM100.8 52.7C102.1 51.8 105.8 51.0 108.6 50.4C111.4 49.9 115.3 49.9 117.5 49.3C119.7 48.8 119.7 48.0 121.9 47.1C124.2 46.2 127.9 43.8 130.8 43.8C133.8 43.8 137.5 45.6 139.7 47.1C141.9 48.6 143.4 51.3 144.2 52.7C144.9 54.0 144.2 52.8 144.2 55.4C144.2 57.9 144.2 65.2 144.2 67.7C144.2 70.2 144.6 70.0 144.2 70.4C143.7 70.9 144.7 70.4 141.5 70.6C138.2 70.7 127.9 71.2 124.6 71.4C121.4 71.6 122.8 71.6 121.9 71.5C121.0 71.5 122.1 71.6 119.3 71.2C116.4 70.9 107.5 69.9 104.6 69.6C101.7 69.3 102.4 69.8 101.9 69.3C101.5 68.8 101.9 69.0 101.8 66.6C101.6 64.3 101.2 57.7 101.0 55.3C100.9 53.0 99.6 53.5 100.8 52.7ZM161.9 52.7C163.6 52.4 168.6 53.0 170.8 53.8C173.1 54.5 173.4 55.4 175.3 57.1C177.1 58.8 179.4 61.4 181.9 63.8C184.5 66.2 188.2 69.9 190.8 71.5C193.4 73.2 195.9 73.3 197.5 73.8C199.1 74.2 195.4 73.5 200.2 74.1C204.9 74.6 221.2 76.3 225.9 76.8C230.7 77.3 228.2 76.6 228.6 77.1C229.1 77.6 228.6 70.6 228.6 79.8C228.6 89.0 228.6 123.0 228.6 132.2C228.6 141.4 229.1 134.4 228.6 134.9C228.2 135.3 240.3 134.9 225.9 134.9C211.5 134.9 156.8 134.9 142.4 134.9C128.1 134.9 140.1 135.3 139.7 134.9C139.3 134.4 139.3 139.9 140.0 132.2C140.7 124.5 143.2 96.4 143.9 88.7C144.6 81.0 142.6 87.2 144.2 86.0C145.7 84.8 151.4 82.7 153.1 81.5C154.7 80.4 152.5 83.3 153.8 79.0C155.2 74.6 159.8 59.6 161.2 55.2C162.5 50.9 160.3 52.9 161.9 52.7ZM197.5 63.8C198.2 61.2 199.7 57.1 201.9 56.0C204.2 54.9 208.9 56.8 210.8 57.1C212.8 57.4 210.9 57.1 213.5 57.8C216.0 58.4 223.5 60.3 226.0 60.9C228.5 61.5 228.2 61.0 228.6 61.5C229.0 62.1 228.6 61.9 228.6 64.2C228.6 66.6 228.6 73.2 228.6 75.5C228.6 77.8 229.1 77.8 228.6 78.2C228.2 78.6 229.5 78.3 225.9 78.0C222.3 77.6 210.5 76.6 206.9 76.2C203.2 75.9 205.7 76.8 204.2 76.0C202.6 75.2 198.6 73.6 197.5 71.5C196.4 69.5 196.8 66.4 197.5 63.8ZM114.8 47.1C114.8 47.7 114.6 48.5 114.3 49.0C114.0 49.4 113.5 49.8 113.1 49.8C112.6 49.8 112.1 49.4 111.8 49.0C111.5 48.5 111.3 47.7 111.3 47.1C111.3 46.5 111.5 45.7 111.8 45.2C112.1 44.8 112.6 44.4 113.1 44.4C113.5 44.4 114.0 44.8 114.3 45.2C114.6 45.7 114.8 46.5 114.8 47.1Z"/>
<path fill="#98e898" d="M86.4 11.5C86.4 12.0 85.7 12.6 84.8 13.0C83.8 13.3 82.1 13.5 80.8 13.5C79.5 13.5 77.8 13.3 76.9 13.0C76.0 12.6 75.3 12.0 75.3 11.5C75.3 11.1 76.0 10.5 76.9 10.1C77.8 9.8 79.5 9.5 80.8 9.5C82.1 9.5 83.8 9.8 84.8 10.1C85.7 10.5 86.4 11.1 86.4 11.5ZM106.4 19.3C106.4 19.6 106.1 19.9 105.6 20.1C105.2 20.3 104.4 20.4 103.7 20.4C103.1 20.4 102.3 20.3 101.8 20.1C101.4 19.9 101.1 19.6 101.1 19.3C101.1 19.1 101.4 18.7 101.8 18.5C102.3 18.4 103.1 18.2 103.7 18.2C104.4 18.2 105.2 18.4 105.6 18.5C106.1 18.7 106.4 19.1 106.4 19.3ZM184.2 24.9C184.2 25.3 183.8 25.8 183.4 26.1C182.9 26.4 182.1 26.7 181.5 26.7C180.9 26.7 180.1 26.4 179.6 26.1C179.2 25.8 178.8 25.3 178.8 24.9C178.8 24.5 179.2 23.9 179.6 23.6C180.1 23.3 180.9 23.1 181.5 23.1C182.1 23.1 182.9 23.3 183.4 23.6C183.8 23.9 184.2 24.5 184.2 24.9ZM21.7 19.3C21.7 19.5 21.6 19.8 21.5 20.0C21.3 20.1 21.0 20.2 20.8 20.2C20.6 20.2 20.4 20.1 20.2 20.0C20.1 19.8 19.9 19.5 19.9 19.3C19.9 19.1 20.1 18.8 20.2 18.7C20.4 18.5 20.6 18.4 20.8 18.4C21.0 18.4 21.3 18.5 21.5 18.7C21.6 18.8 21.7 19.1 21.7 19.3Z"/>
<path fill="#04b608" d="M144.2 94.9C144.4 94.3 144.9 94.6 146.7 94.0C148.5 93.4 153.1 91.9 154.9 91.3C156.7 90.7 155.6 90.2 157.5 90.4C159.4 90.7 164.5 90.4 166.4 92.7C168.2 94.9 167.1 100.4 168.6 103.8C170.1 107.1 174.9 109.7 175.3 112.7C175.6 115.6 172.0 120.1 170.8 121.5C169.6 123.0 169.9 121.5 168.1 121.5C166.4 121.5 162.0 121.5 160.2 121.5C158.4 121.5 159.1 123.0 157.5 121.5C155.9 120.1 152.1 114.6 150.8 112.7C149.6 110.8 150.8 112.7 149.9 110.1C148.9 107.6 146.1 99.9 145.1 97.4C144.2 94.9 143.9 95.4 144.2 94.9ZM101.5 52.7C103.4 50.4 111.1 51.3 113.1 51.5C115.0 51.8 113.1 52.5 113.1 54.2C113.1 56.0 113.1 60.4 113.1 62.2C113.1 63.9 114.9 64.4 113.1 64.9C111.2 65.3 103.9 66.9 101.9 64.9C100.0 62.8 99.6 54.9 101.5 52.7Z"/>
<path fill="#ffffff" d="M56.2 51.5C56.2 52.0 55.8 52.6 55.3 53.0C54.7 53.3 53.8 53.5 53.1 53.5C52.3 53.5 51.4 53.3 50.9 53.0C50.3 52.6 49.9 52.0 49.9 51.5C49.9 51.1 50.3 50.5 50.9 50.1C51.4 49.8 52.3 49.5 53.1 49.5C53.8 49.5 54.7 49.8 55.3 50.1C55.8 50.5 56.2 51.1 56.2 51.5ZM67.5 63.8C67.5 64.2 67.2 64.7 66.8 65.0C66.5 65.3 65.8 65.5 65.3 65.5C64.8 65.5 64.1 65.3 63.7 65.0C63.3 64.7 63.1 64.2 63.1 63.8C63.1 63.3 63.3 62.8 63.7 62.5C64.1 62.2 64.8 62.0 65.3 62.0C65.8 62.0 66.5 62.2 66.8 62.5C67.2 62.8 67.5 63.3 67.5 63.8ZM127.5 55.3C127.5 55.7 127.2 56.3 126.8 56.6C126.5 56.9 125.8 57.1 125.3 57.1C124.8 57.1 124.1 56.9 123.7 56.6C123.3 56.3 123.1 55.7 123.1 55.3C123.1 54.9 123.3 54.4 123.7 54.1C124.1 53.8 124.8 53.5 125.3 53.5C125.8 53.5 126.5 53.8 126.8 54.1C127.2 54.4 127.5 54.9 127.5 55.3ZM207.5 68.2C207.5 68.8 207.2 69.7 206.8 70.1C206.5 70.5 205.8 70.9 205.3 70.9C204.8 70.9 204.1 70.5 203.7 70.1C203.3 69.7 203.1 68.8 203.1 68.2C203.1 67.6 203.3 66.8 203.7 66.3C204.1 65.9 204.8 65.5 205.3 65.5C205.8 65.5 206.5 65.9 206.8 66.3C207.2 66.8 207.5 67.6 207.5 68.2Z"/>
<path fill="#00ffff" d="M27.5 42.7C27.5 41.0 31.0 42.7 33.1 43.8C35.1 44.9 37.7 47.7 39.7 49.3C41.8 51.0 43.4 52.8 45.3 53.8C47.1 54.8 49.1 54.2 50.8 55.3C52.6 56.4 54.2 58.3 55.7 60.4C57.2 62.6 60.0 66.5 59.7 68.2C59.5 69.9 56.4 70.8 54.2 70.4C51.9 70.1 48.8 67.5 46.4 66.0C44.0 64.5 41.9 63.6 39.7 61.5C37.5 59.5 35.1 56.9 33.1 53.8C31.0 50.6 27.5 44.3 27.5 42.7ZM70.8 54.9C70.8 55.1 70.6 55.5 70.2 55.7C69.8 55.8 69.1 56.0 68.6 56.0C68.1 56.0 67.4 55.8 67.0 55.7C66.7 55.5 66.4 55.1 66.4 54.9C66.4 54.6 66.7 54.3 67.0 54.1C67.4 53.9 68.1 53.8 68.6 53.8C69.1 53.8 69.8 53.9 70.2 54.1C70.6 54.3 70.8 54.6 70.8 54.9ZM89.3 71.5C89.3 71.8 89.1 72.1 88.8 72.3C88.5 72.5 87.9 72.7 87.5 72.7C87.1 72.7 86.5 72.5 86.2 72.3C85.9 72.1 85.7 71.8 85.7 71.5C85.7 71.3 85.9 70.9 86.2 70.8C86.5 70.6 87.1 70.4 87.5 70.4C87.9 70.4 88.5 70.6 88.8 70.8C89.1 70.9 89.3 71.3 89.3 71.5ZM94.2 61.5C94.2 62.0 94.0 62.5 93.8 62.8C93.7 63.1 93.3 63.3 93.1 63.3C92.8 63.3 92.5 63.1 92.3 62.8C92.1 62.5 91.9 62.0 91.9 61.5C91.9 61.1 92.1 60.6 92.3 60.3C92.5 60.0 92.8 59.8 93.1 59.8C93.3 59.8 93.7 60.0 93.8 60.3C94.0 60.6 94.2 61.1 94.2 61.5ZM121.9 61.5C121.6 59.7 126.8 57.4 128.6 55.3C130.5 53.3 131.2 50.4 133.1 49.3C134.9 48.2 138.1 47.9 139.7 48.7C141.4 49.4 141.2 52.7 143.1 53.8C144.9 54.9 148.1 55.2 150.8 55.3C153.6 55.4 156.8 54.4 159.7 54.4C162.7 54.4 166.0 54.7 168.6 55.3C171.2 56.0 173.1 56.8 175.3 58.2C177.5 59.6 179.7 61.7 181.9 63.8C184.2 65.8 186.8 68.2 188.6 70.4C190.5 72.7 190.5 76.2 193.1 77.1C195.6 78.0 201.9 76.2 204.2 76.0C206.5 75.8 203.2 76.0 206.9 75.9C210.5 75.7 222.3 75.2 225.9 75.0C229.5 74.8 228.2 74.4 228.6 74.9C229.1 75.3 228.6 71.4 228.6 77.6C228.6 83.8 228.6 106.0 228.6 112.2C228.6 118.4 229.1 114.3 228.6 114.9C228.2 115.4 229.0 114.8 226.0 115.4C222.9 116.0 213.2 117.8 210.2 118.4C207.1 119.0 209.6 119.6 207.5 118.9C205.4 118.1 200.6 114.2 197.5 113.8C194.4 113.3 191.6 116.9 189.1 116.0C186.5 115.1 183.9 110.2 182.4 108.2C180.8 106.2 180.3 104.9 179.7 103.8C179.1 102.6 179.5 103.0 178.9 101.2C178.3 99.4 176.7 94.8 176.1 93.0C175.5 91.2 175.9 90.9 175.3 90.4C174.7 90.0 175.8 90.5 172.6 90.2C169.3 89.8 159.0 88.8 155.7 88.5C152.5 88.2 154.4 89.4 153.1 88.2C151.7 87.1 148.7 83.0 147.5 81.5C146.3 80.0 147.2 81.0 146.1 79.2C145.1 77.4 142.2 72.4 141.1 70.5C140.0 68.7 141.4 68.9 139.7 68.2C138.0 67.5 133.8 67.5 130.8 66.4C127.9 65.3 122.3 63.4 121.9 61.5ZM152.8 90.4C152.8 91.0 152.4 91.6 151.9 92.0C151.4 92.4 150.5 92.7 149.7 92.7C149.0 92.7 148.0 92.4 147.5 92.0C147.0 91.6 146.6 91.0 146.6 90.4C146.6 89.9 147.0 89.2 147.5 88.9C148.0 88.5 149.0 88.2 149.7 88.2C150.5 88.2 151.4 88.5 151.9 88.9C152.4 89.2 152.8 89.9 152.8 90.4Z"/>
<path fill="#0090ff" d="M29.7 44.2C29.7 42.8 33.4 45.9 35.3 47.1C37.1 48.3 39.0 49.9 40.8 51.5C42.7 53.2 44.5 55.4 46.4 57.1C48.2 58.8 50.6 59.9 51.9 61.5C53.2 63.2 54.7 66.3 54.2 67.1C53.6 67.9 50.6 67.4 48.6 66.4C46.6 65.5 44.2 63.4 41.9 61.5C39.7 59.7 37.3 58.2 35.3 55.3C33.2 52.4 29.7 45.6 29.7 44.2ZM130.8 61.5C130.5 60.4 136.8 60.1 139.7 59.3C142.7 58.6 145.3 57.8 148.6 57.1C151.9 56.4 156.4 55.3 159.7 55.3C163.1 55.3 166.0 55.7 168.6 57.1C171.2 58.5 173.1 61.5 175.3 63.8C177.5 66.0 180.1 67.8 181.9 70.4C183.8 73.0 183.8 77.5 186.4 79.3C189.0 81.2 195.2 81.1 197.5 81.5C199.8 82.0 198.4 81.7 200.2 82.0C201.9 82.3 206.4 83.0 208.2 83.3C209.9 83.6 210.0 83.5 210.8 83.8C211.7 84.0 210.8 83.8 213.4 84.7C215.9 85.7 223.5 88.5 226.1 89.5C228.6 90.4 228.2 89.8 228.6 90.4C229.0 91.0 228.6 90.6 228.6 93.1C228.6 95.6 228.6 103.0 228.6 105.5C228.6 108.0 229.1 107.7 228.6 108.2C228.2 108.7 229.2 108.1 225.9 108.6C222.7 109.1 212.3 110.7 209.1 111.1C205.8 111.6 208.7 112.0 206.4 111.5C204.1 111.1 198.4 109.9 195.3 108.2C192.1 106.5 189.7 104.1 187.5 101.5C185.3 99.0 184.0 95.1 181.9 92.7C179.9 90.2 176.8 88.0 175.3 87.1C173.7 86.2 175.1 87.1 172.6 87.1C170.1 87.1 162.7 87.1 160.2 87.1C157.7 87.1 159.4 88.0 157.5 87.1C155.6 86.2 150.3 82.9 148.6 81.5C147.0 80.2 148.5 81.2 147.5 79.1C146.6 76.9 143.9 70.6 143.0 68.5C142.1 66.3 144.0 67.1 141.9 66.0C139.9 64.8 131.2 62.7 130.8 61.5Z"/>
<path fill="#0000ff" d="M34.2 50.4C34.9 49.9 38.2 51.4 39.7 52.7C41.2 54.0 43.1 56.9 43.1 58.2C43.1 59.5 41.0 60.8 39.7 60.4C38.4 60.1 36.2 57.7 35.3 56.0C34.4 54.3 33.4 51.0 34.2 50.4ZM139.7 61.5C140.6 60.1 147.5 60.1 150.8 59.3C154.2 58.6 156.8 57.1 159.7 57.1C162.7 57.1 166.4 57.5 168.6 59.3C170.8 61.2 171.9 64.9 173.1 68.2C174.2 71.5 175.6 76.5 175.3 79.3C174.9 82.1 172.0 84.0 170.8 84.9C169.6 85.8 169.9 84.9 168.1 84.9C166.4 84.9 162.0 84.9 160.2 84.9C158.4 84.9 159.1 85.4 157.5 84.9C155.9 84.3 152.1 82.5 150.8 81.5C149.5 80.6 150.5 80.9 149.8 79.1C149.0 77.2 147.1 72.5 146.3 70.7C145.6 68.9 146.4 69.7 145.3 68.2C144.2 66.7 138.8 63.0 139.7 61.5ZM193.1 90.4C195.3 88.6 201.0 85.6 204.2 86.0C207.3 86.4 211.2 90.1 211.9 92.7C212.7 95.2 211.0 100.1 208.6 101.5C206.2 103.0 200.5 102.3 197.5 101.5C194.5 100.8 191.6 99.0 190.8 97.1C190.1 95.2 190.8 92.3 193.1 90.4Z"/>
<path fill="#0000b0" d="M156.4 63.8C157.3 62.0 161.4 61.2 163.1 62.0C164.7 62.7 166.2 66.2 166.4 68.2C166.6 70.2 165.6 73.0 164.2 73.8C162.7 74.5 158.8 74.3 157.5 72.7C156.2 71.0 155.5 65.5 156.4 63.8ZM153.1 77.5C153.5 76.4 154.0 77.4 155.7 77.2C157.5 77.0 161.9 76.5 163.7 76.3C165.5 76.1 164.9 74.9 166.4 76.0C167.9 77.0 173.4 81.1 172.6 82.7C171.9 84.2 165.2 85.3 161.9 85.5C158.7 85.8 154.5 85.5 153.1 84.2C151.6 82.9 152.6 78.7 153.1 77.5ZM204.4 94.2C204.4 94.6 203.9 95.2 203.3 95.5C202.8 95.8 201.7 96.0 200.8 96.0C200.0 96.0 198.9 95.8 198.3 95.5C197.7 95.2 197.3 94.6 197.3 94.2C197.3 93.8 197.7 93.3 198.3 93.0C198.9 92.7 200.0 92.4 200.8 92.4C201.7 92.4 202.8 92.7 203.3 93.0C203.9 93.3 204.4 93.8 204.4 94.2Z"/>
<path fill="#ffff00" d="M123.1 67.8C123.7 66.6 128.4 67.6 130.8 67.3C133.2 67.0 135.3 66.8 137.5 66.0C139.7 65.2 141.6 63.7 144.2 62.7C146.8 61.6 151.0 60.0 153.1 59.8C155.1 59.6 156.4 60.5 156.4 61.5C156.4 62.6 154.0 64.1 153.1 66.0C152.1 67.8 151.3 70.1 150.8 72.7C150.4 75.2 151.1 79.9 150.4 81.1C149.7 82.3 148.2 80.6 146.8 79.8C145.4 78.9 144.1 76.7 141.9 76.0C139.8 75.2 136.7 75.6 134.2 75.3C131.6 75.1 128.7 75.7 126.8 74.4C125.0 73.2 122.4 69.0 123.1 67.8Z"/>
<path fill="#ffa000" d="M130.8 69.3C131.8 68.4 135.3 68.5 137.5 67.8C139.7 67.0 141.9 65.7 144.2 64.9C146.4 64.0 149.4 62.8 150.8 62.7C152.3 62.5 153.1 62.8 153.1 63.8C153.1 64.7 151.5 66.5 150.8 68.2C150.2 69.9 149.4 72.1 149.1 73.8C148.7 75.4 149.4 78.0 148.6 78.2C147.8 78.4 146.0 75.6 144.2 74.9C142.3 74.1 139.5 74.1 137.5 73.8C135.5 73.5 133.1 73.8 131.9 73.1C130.8 72.4 129.9 70.2 130.8 69.3Z"/>
<path fill="#ff0000" d="M135.5 71.8C135.5 72.0 135.3 72.4 135.1 72.6C134.9 72.7 134.5 72.9 134.2 72.9C133.9 72.9 133.4 72.7 133.2 72.6C133.0 72.4 132.8 72.0 132.8 71.8C132.8 71.5 133.0 71.2 133.2 71.0C133.4 70.8 133.9 70.7 134.2 70.7C134.5 70.7 134.9 70.8 135.1 71.0C135.3 71.2 135.5 71.5 135.5 71.8ZM144.6 71.3C144.6 71.7 144.5 72.2 144.3 72.4C144.1 72.7 143.8 72.9 143.5 72.9C143.2 72.9 142.9 72.7 142.7 72.4C142.5 72.2 142.4 71.7 142.4 71.3C142.4 71.0 142.5 70.5 142.7 70.2C142.9 70.0 143.2 69.8 143.5 69.8C143.8 69.8 144.1 70.0 144.3 70.2C144.5 70.5 144.6 71.0 144.6 71.3Z"/>
</g></g>
<use href="#bord"/><use href="#coast"/><use href="#thk"/>
</g>
<rect width="216.0" height="122.9" fill="none" stroke="#000" stroke-width="2.5"/>
<text class="l" x="4.6" y="118.6">f) ORCHIDEE_CWRR</text>
</g>
<g transform="translate(498.4,191.9)">
<use href="#tk"/>
<g clip-path="url(#cp)">
<rect width="216.0" height="122.9" fill="#eeeeee"/>
<use href="#land" fill="#fff"/>
<g clip-path="url(#cl)"><g filter="url(#rag)">
<path fill="#06dc0a" d="M25.4 39.3C26.5 39.2 30.4 40.5 33.2 41.1C35.9 41.7 39.6 43.3 42.0 42.7C44.5 42.0 45.6 37.8 47.6 37.1C49.6 36.4 52.8 36.9 54.3 38.2C55.7 39.5 55.6 42.9 56.5 44.9C57.4 46.8 58.2 49.2 59.8 50.0C61.5 50.7 64.3 49.1 66.5 49.3C68.7 49.6 71.5 50.6 73.2 51.5C74.8 52.5 76.2 53.2 76.5 54.9C76.8 56.5 75.9 59.3 74.9 61.5C74.0 63.8 72.7 66.9 70.9 68.2C69.2 69.5 65.7 68.0 64.3 69.3C62.8 70.6 63.9 75.4 62.0 76.0C60.2 76.5 55.0 73.5 53.2 72.7C51.3 71.8 52.4 72.1 50.9 71.1C49.5 70.1 45.7 67.5 44.3 66.4C42.8 65.4 42.7 65.5 42.0 64.9C41.4 64.3 41.7 64.5 40.1 63.0C38.6 61.4 34.4 57.2 32.8 55.7C31.3 54.1 31.4 54.5 30.9 53.8C30.5 53.0 30.7 53.2 30.0 51.2C29.2 49.3 27.1 43.8 26.3 41.8C25.6 39.9 24.2 39.4 25.4 39.3ZM98.9 61.5C98.9 62.5 98.4 63.7 97.8 64.4C97.1 65.0 95.9 65.5 94.9 65.5C94.0 65.5 92.8 65.0 92.1 64.4C91.4 63.7 90.9 62.5 90.9 61.5C90.9 60.6 91.4 59.4 92.1 58.7C92.8 58.0 94.0 57.5 94.9 57.5C95.9 57.5 97.1 58.0 97.8 58.7C98.4 59.4 98.9 60.6 98.9 61.5ZM89.8 70.0C89.8 70.4 89.4 70.9 88.8 71.2C88.3 71.5 87.3 71.8 86.5 71.8C85.7 71.8 84.7 71.5 84.1 71.2C83.6 70.9 83.2 70.4 83.2 70.0C83.2 69.6 83.6 69.0 84.1 68.7C84.7 68.4 85.7 68.2 86.5 68.2C87.3 68.2 88.3 68.4 88.8 68.7C89.4 69.0 89.8 69.6 89.8 70.0ZM100.9 53.8C102.2 52.9 105.9 52.1 108.7 51.5C111.5 51.0 115.4 51.0 117.6 50.4C119.8 49.9 119.8 49.1 122.0 48.2C124.3 47.3 128.0 45.0 130.9 44.9C133.9 44.8 137.6 46.4 139.8 47.8C142.0 49.1 143.5 51.8 144.3 53.1C145.0 54.4 144.3 53.4 144.3 55.8C144.3 58.2 144.3 65.3 144.3 67.7C144.3 70.2 144.7 70.0 144.3 70.4C143.8 70.9 144.8 70.4 141.6 70.6C138.3 70.7 128.0 71.2 124.7 71.4C121.5 71.6 122.9 71.6 122.0 71.5C121.1 71.5 122.2 71.6 119.4 71.2C116.5 70.9 107.6 69.9 104.7 69.6C101.8 69.3 102.5 69.8 102.0 69.3C101.6 68.8 102.0 68.8 101.9 66.6C101.7 64.5 101.3 58.6 101.1 56.5C101.0 54.3 99.7 54.6 100.9 53.8ZM162.0 53.8C163.7 53.4 168.7 53.8 170.9 54.4C173.2 55.1 173.5 55.9 175.4 57.5C177.2 59.2 179.5 61.8 182.0 64.2C184.6 66.7 188.3 70.5 190.9 72.2C193.5 73.9 196.0 74.0 197.6 74.4C199.2 74.9 195.5 74.2 200.3 74.8C205.0 75.3 221.3 77.3 226.0 77.9C230.8 78.5 228.3 77.7 228.7 78.2C229.2 78.7 228.7 71.9 228.7 80.9C228.7 89.9 228.7 123.2 228.7 132.2C228.7 141.2 229.2 134.4 228.7 134.9C228.3 135.3 240.4 134.9 226.0 134.9C211.6 134.9 156.9 134.9 142.5 134.9C128.2 134.9 140.2 135.3 139.8 134.9C139.4 134.4 139.4 139.9 140.1 132.2C140.8 124.5 143.3 96.4 144.0 88.7C144.7 81.0 142.7 87.2 144.3 86.0C145.8 84.8 151.5 82.7 153.2 81.5C154.8 80.4 152.6 83.2 154.0 79.0C155.3 74.8 159.9 60.5 161.2 56.3C162.6 52.1 160.4 54.1 162.0 53.8ZM198.7 66.0C198.7 63.6 201.9 61.9 204.3 61.5C206.7 61.2 211.2 63.3 213.2 63.8C215.1 64.3 213.6 63.9 215.8 64.5C217.9 65.1 224.0 66.9 226.1 67.5C228.3 68.1 228.3 66.4 228.7 68.2C229.1 70.0 229.2 76.6 228.7 78.2C228.3 79.8 229.6 78.3 226.0 78.0C222.4 77.6 210.6 76.6 207.0 76.2C203.3 75.9 205.6 77.7 204.3 76.0C202.9 74.3 198.7 68.4 198.7 66.0Z"/>
<path fill="#04b608" d="M144.3 94.9C144.5 94.3 145.0 94.6 146.8 94.0C148.6 93.4 153.2 91.9 155.0 91.3C156.8 90.7 155.7 90.2 157.6 90.4C159.5 90.7 164.6 90.4 166.5 92.7C168.3 94.9 167.2 100.4 168.7 103.8C170.2 107.1 175.0 109.7 175.4 112.7C175.7 115.6 172.1 120.1 170.9 121.5C169.7 123.0 170.0 121.5 168.2 121.5C166.5 121.5 162.1 121.5 160.3 121.5C158.5 121.5 159.2 123.0 157.6 121.5C156.0 120.1 152.2 114.6 150.9 112.7C149.7 110.8 150.9 112.7 150.0 110.1C149.0 107.6 146.2 99.9 145.2 97.4C144.3 94.9 144.0 95.4 144.3 94.9ZM101.6 53.8C103.5 51.7 111.2 50.8 113.2 52.7C115.1 54.5 115.0 62.8 113.2 64.9C111.3 66.9 104.0 66.7 102.0 64.9C100.1 63.0 99.7 55.8 101.6 53.8Z"/>
<path fill="#ffffff" d="M56.3 52.2C56.3 52.7 55.9 53.3 55.4 53.6C54.8 54.0 53.9 54.2 53.2 54.2C52.4 54.2 51.5 54.0 51.0 53.6C50.4 53.3 50.0 52.7 50.0 52.2C50.0 51.7 50.4 51.1 51.0 50.8C51.5 50.5 52.4 50.2 53.2 50.2C53.9 50.2 54.8 50.5 55.4 50.8C55.9 51.1 56.3 51.7 56.3 52.2ZM67.6 63.8C67.6 64.2 67.3 64.7 66.9 65.0C66.6 65.3 65.9 65.5 65.4 65.5C64.9 65.5 64.2 65.3 63.8 65.0C63.4 64.7 63.2 64.2 63.2 63.8C63.2 63.3 63.4 62.8 63.8 62.5C64.2 62.2 64.9 62.0 65.4 62.0C65.9 62.0 66.6 62.2 66.9 62.5C67.3 62.8 67.6 63.3 67.6 63.8ZM127.6 56.0C127.6 56.4 127.3 56.9 126.9 57.2C126.6 57.5 125.9 57.8 125.4 57.8C124.9 57.8 124.2 57.5 123.8 57.2C123.4 56.9 123.2 56.4 123.2 56.0C123.2 55.6 123.4 55.0 123.8 54.7C124.2 54.4 124.9 54.2 125.4 54.2C125.9 54.2 126.6 54.4 126.9 54.7C127.3 55.0 127.6 55.6 127.6 56.0ZM207.2 70.4C207.2 70.9 206.9 71.4 206.6 71.7C206.3 72.0 205.8 72.2 205.4 72.2C205.0 72.2 204.4 72.0 204.1 71.7C203.8 71.4 203.6 70.9 203.6 70.4C203.6 70.0 203.8 69.5 204.1 69.2C204.4 68.9 205.0 68.7 205.4 68.7C205.8 68.7 206.3 68.9 206.6 69.2C206.9 69.5 207.2 70.0 207.2 70.4ZM68.3 53.8C68.3 54.2 68.0 54.7 67.7 55.0C67.4 55.3 66.9 55.5 66.5 55.5C66.1 55.5 65.5 55.3 65.2 55.0C64.9 54.7 64.7 54.2 64.7 53.8C64.7 53.3 64.9 52.8 65.2 52.5C65.5 52.2 66.1 52.0 66.5 52.0C66.9 52.0 67.4 52.2 67.7 52.5C68.0 52.8 68.3 53.3 68.3 53.8Z"/>
<path fill="#00ffff" d="M27.6 42.7C27.6 41.0 31.1 42.7 33.2 43.8C35.2 44.9 37.8 47.7 39.8 49.3C41.9 51.0 43.5 52.8 45.4 53.8C47.2 54.8 49.2 54.2 50.9 55.3C52.7 56.4 54.3 58.3 55.8 60.4C57.3 62.6 60.1 66.5 59.8 68.2C59.6 69.9 56.5 70.8 54.3 70.4C52.0 70.1 48.9 67.5 46.5 66.0C44.1 64.5 42.0 63.6 39.8 61.5C37.6 59.5 35.2 56.9 33.2 53.8C31.1 50.6 27.6 44.3 27.6 42.7ZM89.4 71.5C89.4 71.8 89.2 72.1 88.9 72.3C88.6 72.5 88.0 72.7 87.6 72.7C87.2 72.7 86.6 72.5 86.3 72.3C86.0 72.1 85.8 71.8 85.8 71.5C85.8 71.3 86.0 70.9 86.3 70.8C86.6 70.6 87.2 70.4 87.6 70.4C88.0 70.4 88.6 70.6 88.9 70.8C89.2 70.9 89.4 71.3 89.4 71.5ZM94.3 62.0C94.3 62.4 94.1 62.9 93.9 63.2C93.8 63.5 93.4 63.8 93.2 63.8C92.9 63.8 92.6 63.5 92.4 63.2C92.2 62.9 92.0 62.4 92.0 62.0C92.0 61.6 92.2 61.0 92.4 60.7C92.6 60.4 92.9 60.2 93.2 60.2C93.4 60.2 93.8 60.4 93.9 60.7C94.1 61.0 94.3 61.6 94.3 62.0ZM122.0 62.0C121.7 60.2 126.9 58.0 128.7 56.0C130.6 54.0 131.3 51.1 133.2 50.0C135.0 48.9 138.2 48.6 139.8 49.3C141.5 50.1 141.3 53.4 143.2 54.4C145.0 55.5 148.2 55.7 150.9 55.8C153.7 55.8 156.9 54.9 159.8 54.9C162.8 54.9 166.1 55.1 168.7 55.8C171.3 56.4 173.2 57.5 175.4 58.9C177.6 60.3 179.8 62.2 182.0 64.2C184.3 66.2 186.9 68.7 188.7 70.9C190.6 73.1 190.6 76.6 193.2 77.5C195.7 78.5 202.0 76.8 204.3 76.7C206.6 76.5 203.3 76.7 207.0 76.6C210.6 76.5 222.4 76.2 226.0 76.1C229.6 76.0 228.3 75.6 228.7 76.0C229.2 76.4 228.7 72.7 228.7 78.7C228.7 84.7 228.7 106.1 228.7 112.2C228.7 118.2 229.2 114.3 228.7 114.9C228.3 115.4 229.1 114.8 226.1 115.4C223.0 116.0 213.3 117.8 210.3 118.4C207.2 119.0 209.7 119.6 207.6 118.9C205.5 118.1 200.7 114.2 197.6 113.8C194.5 113.3 191.7 116.9 189.2 116.0C186.6 115.1 184.0 110.2 182.5 108.2C180.9 106.2 180.4 104.9 179.8 103.8C179.2 102.6 179.6 103.0 179.0 101.2C178.4 99.4 176.8 94.8 176.2 93.0C175.6 91.2 176.0 90.9 175.4 90.4C174.8 90.0 175.9 90.5 172.7 90.2C169.4 89.8 159.1 88.8 155.8 88.5C152.6 88.2 154.5 89.4 153.2 88.2C151.8 87.1 148.8 83.0 147.6 81.5C146.4 80.0 147.3 81.0 146.2 79.2C145.2 77.4 142.3 72.4 141.2 70.5C140.1 68.7 141.5 68.9 139.8 68.2C138.1 67.5 133.9 67.5 130.9 66.4C128.0 65.4 122.4 63.7 122.0 62.0ZM152.9 90.4C152.9 91.0 152.5 91.6 152.0 92.0C151.5 92.4 150.6 92.7 149.8 92.7C149.1 92.7 148.1 92.4 147.6 92.0C147.1 91.6 146.7 91.0 146.7 90.4C146.7 89.9 147.1 89.2 147.6 88.9C148.1 88.5 149.1 88.2 149.8 88.2C150.6 88.2 151.5 88.5 152.0 88.9C152.5 89.2 152.9 89.9 152.9 90.4Z"/>
<path fill="#0090ff" d="M29.8 44.2C29.8 42.8 33.5 45.9 35.4 47.1C37.2 48.3 39.1 49.9 40.9 51.5C42.8 53.2 44.6 55.4 46.5 57.1C48.3 58.8 50.7 59.9 52.0 61.5C53.3 63.2 54.8 66.3 54.3 67.1C53.7 67.9 50.7 67.4 48.7 66.4C46.7 65.5 44.3 63.4 42.0 61.5C39.8 59.7 37.4 58.2 35.4 55.3C33.3 52.4 29.8 45.6 29.8 44.2ZM130.9 62.0C130.6 61.0 136.9 60.5 139.8 59.8C142.8 59.0 145.4 58.2 148.7 57.5C152.0 56.9 156.5 55.8 159.8 55.8C163.2 55.8 166.1 56.1 168.7 57.5C171.3 59.0 173.2 62.0 175.4 64.2C177.6 66.4 180.2 68.3 182.0 70.9C183.9 73.5 183.9 77.8 186.5 79.8C189.1 81.7 195.3 82.1 197.6 82.7C199.9 83.2 198.5 82.8 200.3 83.1C202.0 83.4 206.5 84.1 208.3 84.4C210.0 84.7 210.1 84.6 210.9 84.9C211.8 85.1 210.9 84.9 213.5 85.8C216.0 86.8 223.6 89.6 226.2 90.6C228.7 91.5 228.3 90.9 228.7 91.5C229.1 92.2 228.7 91.9 228.7 94.2C228.7 96.6 228.7 103.2 228.7 105.5C228.7 107.8 229.2 107.7 228.7 108.2C228.3 108.7 229.3 108.1 226.0 108.6C222.8 109.1 212.4 110.7 209.2 111.1C205.9 111.6 208.8 112.0 206.5 111.5C204.2 111.1 198.5 109.9 195.4 108.2C192.2 106.5 189.8 104.1 187.6 101.5C185.4 99.0 184.1 95.1 182.0 92.7C180.0 90.2 176.9 88.0 175.4 87.1C173.8 86.2 175.2 87.1 172.7 87.1C170.2 87.1 162.8 87.1 160.3 87.1C157.8 87.1 159.5 88.0 157.6 87.1C155.7 86.2 150.4 82.9 148.7 81.5C147.1 80.2 148.6 81.2 147.6 79.1C146.7 76.9 144.0 70.6 143.1 68.5C142.2 66.3 144.1 67.1 142.0 66.0C140.0 64.9 131.3 63.0 130.9 62.0Z"/>
<path fill="#0000ff" d="M34.3 50.4C35.0 49.9 38.3 51.4 39.8 52.7C41.3 54.0 43.2 56.9 43.2 58.2C43.2 59.5 41.1 60.8 39.8 60.4C38.5 60.1 36.3 57.7 35.4 56.0C34.5 54.3 33.5 51.0 34.3 50.4ZM139.8 62.0C140.7 60.6 147.6 60.5 150.9 59.8C154.3 59.0 156.9 57.5 159.8 57.5C162.8 57.5 166.5 57.9 168.7 59.8C170.9 61.6 172.0 65.4 173.2 68.7C174.3 71.9 175.7 76.6 175.4 79.3C175.0 82.0 172.1 84.0 170.9 84.9C169.7 85.8 170.0 84.9 168.2 84.9C166.5 84.9 162.1 84.9 160.3 84.9C158.5 84.9 159.2 85.4 157.6 84.9C156.0 84.3 152.2 82.5 150.9 81.5C149.6 80.6 150.6 80.9 149.9 79.1C149.1 77.2 147.2 72.5 146.4 70.7C145.7 68.9 146.5 69.7 145.4 68.2C144.3 66.8 138.9 63.4 139.8 62.0ZM193.2 91.5C195.4 89.9 201.1 86.7 204.3 87.1C207.4 87.5 211.3 91.4 212.0 93.8C212.8 96.2 211.1 100.2 208.7 101.5C206.3 102.8 200.6 102.3 197.6 101.5C194.6 100.8 191.7 98.8 190.9 97.1C190.2 95.4 190.9 93.2 193.2 91.5Z"/>
<path fill="#0000b0" d="M156.5 63.8C157.4 62.0 161.5 61.2 163.2 62.0C164.8 62.7 166.3 66.2 166.5 68.2C166.7 70.2 165.7 73.0 164.3 73.8C162.8 74.5 158.9 74.3 157.6 72.7C156.3 71.0 155.6 65.5 156.5 63.8ZM153.2 77.5C153.6 76.4 154.1 77.4 155.8 77.2C157.6 77.0 162.0 76.5 163.8 76.3C165.6 76.1 165.0 74.9 166.5 76.0C168.0 77.0 173.5 81.1 172.7 82.7C172.0 84.2 165.3 85.3 162.0 85.5C158.8 85.8 154.6 85.5 153.2 84.2C151.7 82.9 152.7 78.7 153.2 77.5ZM204.5 94.2C204.5 94.6 204.0 95.2 203.4 95.5C202.9 95.8 201.8 96.0 200.9 96.0C200.1 96.0 199.0 95.8 198.4 95.5C197.8 95.2 197.4 94.6 197.4 94.2C197.4 93.8 197.8 93.3 198.4 93.0C199.0 92.7 200.1 92.4 200.9 92.4C201.8 92.4 202.9 92.7 203.4 93.0C204.0 93.3 204.5 93.8 204.5 94.2Z"/>
<path fill="#ffff00" d="M123.2 67.8C123.8 66.6 128.5 67.6 130.9 67.3C133.3 67.0 135.4 66.8 137.6 66.0C139.8 65.2 141.7 63.7 144.3 62.7C146.9 61.6 151.1 60.0 153.2 59.8C155.2 59.6 156.5 60.5 156.5 61.5C156.5 62.6 154.1 64.1 153.2 66.0C152.2 67.8 151.4 70.1 150.9 72.7C150.5 75.2 151.2 79.9 150.5 81.1C149.8 82.3 148.3 80.6 146.9 79.8C145.5 78.9 144.2 76.7 142.0 76.0C139.9 75.2 136.8 75.6 134.3 75.3C131.7 75.1 128.8 75.7 126.9 74.4C125.1 73.2 122.5 69.0 123.2 67.8Z"/>
<path fill="#ffa000" d="M130.9 69.3C131.9 68.4 135.4 68.5 137.6 67.8C139.8 67.0 142.0 65.7 144.3 64.9C146.5 64.0 149.5 62.8 150.9 62.7C152.4 62.5 153.2 62.8 153.2 63.8C153.2 64.7 151.6 66.5 150.9 68.2C150.3 69.9 149.5 72.1 149.2 73.8C148.8 75.4 149.5 78.0 148.7 78.2C147.9 78.4 146.1 75.6 144.3 74.9C142.4 74.1 139.6 74.1 137.6 73.8C135.6 73.5 133.2 73.8 132.0 73.1C130.9 72.4 130.0 70.2 130.9 69.3Z"/>
<path fill="#ff0000" d="M135.6 71.8C135.6 72.0 135.4 72.4 135.2 72.6C135.0 72.7 134.6 72.9 134.3 72.9C134.0 72.9 133.5 72.7 133.3 72.6C133.1 72.4 132.9 72.0 132.9 71.8C132.9 71.5 133.1 71.2 133.3 71.0C133.5 70.8 134.0 70.7 134.3 70.7C134.6 70.7 135.0 70.8 135.2 71.0C135.4 71.2 135.6 71.5 135.6 71.8ZM144.7 71.3C144.7 71.7 144.6 72.2 144.4 72.4C144.2 72.7 143.9 72.9 143.6 72.9C143.3 72.9 143.0 72.7 142.8 72.4C142.6 72.2 142.5 71.7 142.5 71.3C142.5 71.0 142.6 70.5 142.8 70.2C143.0 70.0 143.3 69.8 143.6 69.8C143.9 69.8 144.2 70.0 144.4 70.2C144.6 70.5 144.7 71.0 144.7 71.3Z"/>
</g></g>
<use href="#bord"/><use href="#coast"/><use href="#thk"/>
</g>
<rect width="216.0" height="122.9" fill="none" stroke="#000" stroke-width="2.5"/>
<text class="l" x="4.6" y="118.6">g) ORCHIDEE_CWRR_WILT</text>
</g>
<g transform="translate(725.2,191.9)">
<use href="#tk"/>
<g clip-path="url(#cp)">
<rect width="216.0" height="122.9" fill="#eeeeee"/>
<use href="#land" fill="#fff"/>
<g clip-path="url(#cl)"><g filter="url(#rag)">
<path fill="#06dc0a" d="M17.8 18.2C20.4 16.9 23.7 18.0 26.7 18.2C29.7 18.4 32.6 19.7 35.6 19.3C38.5 19.0 41.5 17.5 44.5 16.0C47.4 14.5 50.4 10.8 53.4 10.4C56.3 10.1 59.3 12.7 62.2 13.8C65.2 14.9 68.5 17.8 71.1 17.1C73.7 16.4 75.2 11.0 77.8 9.3C80.4 7.7 83.7 6.4 86.7 7.1C89.7 7.8 92.6 12.3 95.6 13.8C98.5 15.2 101.5 15.8 104.5 16.0C107.4 16.2 110.4 14.7 113.4 14.9C116.3 15.1 119.7 18.0 122.2 17.1C124.8 16.2 126.3 11.2 128.9 9.3C131.5 7.5 135.2 5.4 137.8 6.0C140.4 6.5 141.9 10.4 144.5 12.7C147.1 14.9 150.4 16.7 153.4 19.3C156.3 21.9 159.7 26.5 162.2 28.2C164.8 29.9 166.7 29.9 168.9 29.3C171.1 28.8 173.4 26.4 175.6 24.9C177.8 23.4 179.7 21.2 182.2 20.4C184.8 19.7 188.2 20.2 191.1 20.4C194.1 20.6 197.4 23.2 200.0 21.5C202.6 19.9 205.1 12.3 206.7 10.4C208.2 8.6 206.1 10.5 209.4 10.3C212.6 10.1 223.0 9.6 226.2 9.5C229.5 9.3 228.5 8.9 228.9 9.3C229.4 9.7 228.9 -8.5 228.9 12.0C228.9 32.5 228.9 111.7 228.9 132.2C228.9 152.7 229.4 134.4 228.9 134.9C228.5 135.3 240.6 134.9 226.2 134.9C211.8 134.9 157.1 134.9 142.7 134.9C128.4 134.9 140.5 135.3 140.0 134.9C139.6 134.4 140.0 140.6 140.0 132.2C140.0 123.7 140.0 92.7 140.0 84.2C140.0 75.8 140.4 82.2 140.0 81.5C139.6 80.9 140.0 81.5 137.5 80.6C135.0 79.6 127.3 76.8 124.8 75.8C122.2 74.9 123.1 75.0 122.2 74.9C121.4 74.8 125.0 74.6 119.6 75.1C114.1 75.6 94.9 77.4 89.4 78.0C83.9 78.5 87.6 78.1 86.7 78.2C85.8 78.3 88.0 78.1 84.0 78.4C80.0 78.8 66.7 79.9 62.7 80.2C58.7 80.5 60.9 80.6 60.0 80.4C59.2 80.3 60.2 80.5 57.6 79.2C55.0 77.9 47.2 74.0 44.7 72.8C42.1 71.5 42.9 72.1 42.2 71.5C41.5 71.0 43.1 72.5 40.5 69.5C37.8 66.5 28.9 56.6 26.3 53.6C23.6 50.6 25.1 52.2 24.5 51.5C23.8 50.9 24.4 51.5 22.5 49.7C20.6 48.0 15.0 42.9 13.1 41.1C11.2 39.4 11.5 40.1 11.1 39.3C10.8 38.6 11.1 38.4 11.1 36.6C11.1 34.8 11.1 30.5 11.1 28.7C11.1 26.9 10.0 27.7 11.1 26.0C12.2 24.2 15.2 19.5 17.8 18.2Z"/>
<path fill="#04b608" d="M73.4 34.9C73.4 33.1 73.3 34.9 75.9 33.9C78.4 33.0 86.1 30.1 88.6 29.2C91.1 28.2 88.9 28.0 91.1 28.2C93.4 28.4 98.5 29.0 102.2 30.4C105.9 31.9 110.0 36.4 113.4 37.1C116.7 37.8 120.3 35.4 122.2 34.9C124.2 34.4 123.0 34.6 124.8 34.0C126.6 33.4 131.2 31.9 133.0 31.3C134.8 30.7 134.7 30.5 135.6 30.4C136.5 30.3 135.7 30.5 138.3 30.8C140.8 31.1 148.2 32.0 150.7 32.3C153.2 32.6 151.1 31.9 153.4 32.7C155.7 33.5 161.1 35.6 164.5 37.1C167.8 38.6 171.4 40.8 173.4 41.5C175.3 42.3 174.3 41.5 176.1 41.5C177.8 41.5 182.2 41.5 184.0 41.5C185.8 41.5 184.4 40.8 186.7 41.5C189.0 42.3 195.5 45.1 197.8 46.0C200.1 46.9 198.6 46.2 200.4 46.8C202.2 47.4 206.8 49.0 208.6 49.6C210.4 50.2 210.6 49.8 211.1 50.4C211.6 51.0 211.1 50.2 211.6 53.1C212.1 56.0 213.5 64.9 214.0 67.8C214.5 70.7 214.8 69.9 214.5 70.4C214.1 70.9 214.1 70.5 211.8 70.8C209.5 71.1 202.8 72.0 200.5 72.3C198.1 72.6 198.6 72.9 197.8 72.7C197.0 72.4 197.2 72.2 195.7 71.0C194.2 69.8 190.3 66.7 188.8 65.5C187.3 64.3 187.4 64.3 186.7 63.8C186.0 63.2 186.1 63.3 184.6 62.1C183.1 60.9 179.2 57.8 177.7 56.6C176.2 55.4 176.4 55.3 175.6 54.9C174.8 54.5 176.3 55.1 173.0 54.1C169.7 53.1 159.2 50.0 155.9 49.0C152.7 48.0 154.2 48.4 153.4 48.2C152.5 48.0 153.9 48.3 150.7 47.8C147.4 47.3 137.1 45.8 133.8 45.3C130.5 44.8 132.0 45.0 131.1 44.9C130.2 44.8 130.2 44.8 128.4 44.7C126.7 44.5 122.3 44.1 120.5 44.0C118.7 43.8 118.7 43.8 117.8 43.8C116.9 43.8 116.9 43.8 115.1 44.0C113.3 44.1 108.9 44.5 107.2 44.7C105.4 44.8 105.4 44.8 104.5 44.9C103.6 44.9 103.5 44.9 101.8 44.9C100.0 44.9 95.6 44.9 93.8 44.9C92.1 44.9 92.0 44.9 91.1 44.9C90.2 44.9 90.6 44.9 88.4 44.9C86.3 44.9 80.4 44.9 78.3 44.9C76.1 44.9 76.4 46.5 75.6 44.9C74.8 43.2 73.3 36.7 73.4 34.9ZM153.4 103.8C154.2 102.2 153.9 103.7 156.0 103.4C158.2 103.1 164.1 102.2 166.2 101.9C168.4 101.6 168.1 101.8 168.9 101.5C169.8 101.3 169.5 101.2 171.3 100.3C173.1 99.4 178.0 97.0 179.8 96.1C181.6 95.2 180.4 93.6 182.2 94.9C184.1 96.2 188.5 100.8 191.1 103.8C193.7 106.7 197.4 109.7 197.8 112.7C198.2 115.6 194.5 120.1 193.4 121.5C192.2 123.0 196.1 121.5 190.7 121.5C185.2 121.5 166.0 121.5 160.5 121.5C155.0 121.5 159.4 123.0 157.8 121.5C156.2 120.1 151.9 115.6 151.1 112.7C150.4 109.7 152.5 105.3 153.4 103.8Z"/>
<path fill="#ffffff" d="M79.4 26.0C79.4 26.7 78.7 27.7 77.9 28.2C77.1 28.7 75.6 29.1 74.5 29.1C73.3 29.1 71.8 28.7 71.0 28.2C70.2 27.7 69.6 26.7 69.6 26.0C69.6 25.3 70.2 24.3 71.0 23.8C71.8 23.3 73.3 22.9 74.5 22.9C75.6 22.9 77.1 23.3 77.9 23.8C78.7 24.3 79.4 25.3 79.4 26.0ZM48.5 23.8C48.5 24.3 48.0 25.0 47.3 25.3C46.6 25.7 45.4 26.0 44.5 26.0C43.5 26.0 42.3 25.7 41.6 25.3C41.0 25.0 40.5 24.3 40.5 23.8C40.5 23.2 41.0 22.6 41.6 22.2C42.3 21.8 43.5 21.5 44.5 21.5C45.4 21.5 46.6 21.8 47.3 22.2C48.0 22.6 48.5 23.2 48.5 23.8ZM194.2 61.5C194.2 62.1 193.9 62.7 193.3 63.1C192.8 63.5 191.9 63.8 191.1 63.8C190.4 63.8 189.5 63.5 188.9 63.1C188.4 62.7 188.0 62.1 188.0 61.5C188.0 61.0 188.4 60.3 188.9 60.0C189.5 59.6 190.4 59.3 191.1 59.3C191.9 59.3 192.8 59.6 193.3 60.0C193.9 60.3 194.2 61.0 194.2 61.5ZM188.7 83.8C188.7 84.4 188.3 85.2 187.8 85.7C187.3 86.1 186.3 86.4 185.6 86.4C184.8 86.4 183.9 86.1 183.4 85.7C182.9 85.2 182.5 84.4 182.5 83.8C182.5 83.1 182.9 82.3 183.4 81.9C183.9 81.4 184.8 81.1 185.6 81.1C186.3 81.1 187.3 81.4 187.8 81.9C188.3 82.3 188.7 83.1 188.7 83.8ZM193.4 88.2C193.4 88.8 193.1 89.7 192.7 90.1C192.3 90.5 191.7 90.9 191.1 90.9C190.6 90.9 189.9 90.5 189.6 90.1C189.2 89.7 188.9 88.8 188.9 88.2C188.9 87.6 189.2 86.8 189.6 86.3C189.9 85.9 190.6 85.5 191.1 85.5C191.7 85.5 192.3 85.9 192.7 86.3C193.1 86.8 193.4 87.6 193.4 88.2ZM207.8 86.0C207.8 86.6 207.5 87.4 207.1 87.9C206.8 88.3 206.1 88.7 205.6 88.7C205.1 88.7 204.4 88.3 204.0 87.9C203.6 87.4 203.4 86.6 203.4 86.0C203.4 85.4 203.6 84.5 204.0 84.1C204.4 83.7 205.1 83.3 205.6 83.3C206.1 83.3 206.8 83.7 207.1 84.1C207.5 84.5 207.8 85.4 207.8 86.0ZM213.4 103.8C213.4 104.8 213.1 106.2 212.8 106.9C212.5 107.7 212.0 108.2 211.6 108.2C211.2 108.2 210.6 107.7 210.3 106.9C210.0 106.2 209.8 104.8 209.8 103.8C209.8 102.7 210.0 101.4 210.3 100.6C210.6 99.9 211.2 99.3 211.6 99.3C212.0 99.3 212.5 99.9 212.8 100.6C213.1 101.4 213.4 102.7 213.4 103.8ZM163.1 119.3C163.1 119.8 162.5 120.5 161.7 120.9C160.9 121.3 159.4 121.5 158.2 121.5C157.1 121.5 155.6 121.3 154.8 120.9C154.0 120.5 153.4 119.8 153.4 119.3C153.4 118.8 154.0 118.1 154.8 117.8C155.6 117.4 157.1 117.1 158.2 117.1C159.4 117.1 160.9 117.4 161.7 117.8C162.5 118.1 163.1 118.8 163.1 119.3ZM31.1 24.9C31.1 25.3 30.9 25.8 30.5 26.1C30.1 26.4 29.4 26.7 28.9 26.7C28.4 26.7 27.7 26.4 27.3 26.1C27.0 25.8 26.7 25.3 26.7 24.9C26.7 24.5 27.0 23.9 27.3 23.6C27.7 23.3 28.4 23.1 28.9 23.1C29.4 23.1 30.1 23.3 30.5 23.6C30.9 23.9 31.1 24.5 31.1 24.9ZM127.8 16.0C127.8 16.4 127.5 16.9 127.1 17.2C126.8 17.5 126.1 17.8 125.6 17.8C125.1 17.8 124.4 17.5 124.0 17.2C123.6 16.9 123.4 16.4 123.4 16.0C123.4 15.6 123.6 15.0 124.0 14.7C124.4 14.4 125.1 14.2 125.6 14.2C126.1 14.2 126.8 14.4 127.1 14.7C127.5 15.0 127.8 15.6 127.8 16.0Z"/>
<path fill="#00ffff" d="M20.0 37.1C22.2 36.9 27.4 37.6 31.1 37.5C34.8 37.5 38.9 37.2 42.2 36.7C45.6 36.1 48.7 34.4 51.1 34.4C53.5 34.4 55.5 34.9 56.7 36.7C57.9 38.4 57.3 43.0 58.2 44.9C59.2 46.7 60.1 47.3 62.2 47.8C64.4 48.2 68.4 47.5 71.1 47.8C73.9 48.0 76.7 49.6 78.9 49.3C81.1 49.0 81.7 46.7 84.5 46.0C87.2 45.2 92.8 44.7 95.6 44.9C98.4 45.1 99.1 47.5 101.1 47.1C103.2 46.7 105.6 43.0 107.8 42.7C110.0 42.3 112.1 44.9 114.5 44.9C116.9 44.9 119.5 43.2 122.2 42.7C125.0 42.1 128.2 41.4 131.1 41.5C134.1 41.7 137.1 42.8 140.0 43.3C143.0 43.9 145.9 43.9 148.9 44.9C151.9 45.9 154.8 48.2 157.8 49.3C160.8 50.4 163.7 50.8 166.7 51.5C169.7 52.3 173.2 52.7 175.6 53.8C178.0 54.9 180.4 56.7 181.1 58.2C181.9 59.7 179.7 61.4 180.0 62.7C180.4 64.0 183.0 64.1 183.4 66.0C183.7 67.8 183.2 71.7 182.2 73.8C181.3 75.8 179.1 76.5 177.8 78.2C176.5 79.9 175.2 81.7 174.5 83.8C173.7 85.8 174.3 88.6 173.4 90.4C172.4 92.3 169.7 92.7 168.9 94.9C168.2 97.1 170.0 101.5 168.9 103.8C167.8 106.0 164.8 107.8 162.2 108.2C159.7 108.6 155.9 107.5 153.4 106.0C150.8 104.5 147.8 100.9 146.7 99.3C145.6 97.8 146.7 98.8 146.8 96.6C146.8 94.5 147.0 88.6 147.1 86.5C147.1 84.3 147.3 84.6 147.1 83.8C146.9 82.9 146.8 83.2 145.9 81.4C144.9 79.6 142.3 74.6 141.3 72.8C140.3 71.0 140.7 70.9 140.0 70.4C139.4 70.0 139.9 70.4 137.4 70.0C134.8 69.7 127.4 68.5 124.9 68.2C122.4 67.8 123.1 67.9 122.2 67.8C121.4 67.7 121.3 67.7 119.6 67.5C117.8 67.3 113.4 66.9 111.6 66.7C109.8 66.5 110.7 66.3 108.9 66.4C107.2 66.6 102.8 67.4 101.1 67.8C99.4 68.2 100.6 68.0 98.6 68.8C96.6 69.6 91.2 71.9 89.2 72.7C87.2 73.6 87.6 73.6 86.7 73.8C85.8 73.9 86.1 73.7 84.0 73.6C81.9 73.4 76.0 73.0 73.8 72.8C71.7 72.7 73.2 72.1 71.1 72.7C69.0 73.3 64.5 76.7 61.1 76.4C57.8 76.1 54.3 72.9 51.1 70.9C48.0 68.8 44.1 65.6 42.2 64.2C40.4 62.8 41.6 63.7 40.1 62.5C38.6 61.3 34.7 58.2 33.2 57.0C31.7 55.8 32.6 57.1 31.1 55.3C29.7 53.6 26.7 49.2 24.5 46.4C22.2 43.7 18.5 40.2 17.8 38.7C17.1 37.1 17.8 37.3 20.0 37.1ZM203.8 101.5C203.8 102.9 203.2 104.5 202.4 105.5C201.6 106.4 200.1 107.1 198.9 107.1C197.8 107.1 196.3 106.4 195.5 105.5C194.6 104.5 194.0 102.9 194.0 101.5C194.0 100.2 194.6 98.5 195.5 97.6C196.3 96.7 197.8 96.0 198.9 96.0C200.1 96.0 201.6 96.7 202.4 97.6C203.2 98.5 203.8 100.2 203.8 101.5ZM214.5 69.3C214.5 69.8 214.0 70.5 213.5 70.9C212.9 71.3 211.9 71.5 211.1 71.5C210.3 71.5 209.3 71.3 208.8 70.9C208.2 70.5 207.8 69.8 207.8 69.3C207.8 68.8 208.2 68.1 208.8 67.8C209.3 67.4 210.3 67.1 211.1 67.1C211.9 67.1 212.9 67.4 213.5 67.8C214.0 68.1 214.5 68.8 214.5 69.3ZM204.9 73.8C204.9 74.2 204.6 74.7 204.1 75.0C203.7 75.3 202.9 75.5 202.2 75.5C201.6 75.5 200.8 75.3 200.4 75.0C199.9 74.7 199.6 74.2 199.6 73.8C199.6 73.3 199.9 72.8 200.4 72.5C200.8 72.2 201.6 72.0 202.2 72.0C202.9 72.0 203.7 72.2 204.1 72.5C204.6 72.8 204.9 73.3 204.9 73.8ZM193.4 43.8C193.4 44.4 193.1 45.2 192.7 45.7C192.3 46.1 191.7 46.4 191.1 46.4C190.6 46.4 189.9 46.1 189.6 45.7C189.2 45.2 188.9 44.4 188.9 43.8C188.9 43.1 189.2 42.3 189.6 41.9C189.9 41.4 190.6 41.1 191.1 41.1C191.7 41.1 192.3 41.4 192.7 41.9C193.1 42.3 193.4 43.1 193.4 43.8ZM213.4 112.7C213.4 114.0 213.1 115.7 212.7 116.6C212.3 117.5 211.7 118.2 211.1 118.2C210.6 118.2 209.9 117.5 209.6 116.6C209.2 115.7 208.9 114.0 208.9 112.7C208.9 111.3 209.2 109.7 209.6 108.7C209.9 107.8 210.6 107.1 211.1 107.1C211.7 107.1 212.3 107.8 212.7 108.7C213.1 109.7 213.4 111.3 213.4 112.7ZM184.0 98.2C184.0 98.9 183.8 99.9 183.5 100.4C183.2 100.9 182.7 101.3 182.2 101.3C181.8 101.3 181.3 100.9 181.0 100.4C180.7 99.9 180.5 98.9 180.5 98.2C180.5 97.5 180.7 96.5 181.0 96.0C181.3 95.5 181.8 95.1 182.2 95.1C182.7 95.1 183.2 95.5 183.5 96.0C183.8 96.5 184.0 97.5 184.0 98.2ZM200.7 79.3C200.7 79.6 200.5 80.0 200.2 80.3C199.9 80.5 199.3 80.7 198.9 80.7C198.5 80.7 198.0 80.5 197.7 80.3C197.4 80.0 197.1 79.6 197.1 79.3C197.1 79.0 197.4 78.6 197.7 78.4C198.0 78.2 198.5 78.0 198.9 78.0C199.3 78.0 199.9 78.2 200.2 78.4C200.5 78.6 200.7 79.0 200.7 79.3Z"/>
<path fill="#06dc0a" d="M82.0 57.5C82.0 58.6 81.8 59.9 81.4 60.7C81.1 61.4 80.5 62.0 80.0 62.0C79.6 62.0 78.9 61.4 78.6 60.7C78.3 59.9 78.0 58.6 78.0 57.5C78.0 56.5 78.3 55.1 78.6 54.4C78.9 53.7 79.6 53.1 80.0 53.1C80.5 53.1 81.1 53.7 81.4 54.4C81.8 55.1 82.0 56.5 82.0 57.5ZM59.8 68.7C59.8 69.1 59.4 69.6 58.9 69.9C58.4 70.2 57.4 70.4 56.7 70.4C56.0 70.4 55.0 70.2 54.5 69.9C54.0 69.6 53.6 69.1 53.6 68.7C53.6 68.2 54.0 67.7 54.5 67.4C55.0 67.1 56.0 66.9 56.7 66.9C57.4 66.9 58.4 67.1 58.9 67.4C59.4 67.7 59.8 68.2 59.8 68.7ZM162.7 98.2C162.7 98.6 162.4 99.2 161.9 99.5C161.5 99.8 160.7 100.0 160.0 100.0C159.4 100.0 158.6 99.8 158.1 99.5C157.7 99.2 157.4 98.6 157.4 98.2C157.4 97.8 157.7 97.3 158.1 97.0C158.6 96.7 159.4 96.4 160.0 96.4C160.7 96.4 161.5 96.7 161.9 97.0C162.4 97.3 162.7 97.8 162.7 98.2Z"/>
<path fill="#0090ff" d="M24.5 38.9C25.6 37.5 32.6 40.4 36.7 40.4C40.8 40.5 45.9 39.0 48.9 39.3C51.9 39.7 53.2 40.8 54.5 42.7C55.8 44.5 55.4 49.0 56.7 50.4C58.0 51.9 60.2 51.0 62.2 51.5C64.3 52.1 67.1 52.5 68.9 53.8C70.8 55.1 73.0 57.3 73.4 59.3C73.7 61.4 72.6 64.5 71.1 66.0C69.7 67.5 66.3 68.6 64.5 68.2C62.6 67.8 61.7 64.9 60.0 63.8C58.4 62.7 56.5 62.5 54.5 61.5C52.4 60.6 49.5 58.2 47.8 58.2C46.1 58.2 45.9 61.0 44.5 61.5C43.0 62.1 40.6 62.4 38.9 61.5C37.2 60.7 35.9 58.6 34.5 56.4C33.0 54.3 31.7 51.6 30.0 48.7C28.4 45.7 23.4 40.2 24.5 38.9ZM83.4 54.9C84.7 52.7 88.7 52.7 91.1 52.7C93.5 52.7 96.3 53.0 97.8 54.9C99.3 56.7 100.4 61.4 100.0 63.8C99.7 66.2 97.6 68.2 95.6 69.3C93.5 70.4 89.8 71.0 87.8 70.4C85.8 69.9 84.1 68.6 83.4 66.0C82.6 63.4 82.1 57.1 83.4 54.9ZM101.1 50.4C102.4 49.1 106.1 46.0 108.9 44.9C111.7 43.8 114.8 43.8 117.8 43.8C120.8 43.8 123.7 44.9 126.7 44.9C129.7 44.9 133.0 43.5 135.6 43.8C138.2 44.0 140.4 45.0 142.2 46.4C144.1 47.9 144.8 51.2 146.7 52.7C148.5 54.1 150.8 54.9 153.4 55.3C155.9 55.8 159.3 55.3 162.2 55.3C165.2 55.3 168.5 54.5 171.1 55.3C173.7 56.2 175.9 58.3 177.8 60.4C179.7 62.6 182.1 65.8 182.2 68.2C182.4 70.6 180.4 73.2 178.9 74.9C177.4 76.5 175.0 76.4 173.4 78.2C171.7 80.1 170.9 84.7 168.9 86.0C166.9 87.3 163.7 86.7 161.1 86.0C158.5 85.2 155.4 81.9 153.4 81.5C151.3 81.2 149.8 83.8 148.9 83.8C148.0 83.7 148.7 83.0 148.1 81.2C147.5 79.4 145.9 74.8 145.3 73.0C144.7 71.2 146.1 71.4 144.5 70.4C142.8 69.5 137.5 67.7 135.6 67.1C133.6 66.5 134.7 67.1 132.9 67.0C131.1 66.9 126.7 66.7 124.9 66.6C123.2 66.5 123.1 66.5 122.2 66.4C121.3 66.4 121.3 66.3 119.6 66.1C117.8 65.9 113.4 65.4 111.6 65.2C109.8 65.0 110.7 65.1 108.9 64.9C107.2 64.6 102.4 64.4 101.1 63.8C99.8 63.1 101.1 62.8 101.1 61.1C101.1 59.3 101.1 54.9 101.1 53.1C101.1 51.4 99.8 51.8 101.1 50.4ZM202.5 106.0C202.5 106.4 202.3 106.9 202.1 107.2C201.9 107.5 201.4 107.8 201.1 107.8C200.8 107.8 200.4 107.5 200.2 107.2C200.0 106.9 199.8 106.4 199.8 106.0C199.8 105.6 200.0 105.0 200.2 104.7C200.4 104.4 200.8 104.2 201.1 104.2C201.4 104.2 201.9 104.4 202.1 104.7C202.3 105.0 202.5 105.6 202.5 106.0Z"/>
<path fill="#0000ff" d="M28.9 41.5C29.8 40.5 34.1 42.5 36.7 43.3C39.3 44.1 42.4 45.2 44.5 46.4C46.6 47.6 48.2 49.0 49.4 50.4C50.5 51.9 51.6 54.5 51.1 55.3C50.7 56.1 48.0 54.7 46.7 55.3C45.4 55.9 44.7 58.0 43.4 58.9C42.1 59.8 40.2 61.0 38.9 60.7C37.6 60.3 36.8 58.5 35.6 56.7C34.4 54.8 32.7 51.8 31.6 49.3C30.5 46.8 28.1 42.5 28.9 41.5ZM122.2 55.3C123.0 53.5 126.3 51.6 128.9 50.4C131.5 49.2 135.2 47.8 137.8 48.2C140.4 48.6 142.2 51.2 144.5 52.7C146.7 54.1 149.7 55.2 151.1 56.7C152.6 58.1 154.8 60.0 153.4 61.1C151.9 62.2 145.9 63.0 142.2 63.3C138.5 63.7 134.1 63.6 131.1 63.3C128.2 63.0 125.9 62.9 124.5 61.5C123.0 60.2 121.5 57.2 122.2 55.3ZM162.2 61.5C163.4 59.9 168.9 60.4 171.1 61.5C173.4 62.7 175.6 66.4 175.6 68.2C175.6 70.1 173.0 72.1 171.1 72.7C169.3 73.2 165.9 73.4 164.5 71.5C163.0 69.7 161.1 63.2 162.2 61.5ZM92.9 63.8C92.9 64.3 92.7 65.0 92.4 65.3C92.1 65.7 91.6 66.0 91.1 66.0C90.7 66.0 90.2 65.7 89.9 65.3C89.6 65.0 89.4 64.3 89.4 63.8C89.4 63.2 89.6 62.6 89.9 62.2C90.2 61.8 90.7 61.5 91.1 61.5C91.6 61.5 92.1 61.8 92.4 62.2C92.7 62.6 92.9 63.2 92.9 63.8Z"/>
<path fill="#0000b0" d="M44.0 52.7C44.0 53.2 43.5 53.9 42.9 54.2C42.2 54.6 41.0 54.9 40.0 54.9C39.1 54.9 37.9 54.6 37.2 54.2C36.5 53.9 36.0 53.2 36.0 52.7C36.0 52.1 36.5 51.5 37.2 51.1C37.9 50.7 39.1 50.4 40.0 50.4C41.0 50.4 42.2 50.7 42.9 51.1C43.5 51.5 44.0 52.1 44.0 52.7ZM35.6 44.9C35.6 45.2 35.3 45.6 34.9 45.8C34.6 46.0 33.9 46.2 33.4 46.2C32.8 46.2 32.2 46.0 31.8 45.8C31.4 45.6 31.1 45.2 31.1 44.9C31.1 44.6 31.4 44.2 31.8 43.9C32.2 43.7 32.8 43.5 33.4 43.5C33.9 43.5 34.6 43.7 34.9 43.9C35.3 44.2 35.6 44.6 35.6 44.9ZM131.1 53.8C132.1 52.3 135.8 50.2 137.8 50.4C139.8 50.7 142.2 53.7 143.4 55.3C144.5 57.0 145.4 59.3 144.5 60.4C143.5 61.5 139.8 62.2 137.8 62.0C135.8 61.8 133.4 60.7 132.2 59.3C131.1 58.0 130.2 55.2 131.1 53.8Z"/>
<path fill="#ffff00" d="M32.6 46.4C32.3 46.8 31.7 47.0 31.2 47.0C30.7 46.9 30.0 46.6 29.5 46.2C29.1 45.9 28.7 45.2 28.6 44.7C28.4 44.2 28.5 43.6 28.8 43.3C29.1 43.0 29.7 42.8 30.2 42.8C30.7 42.8 31.4 43.1 31.8 43.5C32.3 43.9 32.7 44.5 32.8 45.0C32.9 45.5 32.8 46.1 32.6 46.4ZM39.8 55.5C39.8 56.0 39.6 56.6 39.4 57.0C39.2 57.3 38.8 57.5 38.5 57.5C38.2 57.5 37.7 57.3 37.5 57.0C37.3 56.6 37.1 56.0 37.1 55.5C37.1 55.1 37.3 54.5 37.5 54.1C37.7 53.8 38.2 53.5 38.5 53.5C38.8 53.5 39.2 53.8 39.4 54.1C39.6 54.5 39.8 55.1 39.8 55.5ZM139.4 53.8C139.4 54.5 139.2 55.4 139.1 56.0C138.9 56.5 138.7 56.9 138.5 56.9C138.3 56.9 138.0 56.5 137.8 56.0C137.7 55.4 137.6 54.5 137.6 53.8C137.6 53.0 137.7 52.1 137.8 51.6C138.0 51.0 138.3 50.7 138.5 50.7C138.7 50.7 138.9 51.0 139.1 51.6C139.2 52.1 139.4 53.0 139.4 53.8ZM122.2 67.8C123.0 66.4 128.2 67.1 131.1 66.4C134.1 65.8 137.1 64.8 140.0 63.8C143.0 62.8 145.9 61.4 148.9 60.4C151.9 59.5 155.2 58.7 157.8 58.2C160.4 57.7 162.8 56.6 164.5 57.5C166.1 58.5 167.6 61.8 167.8 63.8C168.0 65.7 167.2 68.2 165.6 69.3C163.9 70.4 160.0 70.6 157.8 70.4C155.6 70.2 153.5 67.7 152.2 68.2C150.9 68.8 150.3 71.6 150.0 73.8C149.8 75.9 151.2 80.1 150.7 81.1C150.1 82.1 148.1 80.6 146.7 79.8C145.3 78.9 144.3 76.7 142.2 76.0C140.2 75.2 137.1 75.6 134.5 75.3C131.9 75.1 128.7 75.7 126.7 74.4C124.7 73.2 121.5 69.1 122.2 67.8Z"/>
<path fill="#ffa000" d="M125.6 68.7C126.1 67.7 130.6 68.4 133.4 67.8C136.1 67.1 139.3 65.8 142.2 64.9C145.2 63.9 149.1 62.2 151.1 62.0C153.2 61.8 154.5 62.8 154.5 63.8C154.5 64.7 151.9 66.1 151.1 67.8C150.4 69.4 150.1 71.9 149.8 73.8C149.5 75.6 150.2 78.6 149.4 78.9C148.5 79.1 146.4 76.1 144.5 75.3C142.5 74.6 140.2 74.7 137.8 74.4C135.4 74.2 132.1 74.7 130.0 73.8C128.0 72.8 125.0 69.7 125.6 68.7Z"/>
<path fill="#ff0000" d="M128.9 70.0C129.9 69.2 134.1 69.2 136.7 68.7C139.3 68.1 142.1 67.1 144.5 66.4C146.8 65.8 149.6 64.7 150.7 64.9C151.8 65.1 151.4 66.5 151.1 67.8C150.8 69.1 149.4 71.0 148.9 72.7C148.5 74.3 149.4 77.2 148.5 77.5C147.5 77.9 145.3 75.5 143.4 74.9C141.4 74.2 138.8 74.1 136.7 73.8C134.6 73.5 132.0 73.7 130.7 73.1C129.4 72.5 127.9 70.7 128.9 70.0Z"/>
<path fill="#a00000" d="M143.4 69.3C143.9 68.3 147.2 67.0 147.8 67.8C148.4 68.5 147.7 72.8 147.1 73.8C146.6 74.8 145.1 74.5 144.5 73.8C143.8 73.0 142.8 70.3 143.4 69.3Z"/>
</g></g>
<use href="#bord"/><use href="#coast"/><use href="#thk"/>
</g>
<rect width="216.0" height="122.9" fill="none" stroke="#000" stroke-width="2.5"/>
<text class="l" x="4.6" y="118.6">h) SETHYS</text>
</g>
<g transform="translate(44.9,326.3)">
<use href="#tk"/>
<g clip-path="url(#cp)">
<rect width="216.0" height="122.9" fill="#eeeeee"/>
<use href="#land" fill="#fff"/>
<g clip-path="url(#cl)"><g filter="url(#rag)">
<path fill="#000000" d="M-13.0 -14.4C-12.6 -14.9 -50.2 -14.4 -10.3 -14.4C29.6 -14.4 186.6 -14.4 226.5 -14.4C266.4 -14.4 228.8 -14.9 229.2 -14.4C229.7 -14.0 229.2 -23.5 229.2 -11.7C229.2 0.1 229.2 44.4 229.2 56.2C229.2 68.0 229.7 58.5 229.2 58.9C228.8 59.4 231.2 59.0 226.5 58.8C221.8 58.7 205.5 58.1 200.8 57.9C196.1 57.7 199.0 57.7 198.1 57.8C197.2 57.9 197.3 58.1 195.5 58.7C193.7 59.3 189.1 60.8 187.3 61.4C185.5 62.0 185.6 62.1 184.8 62.3C183.9 62.4 186.8 62.2 182.1 62.4C177.3 62.5 161.1 63.1 156.4 63.3C151.6 63.4 154.6 63.4 153.7 63.4C152.8 63.4 157.9 63.4 151.0 63.4C144.0 63.4 118.9 63.4 111.9 63.4C105.0 63.4 110.1 63.3 109.2 63.4C108.3 63.4 111.6 63.0 106.5 63.7C101.4 64.4 83.7 66.8 78.6 67.5C73.4 68.1 76.8 67.8 75.9 67.8C75.0 67.8 78.3 68.1 73.2 67.5C68.1 66.8 50.3 64.4 45.2 63.7C40.1 63.0 43.4 63.6 42.5 63.4C41.7 63.1 48.9 65.9 40.0 62.4C31.2 58.8 -1.7 45.7 -10.5 42.1C-19.3 38.6 -12.6 41.8 -13.0 41.1C-13.4 40.5 -13.0 47.3 -13.0 38.4C-13.0 29.6 -13.0 -2.9 -13.0 -11.7C-13.0 -20.5 -13.5 -14.0 -13.0 -14.4Z"/>
<path fill="#ffffff" d="M130.3 13.4C130.3 13.8 129.9 14.4 129.3 14.8C128.8 15.1 127.8 15.4 127.0 15.4C126.2 15.4 125.2 15.1 124.6 14.8C124.1 14.4 123.7 13.8 123.7 13.4C123.7 12.9 124.1 12.3 124.6 12.0C125.2 11.6 126.2 11.4 127.0 11.4C127.8 11.4 128.8 11.6 129.3 12.0C129.9 12.3 130.3 12.9 130.3 13.4ZM74.1 6.7C74.1 7.3 73.9 8.1 73.6 8.6C73.4 9.0 72.9 9.4 72.5 9.4C72.2 9.4 71.7 9.0 71.4 8.6C71.2 8.1 71.0 7.3 71.0 6.7C71.0 6.1 71.2 5.3 71.4 4.8C71.7 4.4 72.2 4.0 72.5 4.0C72.9 4.0 73.4 4.4 73.6 4.8C73.9 5.3 74.1 6.1 74.1 6.7ZM45.0 12.7C45.0 13.0 44.8 13.4 44.6 13.6C44.4 13.9 44.0 14.0 43.7 14.0C43.3 14.0 42.9 13.9 42.7 13.6C42.5 13.4 42.3 13.0 42.3 12.7C42.3 12.4 42.5 12.0 42.7 11.8C42.9 11.5 43.3 11.4 43.7 11.4C44.0 11.4 44.4 11.5 44.6 11.8C44.8 12.0 45.0 12.4 45.0 12.7ZM172.5 24.5C172.5 25.0 172.3 25.7 171.9 26.0C171.5 26.4 170.8 26.7 170.3 26.7C169.8 26.7 169.1 26.4 168.8 26.0C168.4 25.7 168.1 25.0 168.1 24.5C168.1 24.0 168.4 23.3 168.8 22.9C169.1 22.5 169.8 22.3 170.3 22.3C170.8 22.3 171.5 22.5 171.9 22.9C172.3 23.3 172.5 24.0 172.5 24.5ZM154.1 1.6C154.1 1.8 153.8 2.1 153.3 2.2C152.9 2.4 152.1 2.5 151.4 2.5C150.8 2.5 150.0 2.4 149.5 2.2C149.1 2.1 148.8 1.8 148.8 1.6C148.8 1.4 149.1 1.1 149.5 1.0C150.0 0.8 150.8 0.7 151.4 0.7C152.1 0.7 152.9 0.8 153.3 1.0C153.8 1.1 154.1 1.4 154.1 1.6ZM72.3 26.7C72.3 26.9 72.2 27.2 72.1 27.3C71.9 27.5 71.6 27.6 71.4 27.6C71.2 27.6 71.0 27.5 70.8 27.3C70.7 27.2 70.5 26.9 70.5 26.7C70.5 26.5 70.7 26.2 70.8 26.1C71.0 25.9 71.2 25.8 71.4 25.8C71.6 25.8 71.9 25.9 72.1 26.1C72.2 26.2 72.3 26.5 72.3 26.7ZM42.3 18.9C42.3 19.1 42.2 19.4 42.1 19.6C41.9 19.7 41.6 19.8 41.4 19.8C41.2 19.8 41.0 19.7 40.8 19.6C40.7 19.4 40.5 19.1 40.5 18.9C40.5 18.7 40.7 18.4 40.8 18.3C41.0 18.1 41.2 18.0 41.4 18.0C41.6 18.0 41.9 18.1 42.1 18.3C42.2 18.4 42.3 18.7 42.3 18.9ZM124.3 14.5C124.3 14.8 124.1 15.2 123.8 15.4C123.5 15.6 123.0 15.8 122.5 15.8C122.1 15.8 121.6 15.6 121.3 15.4C121.0 15.2 120.8 14.8 120.8 14.5C120.8 14.2 121.0 13.8 121.3 13.5C121.6 13.3 122.1 13.1 122.5 13.1C123.0 13.1 123.5 13.3 123.8 13.5C124.1 13.8 124.3 14.2 124.3 14.5Z"/>
<path fill="#06dc0a" d="M14.8 21.1C16.2 19.8 18.3 17.4 20.3 17.8C22.4 18.2 25.1 21.3 27.0 23.4C28.8 25.4 30.0 28.2 31.4 30.0C32.9 31.9 33.7 33.4 35.9 34.5C38.1 35.6 42.4 37.1 44.8 36.7C47.2 36.3 49.2 34.1 50.3 32.3C51.4 30.4 50.1 27.4 51.4 25.6C52.7 23.8 55.9 22.0 58.1 21.6C60.3 21.2 63.3 22.0 64.8 23.4C66.2 24.8 67.4 27.8 67.0 30.0C66.6 32.3 64.0 35.0 62.5 36.7C61.1 38.4 58.1 38.7 58.1 40.0C58.1 41.3 60.3 43.7 62.5 44.5C64.8 45.2 68.8 44.1 71.4 44.5C74.0 44.8 76.4 47.4 78.1 46.7C79.8 46.0 80.5 42.8 81.4 40.0C82.4 37.3 83.7 33.2 83.7 30.0C83.7 26.9 81.1 23.4 81.4 21.1C81.8 18.9 84.2 16.7 85.9 16.7C87.5 16.7 89.8 19.3 91.4 21.1C93.1 23.0 95.0 25.6 95.9 27.8C96.8 30.0 96.4 32.3 97.0 34.5C97.5 36.7 97.9 40.4 99.2 41.1C100.5 41.9 103.1 40.0 104.8 38.9C106.4 37.8 107.7 34.5 109.2 34.5C110.7 34.5 112.2 39.3 113.7 38.9C115.1 38.6 118.1 34.5 118.1 32.3C118.1 30.0 115.9 26.9 113.7 25.6C111.4 24.3 107.4 25.4 104.8 24.5C102.2 23.6 98.5 21.5 98.1 20.0C97.7 18.6 100.7 16.1 102.5 15.6C104.4 15.0 107.0 15.8 109.2 16.7C111.4 17.6 113.7 21.0 115.9 21.1C118.1 21.3 120.0 18.0 122.5 17.8C125.1 17.6 128.5 19.8 131.4 20.0C134.4 20.2 137.7 18.6 140.3 18.9C142.9 19.3 144.8 21.1 147.0 22.3C149.2 23.4 152.0 24.3 153.7 25.6C155.3 26.9 155.5 28.7 157.0 30.0C158.5 31.3 160.9 32.3 162.5 33.4C164.2 34.5 165.1 34.8 167.0 36.7C168.8 38.6 171.1 42.3 173.7 44.5C176.2 46.7 179.6 48.6 182.5 50.0C185.5 51.5 188.8 53.0 191.4 53.4C194.0 53.7 195.5 53.4 198.1 52.3C200.7 51.1 205.1 47.7 207.0 46.7C208.9 45.7 206.4 46.8 209.7 46.4C212.9 46.1 223.3 45.1 226.5 44.7C229.8 44.4 228.8 44.1 229.2 44.5C229.7 44.9 229.2 32.6 229.2 47.2C229.2 61.7 229.2 117.2 229.2 131.8C229.2 146.3 229.7 134.0 229.2 134.5C228.8 134.9 240.9 134.5 226.5 134.5C212.1 134.5 157.4 134.5 143.0 134.5C128.7 134.5 140.8 134.9 140.3 134.5C139.9 134.0 140.3 140.2 140.3 131.8C140.3 123.3 140.3 92.3 140.3 83.8C140.3 75.4 140.7 81.8 140.3 81.1C139.9 80.5 140.3 81.1 137.8 80.2C135.3 79.2 127.6 76.4 125.1 75.4C122.5 74.5 123.4 74.6 122.5 74.5C121.7 74.4 125.3 74.2 119.9 74.7C114.4 75.2 95.2 77.0 89.7 77.6C84.2 78.1 87.9 77.7 87.0 77.8C86.1 77.9 88.3 77.7 84.3 78.0C80.3 78.4 67.0 79.5 63.0 79.8C59.0 80.1 61.2 80.2 60.3 80.0C59.5 79.9 60.5 80.1 57.9 78.8C55.3 77.5 47.5 73.6 45.0 72.4C42.4 71.1 43.2 71.7 42.5 71.1C41.8 70.6 43.4 72.1 40.8 69.1C38.1 66.1 29.2 56.2 26.6 53.2C23.9 50.2 25.4 51.8 24.8 51.1C24.1 50.5 24.7 51.1 22.8 49.3C20.9 47.6 15.3 42.5 13.4 40.7C11.5 39.0 11.8 39.7 11.4 38.9C11.1 38.2 11.4 38.0 11.4 36.2C11.4 34.4 11.4 30.1 11.4 28.3C11.4 26.5 10.9 26.8 11.4 25.6C12.0 24.4 13.3 22.4 14.8 21.1ZM52.5 10.0C52.9 8.4 55.7 8.2 57.0 8.9C58.3 9.7 60.0 12.6 60.3 14.5C60.7 16.3 60.1 19.3 59.2 20.0C58.3 20.8 55.9 20.6 54.8 18.9C53.7 17.3 52.2 11.7 52.5 10.0ZM74.8 14.5C75.3 12.4 79.2 9.1 81.4 7.8C83.7 6.5 86.4 6.0 88.1 6.7C89.8 7.4 91.8 10.4 91.4 12.3C91.1 14.1 88.1 16.5 85.9 17.8C83.7 19.1 80.0 20.6 78.1 20.0C76.2 19.5 74.2 16.5 74.8 14.5ZM135.4 11.1C135.4 11.8 135.2 12.6 134.9 13.0C134.6 13.5 134.1 13.8 133.7 13.8C133.2 13.8 132.7 13.5 132.4 13.0C132.1 12.6 131.9 11.8 131.9 11.1C131.9 10.5 132.1 9.7 132.4 9.3C132.7 8.8 133.2 8.5 133.7 8.5C134.1 8.5 134.6 8.8 134.9 9.3C135.2 9.7 135.4 10.5 135.4 11.1ZM169.2 26.7C170.0 24.5 173.7 24.1 175.9 23.4C178.1 22.6 180.7 21.5 182.5 22.3C184.4 23.0 186.6 25.8 187.0 27.8C187.4 29.8 185.9 32.3 184.8 34.5C183.7 36.7 182.0 39.5 180.3 41.1C178.7 42.8 176.2 45.2 174.8 44.5C173.3 43.7 172.4 39.7 171.4 36.7C170.5 33.7 168.5 28.9 169.2 26.7ZM198.8 31.1C198.8 31.6 198.3 32.1 197.6 32.4C196.9 32.7 195.7 32.9 194.8 32.9C193.8 32.9 192.6 32.7 191.9 32.4C191.3 32.1 190.8 31.6 190.8 31.1C190.8 30.7 191.3 30.2 191.9 29.9C192.6 29.6 193.8 29.4 194.8 29.4C195.7 29.4 196.9 29.6 197.6 29.9C198.3 30.2 198.8 30.7 198.8 31.1ZM195.4 43.4C195.4 44.2 194.9 45.2 194.3 45.7C193.6 46.3 192.4 46.7 191.4 46.7C190.5 46.7 189.3 46.3 188.6 45.7C187.9 45.2 187.4 44.2 187.4 43.4C187.4 42.6 187.9 41.6 188.6 41.0C189.3 40.5 190.5 40.0 191.4 40.0C192.4 40.0 193.6 40.5 194.3 41.0C194.9 41.6 195.4 42.6 195.4 43.4ZM207.0 40.0C207.0 40.5 206.6 41.0 206.0 41.3C205.5 41.6 204.4 41.8 203.7 41.8C202.9 41.8 201.9 41.6 201.3 41.3C200.7 41.0 200.3 40.5 200.3 40.0C200.3 39.6 200.7 39.1 201.3 38.8C201.9 38.5 202.9 38.3 203.7 38.3C204.4 38.3 205.5 38.5 206.0 38.8C206.6 39.1 207.0 39.6 207.0 40.0ZM175.9 7.8C175.9 8.1 175.7 8.4 175.6 8.6C175.4 8.8 175.0 8.9 174.8 8.9C174.5 8.9 174.2 8.8 174.0 8.6C173.8 8.4 173.7 8.1 173.7 7.8C173.7 7.5 173.8 7.2 174.0 7.0C174.2 6.8 174.5 6.7 174.8 6.7C175.0 6.7 175.4 6.8 175.6 7.0C175.7 7.2 175.9 7.5 175.9 7.8ZM68.8 16.7C68.8 17.2 68.5 17.9 68.2 18.3C67.9 18.6 67.4 18.9 67.0 18.9C66.6 18.9 66.0 18.6 65.7 18.3C65.4 17.9 65.2 17.2 65.2 16.7C65.2 16.2 65.4 15.5 65.7 15.1C66.0 14.8 66.6 14.5 67.0 14.5C67.4 14.5 67.9 14.8 68.2 15.1C68.5 15.5 68.8 16.2 68.8 16.7Z"/>
<path fill="#000000" d="M81.4 36.7C81.4 37.9 80.3 39.3 78.8 40.2C77.3 41.0 74.6 41.6 72.5 41.6C70.4 41.6 67.7 41.0 66.3 40.2C64.8 39.3 63.7 37.9 63.7 36.7C63.7 35.5 64.8 34.1 66.3 33.2C67.7 32.4 70.4 31.8 72.5 31.8C74.6 31.8 77.3 32.4 78.8 33.2C80.3 34.1 81.4 35.5 81.4 36.7ZM113.4 40.0C113.4 41.0 112.8 42.2 112.0 42.9C111.2 43.5 109.7 44.0 108.5 44.0C107.4 44.0 105.9 43.5 105.1 42.9C104.3 42.2 103.7 41.0 103.7 40.0C103.7 39.1 104.3 37.9 105.1 37.2C105.9 36.5 107.4 36.0 108.5 36.0C109.7 36.0 111.2 36.5 112.0 37.2C112.8 37.9 113.4 39.1 113.4 40.0ZM92.1 52.7C92.1 53.7 91.7 55.1 91.3 55.8C90.8 56.6 89.9 57.1 89.2 57.1C88.5 57.1 87.6 56.6 87.2 55.8C86.7 55.1 86.3 53.7 86.3 52.7C86.3 51.7 86.7 50.3 87.2 49.6C87.6 48.8 88.5 48.3 89.2 48.3C89.9 48.3 90.8 48.8 91.3 49.6C91.7 50.3 92.1 51.7 92.1 52.7ZM103.4 35.6C103.4 36.1 103.1 36.8 102.7 37.2C102.2 37.5 101.4 37.8 100.8 37.8C100.1 37.8 99.3 37.5 98.9 37.2C98.4 36.8 98.1 36.1 98.1 35.6C98.1 35.1 98.4 34.4 98.9 34.0C99.3 33.6 100.1 33.4 100.8 33.4C101.4 33.4 102.2 33.6 102.7 34.0C103.1 34.4 103.4 35.1 103.4 35.6Z"/>
<path fill="#04b608" d="M153.7 94.5C154.1 94.0 154.5 94.3 156.3 94.0C158.1 93.7 162.5 93.0 164.3 92.7C166.1 92.4 165.4 90.8 167.0 92.3C168.5 93.7 173.7 97.8 173.7 101.1C173.7 104.5 168.5 110.5 167.0 112.3C165.5 114.0 166.2 112.0 164.4 111.4C162.6 110.8 158.0 109.3 156.2 108.7C154.4 108.1 154.1 108.4 153.7 107.8C153.2 107.2 153.7 106.9 153.7 105.1C153.7 103.3 153.7 98.9 153.7 97.2C153.7 95.4 153.2 95.0 153.7 94.5ZM189.2 52.3C191.1 51.1 197.4 52.6 198.1 54.5C198.8 56.3 195.5 62.3 193.7 63.4C191.8 64.5 187.7 63.0 187.0 61.1C186.2 59.3 187.4 53.4 189.2 52.3ZM87.0 25.6C88.5 25.2 92.7 27.4 93.7 30.0C94.6 32.6 93.7 39.1 92.5 41.1C91.4 43.2 88.3 43.7 87.0 42.3C85.7 40.8 84.8 35.0 84.8 32.3C84.8 29.5 85.5 26.0 87.0 25.6Z"/>
<path fill="#ffffff" d="M163.4 118.5C163.4 119.0 162.8 119.7 162.0 120.0C161.2 120.4 159.7 120.7 158.5 120.7C157.4 120.7 155.9 120.4 155.1 120.0C154.3 119.7 153.7 119.0 153.7 118.5C153.7 118.0 154.3 117.3 155.1 116.9C155.9 116.5 157.4 116.3 158.5 116.3C159.7 116.3 161.2 116.5 162.0 116.9C162.8 117.3 163.4 118.0 163.4 118.5ZM123.9 40.0C123.9 40.5 123.7 41.0 123.5 41.3C123.3 41.6 122.9 41.8 122.5 41.8C122.2 41.8 121.8 41.6 121.6 41.3C121.4 41.0 121.2 40.5 121.2 40.0C121.2 39.6 121.4 39.1 121.6 38.8C121.8 38.5 122.2 38.3 122.5 38.3C122.9 38.3 123.3 38.5 123.5 38.8C123.7 39.1 123.9 39.6 123.9 40.0ZM130.3 37.8C130.3 38.1 130.2 38.4 130.0 38.6C129.8 38.8 129.5 38.9 129.2 38.9C128.9 38.9 128.6 38.8 128.4 38.6C128.2 38.4 128.1 38.1 128.1 37.8C128.1 37.5 128.2 37.2 128.4 37.0C128.6 36.8 128.9 36.7 129.2 36.7C129.5 36.7 129.8 36.8 130.0 37.0C130.2 37.2 130.3 37.5 130.3 37.8Z"/>
<path fill="#00ffff" d="M21.4 37.1C23.7 37.1 27.9 38.0 31.4 38.0C35.0 38.0 39.2 37.0 42.5 37.1C45.9 37.3 49.1 38.3 51.4 38.9C53.7 39.6 55.2 39.8 56.3 41.1C57.4 42.4 56.7 45.4 58.1 46.7C59.5 48.0 62.2 48.4 64.8 48.9C67.4 49.5 71.1 49.5 73.7 50.0C76.2 50.6 78.5 50.4 80.3 52.3C82.2 54.1 82.9 59.7 84.8 61.1C86.6 62.6 89.2 61.9 91.4 61.1C93.7 60.4 96.4 58.6 98.1 56.7C99.8 54.8 99.6 51.3 101.4 50.0C103.3 48.7 106.8 49.5 109.2 48.9C111.6 48.4 114.2 48.4 115.9 46.7C117.5 45.0 118.1 41.3 119.2 38.9C120.3 36.5 120.5 33.7 122.5 32.3C124.6 30.8 128.1 30.4 131.4 30.0C134.8 29.7 138.8 29.5 142.5 30.0C146.2 30.6 150.5 31.9 153.7 33.4C156.8 34.8 159.6 37.1 161.4 38.9C163.3 40.8 163.5 42.6 164.8 44.5C166.1 46.3 167.4 48.6 169.2 50.0C171.1 51.5 173.7 51.9 175.9 53.4C178.1 54.8 180.3 57.6 182.5 58.9C184.8 60.2 188.5 59.3 189.2 61.1C190.0 63.0 188.1 67.1 187.0 70.0C185.9 73.0 184.0 76.5 182.5 78.9C181.1 81.3 179.2 82.3 178.1 84.5C177.0 86.7 175.1 89.5 175.9 92.3C176.6 95.0 182.2 98.9 182.5 101.1C182.9 103.4 180.0 106.0 178.1 105.6C176.2 105.2 174.0 101.5 171.4 98.9C168.8 96.3 165.9 91.1 162.5 90.0C159.2 88.9 154.0 93.4 151.4 92.3C148.9 91.1 148.3 85.2 147.4 83.4C146.6 81.5 147.1 82.8 146.2 81.0C145.2 79.2 142.6 74.2 141.6 72.4C140.6 70.6 141.0 70.5 140.3 70.0C139.7 69.6 140.2 70.0 137.7 69.6C135.1 69.3 127.7 68.1 125.2 67.8C122.7 67.4 123.4 67.5 122.5 67.4C121.7 67.3 121.6 67.3 119.9 67.1C118.1 66.9 113.7 66.5 111.9 66.3C110.1 66.1 111.0 65.9 109.2 66.0C107.5 66.2 103.1 67.0 101.4 67.4C99.7 67.8 100.9 67.6 98.9 68.4C96.9 69.2 91.5 71.5 89.5 72.3C87.5 73.2 87.9 73.2 87.0 73.4C86.1 73.5 86.4 73.3 84.3 73.2C82.2 73.0 76.3 72.6 74.1 72.4C72.0 72.3 73.5 71.7 71.4 72.3C69.3 72.9 64.8 76.3 61.4 76.0C58.1 75.7 54.6 72.5 51.4 70.5C48.3 68.4 44.4 65.2 42.5 63.8C40.7 62.4 41.9 63.3 40.4 62.1C38.9 60.9 35.0 57.8 33.5 56.6C32.0 55.4 32.9 56.7 31.4 54.9C30.0 53.2 27.0 48.8 24.8 46.0C22.5 43.3 18.7 39.7 18.1 38.3C17.5 36.8 19.2 37.2 21.4 37.1ZM195.9 61.1C196.2 58.9 201.0 56.5 202.5 55.6C204.1 54.6 201.2 55.6 205.2 55.5C209.2 55.3 222.5 54.8 226.5 54.6C230.5 54.4 228.8 54.0 229.2 54.5C229.7 54.9 229.2 54.8 229.2 57.2C229.2 59.5 229.2 66.1 229.2 68.4C229.2 70.8 229.7 70.7 229.2 71.1C228.8 71.6 229.4 71.2 226.5 71.0C223.6 70.8 214.8 70.3 211.9 70.2C209.0 70.0 211.1 70.2 209.2 70.0C207.3 69.8 202.5 70.4 200.3 68.9C198.1 67.4 195.5 63.4 195.9 61.1ZM193.7 82.3C194.8 80.8 200.6 79.5 202.5 78.9C204.5 78.4 201.2 78.9 205.2 79.0C209.2 79.2 222.5 79.8 226.5 79.9C230.5 80.1 228.8 79.1 229.2 80.0C229.7 81.0 229.7 84.7 229.2 85.6C228.8 86.5 230.1 85.6 226.5 85.6C222.9 85.6 211.1 85.6 207.5 85.6C203.8 85.6 206.7 85.2 204.8 85.6C202.8 86.0 197.7 88.4 195.9 87.8C194.0 87.3 192.5 83.7 193.7 82.3ZM187.0 95.6C189.0 93.7 194.4 92.4 198.1 92.3C201.8 92.1 206.9 94.0 209.2 94.5C211.5 94.9 209.0 94.4 211.8 95.1C214.7 95.7 223.7 97.7 226.6 98.3C229.5 99.0 228.8 98.4 229.2 98.9C229.7 99.5 229.2 96.1 229.2 101.6C229.2 107.1 229.2 126.3 229.2 131.8C229.2 137.3 229.7 134.0 229.2 134.5C228.8 134.9 231.2 134.5 226.5 134.5C221.8 134.5 205.5 134.5 200.8 134.5C196.1 134.5 198.7 134.9 198.1 134.5C197.5 134.0 198.3 135.2 197.3 131.9C196.3 128.6 193.2 118.1 192.2 114.8C191.2 111.6 192.5 114.2 191.4 112.3C190.4 110.3 186.6 106.1 185.9 103.4C185.1 100.6 185.0 97.4 187.0 95.6Z"/>
<path fill="#06dc0a" d="M83.7 60.0C83.7 61.0 83.4 62.2 83.0 62.9C82.6 63.5 82.0 64.0 81.4 64.0C80.9 64.0 80.2 63.5 79.9 62.9C79.5 62.2 79.2 61.0 79.2 60.0C79.2 59.1 79.5 57.9 79.9 57.2C80.2 56.5 80.9 56.0 81.4 56.0C82.0 56.0 82.6 56.5 83.0 57.2C83.4 57.9 83.7 59.1 83.7 60.0ZM124.8 44.5C124.8 45.8 124.5 47.5 124.1 48.4C123.7 49.3 123.1 50.0 122.5 50.0C122.0 50.0 121.3 49.3 121.0 48.4C120.6 47.5 120.3 45.8 120.3 44.5C120.3 43.2 120.6 41.5 121.0 40.5C121.3 39.6 122.0 38.9 122.5 38.9C123.1 38.9 123.7 39.6 124.1 40.5C124.5 41.5 124.8 43.2 124.8 44.5ZM159.7 97.8C159.7 98.3 159.3 99.0 158.9 99.4C158.4 99.8 157.6 100.0 157.0 100.0C156.4 100.0 155.5 99.8 155.1 99.4C154.7 99.0 154.3 98.3 154.3 97.8C154.3 97.3 154.7 96.6 155.1 96.2C155.5 95.9 156.4 95.6 157.0 95.6C157.6 95.6 158.4 95.9 158.9 96.2C159.3 96.6 159.7 97.3 159.7 97.8Z"/>
<path fill="#0090ff" d="M28.1 40.0C29.2 38.8 33.5 41.0 37.0 41.1C40.5 41.3 46.4 40.6 49.2 41.1C52.0 41.7 52.5 42.8 53.7 44.5C54.8 46.1 55.4 48.7 56.3 51.1C57.2 53.6 57.8 56.9 59.2 58.9C60.6 61.0 62.7 63.0 64.8 63.4C66.8 63.7 70.0 60.8 71.4 61.1C72.9 61.5 74.8 64.1 73.7 65.6C72.5 67.1 66.9 68.5 64.8 70.0C62.6 71.6 62.8 74.9 60.8 74.9C58.7 74.9 55.2 72.0 52.5 70.0C49.9 68.1 47.0 64.8 44.8 63.4C42.5 61.9 40.9 62.4 39.2 61.1C37.5 59.9 36.2 58.2 34.8 56.0C33.3 53.9 31.4 50.9 30.3 48.3C29.2 45.6 27.0 41.2 28.1 40.0ZM119.2 54.9C121.1 52.1 122.7 49.0 124.8 46.7C126.8 44.4 128.8 42.3 131.4 41.1C134.0 40.0 137.4 39.7 140.3 40.0C143.3 40.4 146.2 42.3 149.2 43.4C152.2 44.5 155.5 45.6 158.1 46.7C160.7 47.8 162.2 48.7 164.8 50.0C167.4 51.4 171.1 53.1 173.7 54.9C176.2 56.8 178.5 58.6 180.3 61.1C182.2 63.7 184.4 67.4 184.8 70.0C185.1 72.6 183.7 74.8 182.5 76.7C181.4 78.6 179.6 79.3 178.1 81.1C176.6 83.0 176.2 86.7 173.7 87.8C171.1 88.9 166.2 88.2 162.5 87.8C158.8 87.4 153.8 86.7 151.4 85.6C149.0 84.5 149.2 83.7 148.1 81.1C147.0 78.6 146.8 72.4 144.8 70.0C142.7 67.6 137.8 67.3 135.9 66.7C133.9 66.1 135.0 66.7 133.2 66.6C131.4 66.5 127.0 66.3 125.2 66.2C123.5 66.1 124.5 66.5 122.5 66.0C120.6 65.6 114.2 65.2 113.7 63.4C113.1 61.5 117.4 57.7 119.2 54.9ZM211.2 112.3C211.2 113.6 210.8 115.3 210.3 116.2C209.8 117.1 208.8 117.8 208.1 117.8C207.4 117.8 206.4 117.1 205.9 116.2C205.4 115.3 205.0 113.6 205.0 112.3C205.0 110.9 205.4 109.3 205.9 108.3C206.4 107.4 207.4 106.7 208.1 106.7C208.8 106.7 209.8 107.4 210.3 108.3C210.8 109.3 211.2 110.9 211.2 112.3ZM200.3 101.1C200.3 101.8 200.0 102.6 199.7 103.0C199.3 103.5 198.6 103.8 198.1 103.8C197.6 103.8 196.9 103.5 196.5 103.0C196.2 102.6 195.9 101.8 195.9 101.1C195.9 100.5 196.2 99.7 196.5 99.3C196.9 98.8 197.6 98.5 198.1 98.5C198.6 98.5 199.3 98.8 199.7 99.3C200.0 99.7 200.3 100.5 200.3 101.1ZM209.2 63.4C209.2 63.9 208.8 64.6 208.2 64.9C207.7 65.3 206.7 65.6 205.9 65.6C205.1 65.6 204.1 65.3 203.5 64.9C203.0 64.6 202.5 63.9 202.5 63.4C202.5 62.8 203.0 62.2 203.5 61.8C204.1 61.4 205.1 61.1 205.9 61.1C206.7 61.1 207.7 61.4 208.2 61.8C208.8 62.2 209.2 62.8 209.2 63.4ZM91.9 66.7C91.9 67.1 91.5 67.7 91.1 68.0C90.7 68.3 89.8 68.5 89.2 68.5C88.6 68.5 87.8 68.3 87.3 68.0C86.9 67.7 86.5 67.1 86.5 66.7C86.5 66.3 86.9 65.7 87.3 65.4C87.8 65.1 88.6 64.9 89.2 64.9C89.8 64.9 90.7 65.1 91.1 65.4C91.5 65.7 91.9 66.3 91.9 66.7Z"/>
<path fill="#0000ff" d="M30.3 42.3C31.4 41.5 35.5 43.7 38.1 44.5C40.7 45.2 43.7 45.6 45.9 46.7C48.1 47.8 50.1 49.5 51.4 51.1C52.7 52.8 53.7 54.7 53.7 56.7C53.7 58.7 52.7 62.4 51.4 63.4C50.1 64.3 47.7 62.8 45.9 62.3C44.0 61.7 42.1 61.0 40.3 60.0C38.6 59.1 36.9 58.6 35.4 56.7C34.0 54.8 32.3 51.3 31.4 48.9C30.6 46.5 29.2 43.0 30.3 42.3ZM129.2 61.1C128.1 58.7 131.8 52.4 133.7 50.0C135.5 47.6 138.5 46.3 140.3 46.7C142.2 47.1 142.9 50.8 144.8 52.3C146.6 53.7 148.8 55.1 151.4 55.6C154.0 56.0 157.4 55.0 160.3 54.9C163.3 54.8 166.6 53.9 169.2 54.9C171.8 56.0 174.4 58.6 175.9 61.1C177.4 63.7 178.5 67.8 178.1 70.0C177.7 72.3 175.5 73.9 173.7 74.5C171.8 75.0 169.6 73.9 167.0 73.4C164.4 72.8 160.7 72.1 158.1 71.1C155.5 70.2 154.4 68.9 151.4 67.8C148.5 66.7 144.0 65.6 140.3 64.5C136.6 63.4 130.3 63.6 129.2 61.1ZM178.5 70.0C178.5 71.1 178.2 72.4 177.8 73.2C177.3 73.9 176.5 74.5 175.9 74.5C175.2 74.5 174.4 73.9 174.0 73.2C173.5 72.4 173.2 71.1 173.2 70.0C173.2 69.0 173.5 67.6 174.0 66.9C174.4 66.1 175.2 65.6 175.9 65.6C176.5 65.6 177.3 66.1 177.8 66.9C178.2 67.6 178.5 69.0 178.5 70.0ZM210.5 113.4C210.5 113.9 210.4 114.6 210.2 114.9C209.9 115.3 209.5 115.6 209.2 115.6C208.9 115.6 208.5 115.3 208.3 114.9C208.0 114.6 207.9 113.9 207.9 113.4C207.9 112.8 208.0 112.2 208.3 111.8C208.5 111.4 208.9 111.1 209.2 111.1C209.5 111.1 209.9 111.4 210.2 111.8C210.4 112.2 210.5 112.8 210.5 113.4Z"/>
<path fill="#0000b0" d="M43.9 54.9C43.9 55.7 43.4 56.6 42.8 57.1C42.2 57.6 41.2 58.0 40.3 58.0C39.5 58.0 38.4 57.6 37.8 57.1C37.2 56.6 36.8 55.7 36.8 54.9C36.8 54.2 37.2 53.2 37.8 52.7C38.4 52.2 39.5 51.8 40.3 51.8C41.2 51.8 42.2 52.2 42.8 52.7C43.4 53.2 43.9 54.2 43.9 54.9ZM157.0 58.9C158.1 57.2 161.6 56.1 163.7 56.3C165.7 56.4 168.5 58.1 169.2 60.0C170.0 62.0 169.2 66.1 168.1 67.8C167.0 69.5 164.4 70.2 162.5 70.0C160.7 69.8 157.9 68.6 157.0 66.7C156.1 64.8 155.9 60.7 157.0 58.9ZM140.3 53.4C140.3 54.3 140.0 55.5 139.7 56.2C139.3 56.9 138.6 57.4 138.1 57.4C137.6 57.4 136.9 56.9 136.5 56.2C136.2 55.5 135.9 54.3 135.9 53.4C135.9 52.4 136.2 51.2 136.5 50.5C136.9 49.9 137.6 49.4 138.1 49.4C138.6 49.4 139.3 49.9 139.7 50.5C140.0 51.2 140.3 52.4 140.3 53.4Z"/>
<path fill="#ffff00" d="M32.1 47.3C31.8 47.6 31.2 47.8 30.7 47.7C30.2 47.6 29.5 47.3 29.1 46.8C28.7 46.4 28.3 45.8 28.2 45.3C28.1 44.8 28.3 44.2 28.6 43.9C28.9 43.6 29.5 43.4 30.0 43.5C30.5 43.6 31.2 43.9 31.6 44.3C32.0 44.7 32.4 45.4 32.4 45.9C32.5 46.4 32.3 47.0 32.1 47.3ZM122.5 67.4C123.3 65.8 128.5 65.3 131.4 64.5C134.4 63.6 137.4 63.0 140.3 62.3C143.3 61.5 146.4 60.7 149.2 60.0C152.0 59.4 154.6 58.5 157.0 58.5C159.4 58.5 162.4 59.2 163.7 60.0C165.0 60.8 165.3 62.4 164.8 63.4C164.2 64.3 160.7 64.7 160.3 65.6C160.0 66.5 162.9 68.0 162.5 68.9C162.2 69.8 159.6 71.3 158.1 71.1C156.6 71.0 154.8 67.9 153.7 68.3C152.5 68.6 151.4 71.3 151.0 73.4C150.5 75.4 151.7 79.7 151.0 80.7C150.3 81.7 148.4 80.2 147.0 79.4C145.6 78.5 144.6 76.3 142.5 75.6C140.5 74.8 137.4 75.2 134.8 74.9C132.2 74.7 129.0 75.3 127.0 74.0C125.0 72.8 121.8 69.0 122.5 67.4Z"/>
<path fill="#ffa000" d="M125.9 68.3C126.4 67.1 130.9 67.5 133.7 66.7C136.4 65.9 139.6 64.2 142.5 63.4C145.5 62.5 149.4 61.7 151.4 61.6C153.5 61.5 154.8 62.0 154.8 62.9C154.8 63.9 152.2 65.6 151.4 67.4C150.7 69.1 150.4 71.5 150.1 73.4C149.8 75.2 150.5 78.2 149.7 78.5C148.8 78.7 146.7 75.7 144.8 74.9C142.8 74.2 140.5 74.3 138.1 74.0C135.7 73.8 132.4 74.3 130.3 73.4C128.3 72.4 125.3 69.4 125.9 68.3Z"/>
<path fill="#ff0000" d="M129.2 69.6C130.2 68.8 134.6 68.8 137.0 68.3C139.4 67.7 141.6 66.6 143.7 66.0C145.7 65.5 148.2 64.5 149.2 65.1C150.2 65.8 150.0 68.5 149.7 70.0C149.4 71.6 148.6 73.9 147.4 74.5C146.2 75.0 144.5 73.6 142.5 73.4C140.6 73.2 137.8 73.5 135.9 73.4C134.0 73.3 132.1 73.3 131.0 72.7C129.9 72.1 128.2 70.3 129.2 69.6Z"/>
<path fill="#a00000" d="M143.7 68.9C144.2 68.1 147.0 67.1 147.4 67.8C147.9 68.6 147.1 72.6 146.5 73.4C146.0 74.2 144.8 73.4 144.3 72.7C143.8 72.0 143.1 69.7 143.7 68.9Z"/>
</g></g>
<use href="#bord"/><use href="#coast"/><use href="#thk"/>
</g>
<rect width="216.0" height="122.9" fill="none" stroke="#000" stroke-width="2.5"/>
<text class="l" x="4.6" y="118.6">i) SWAP</text>
</g>
<g transform="translate(271.5,326.3)">
<use href="#tk"/>
<g clip-path="url(#cp)">
<rect width="216.0" height="122.9" fill="#eeeeee"/>
<use href="#land" fill="#fff"/>
<g clip-path="url(#cl)"><g filter="url(#rag)">
<path fill="#98e898" d="M37.5 16.7C39.4 15.6 44.9 15.1 48.6 14.0C52.3 13.0 56.4 10.7 59.7 10.5C63.1 10.3 66.0 12.1 68.6 12.7C71.2 13.3 74.2 12.8 75.3 14.0C76.4 15.3 75.7 19.0 75.3 20.0C74.8 21.0 78.4 20.0 72.6 20.1C66.7 20.2 46.0 20.5 40.2 20.7C34.4 20.8 37.9 21.4 37.5 20.7C37.1 20.0 35.6 17.8 37.5 16.7ZM95.3 14.0C95.7 13.1 95.5 14.0 98.0 13.8C100.5 13.6 107.8 13.1 110.4 12.9C112.9 12.7 111.1 12.9 113.1 12.7C115.0 12.5 119.0 11.8 121.9 11.8C124.9 11.8 129.4 11.6 130.8 12.7C132.3 13.8 131.3 17.5 130.8 18.5C130.4 19.5 133.6 18.4 128.1 18.5C122.7 18.7 103.5 19.2 98.0 19.3C92.5 19.4 95.7 20.2 95.3 19.4C94.8 18.5 94.8 15.0 95.3 14.0ZM195.3 18.9C195.3 19.4 194.4 20.1 193.3 20.5C192.2 20.9 190.2 21.1 188.6 21.1C187.0 21.1 185.0 20.9 183.9 20.5C182.8 20.1 181.9 19.4 181.9 18.9C181.9 18.4 182.8 17.7 183.9 17.4C185.0 17.0 187.0 16.7 188.6 16.7C190.2 16.7 192.2 17.0 193.3 17.4C194.4 17.7 195.3 18.4 195.3 18.9Z"/>
<path fill="#06dc0a" d="M16.4 21.1C19.0 20.0 22.9 19.5 26.4 18.9C29.9 18.4 33.8 17.8 37.5 17.8C41.2 17.8 44.9 18.9 48.6 18.9C52.3 18.9 56.4 17.8 59.7 17.8C63.1 17.8 66.0 19.3 68.6 18.9C71.2 18.6 72.7 16.5 75.3 15.6C77.9 14.7 81.2 13.4 84.2 13.4C87.1 13.4 90.1 14.7 93.1 15.6C96.0 16.5 98.6 18.6 101.9 18.9C105.3 19.3 109.7 18.4 113.1 17.8C116.4 17.3 119.0 16.1 121.9 15.6C124.9 15.0 127.9 14.1 130.8 14.5C133.8 14.8 136.8 16.7 139.7 17.8C142.7 18.9 145.6 20.0 148.6 21.1C151.6 22.3 154.5 23.6 157.5 24.5C160.5 25.4 163.4 26.7 166.4 26.7C169.4 26.7 172.3 25.4 175.3 24.5C178.2 23.6 181.2 21.9 184.2 21.1C187.1 20.4 190.1 20.0 193.1 20.0C196.0 20.0 199.7 22.4 201.9 21.1C204.2 19.8 205.2 13.8 206.4 12.3C207.6 10.7 205.8 12.3 209.1 12.0C212.3 11.7 222.7 10.6 225.9 10.3C229.2 10.0 228.2 9.6 228.6 10.0C229.1 10.4 228.6 -7.6 228.6 12.7C228.6 33.0 228.6 111.5 228.6 131.8C228.6 152.1 229.1 134.0 228.6 134.5C228.2 134.9 240.3 134.5 225.9 134.5C211.5 134.5 156.8 134.5 142.4 134.5C128.1 134.5 140.2 134.9 139.7 134.5C139.3 134.0 139.7 140.2 139.7 131.8C139.7 123.3 139.7 92.3 139.7 83.8C139.7 75.4 140.1 81.8 139.7 81.1C139.3 80.5 139.7 81.1 137.2 80.2C134.7 79.2 127.0 76.4 124.5 75.4C121.9 74.5 122.8 74.6 121.9 74.5C121.1 74.4 124.7 74.2 119.3 74.7C113.8 75.2 94.6 77.0 89.1 77.6C83.6 78.1 87.3 77.7 86.4 77.8C85.5 77.9 87.7 77.7 83.7 78.0C79.7 78.4 66.4 79.5 62.4 79.8C58.4 80.1 60.6 80.2 59.7 80.0C58.9 79.9 59.9 80.1 57.3 78.8C54.7 77.5 46.9 73.6 44.4 72.4C41.8 71.1 42.6 71.7 41.9 71.1C41.2 70.6 42.8 72.1 40.2 69.1C37.5 66.1 28.6 56.2 26.0 53.2C23.3 50.2 24.8 51.8 24.2 51.1C23.5 50.5 24.1 51.1 22.2 49.3C20.3 47.6 14.7 42.5 12.8 40.7C10.9 39.0 11.2 39.7 10.8 38.9C10.5 38.2 10.8 38.0 10.8 36.2C10.8 34.4 10.8 30.1 10.8 28.3C10.8 26.5 9.9 26.8 10.8 25.6C11.8 24.4 13.8 22.3 16.4 21.1ZM87.5 8.9C87.5 9.6 87.2 10.4 86.8 10.8C86.5 11.3 85.8 11.6 85.3 11.6C84.8 11.6 84.1 11.3 83.7 10.8C83.3 10.4 83.1 9.6 83.1 8.9C83.1 8.3 83.3 7.5 83.7 7.0C84.1 6.6 84.8 6.3 85.3 6.3C85.8 6.3 86.5 6.6 86.8 7.0C87.2 7.5 87.5 8.3 87.5 8.9ZM141.9 11.1C141.9 11.9 141.4 12.8 140.6 13.3C139.9 13.9 138.5 14.3 137.5 14.3C136.5 14.3 135.1 13.9 134.4 13.3C133.6 12.8 133.1 11.9 133.1 11.1C133.1 10.4 133.6 9.5 134.4 8.9C135.1 8.4 136.5 8.0 137.5 8.0C138.5 8.0 139.9 8.4 140.6 8.9C141.4 9.5 141.9 10.4 141.9 11.1Z"/>
<path fill="#04b608" d="M16.4 24.5C16.3 23.5 15.3 24.5 19.1 24.4C22.9 24.2 35.4 23.6 39.2 23.5C43.1 23.3 41.0 23.3 41.9 23.4C42.8 23.4 41.4 23.3 44.6 23.6C47.9 24.0 58.2 25.0 61.5 25.3C64.7 25.6 63.3 25.5 64.2 25.6C65.1 25.6 63.6 25.6 66.9 25.6C70.1 25.6 80.4 25.6 83.7 25.6C86.9 25.6 85.5 25.6 86.4 25.6C87.3 25.6 86.9 25.6 89.1 25.8C91.2 25.9 97.1 26.4 99.3 26.5C101.4 26.7 101.0 26.7 101.9 26.7C102.8 26.7 101.8 26.7 104.6 26.6C107.5 26.4 116.4 25.9 119.2 25.7C122.1 25.6 121.0 25.6 121.9 25.6C122.8 25.6 122.1 25.6 124.6 25.8C127.2 25.9 134.5 26.4 137.0 26.5C139.5 26.7 138.8 26.6 139.7 26.7C140.6 26.8 139.9 26.7 142.4 27.2C144.9 27.7 152.3 29.1 154.8 29.5C157.4 30.0 156.6 30.0 157.5 30.0C158.4 30.1 157.7 30.0 160.2 29.9C162.7 29.7 170.1 29.2 172.6 29.1C175.1 28.9 174.4 29.0 175.3 28.9C176.2 28.9 175.5 28.9 178.0 28.8C180.5 28.6 187.8 28.1 190.4 28.0C192.9 27.8 192.2 27.8 193.1 27.8C194.0 27.8 190.3 27.8 195.8 27.8C201.2 27.8 220.4 27.8 225.9 27.8C231.4 27.8 228.2 27.4 228.6 27.8C229.1 28.3 228.6 28.7 228.6 30.5C228.6 32.3 228.6 36.7 228.6 38.4C228.6 40.2 229.1 40.7 228.6 41.1C228.2 41.6 230.7 41.3 225.9 41.0C221.2 40.6 204.9 39.5 200.2 39.1C195.5 38.8 198.4 39.0 197.5 38.9C196.6 38.9 198.1 38.9 194.8 38.9C191.5 38.9 181.2 38.9 178.0 38.9C174.7 38.9 176.2 38.9 175.3 38.9C174.4 38.9 175.8 38.9 172.6 38.9C169.3 38.9 159.0 38.9 155.8 38.9C152.5 38.9 153.9 39.0 153.1 38.9C152.2 38.8 153.7 39.1 150.4 38.3C147.2 37.5 136.7 34.8 133.5 34.0C130.2 33.2 131.7 33.5 130.8 33.4C129.9 33.2 129.9 33.3 128.1 33.1C126.4 33.0 122.0 32.6 120.2 32.5C118.4 32.3 118.4 32.2 117.5 32.3C116.6 32.3 116.6 32.4 114.8 32.7C113.1 33.0 108.6 33.7 106.8 34.0C105.1 34.3 105.1 34.4 104.2 34.5C103.3 34.5 104.0 34.5 101.5 34.3C99.0 34.2 91.6 33.7 89.1 33.5C86.6 33.4 87.3 33.4 86.4 33.4C85.5 33.4 86.9 33.3 83.7 33.5C80.4 33.7 70.1 34.2 66.9 34.3C63.6 34.5 65.1 34.5 64.2 34.5C63.3 34.5 64.7 34.5 61.5 34.2C58.2 33.9 47.9 32.8 44.6 32.5C41.4 32.2 42.8 32.3 41.9 32.3C41.0 32.2 42.5 32.3 39.3 32.0C36.0 31.7 25.7 30.6 22.4 30.3C19.2 30.0 20.7 31.0 19.7 30.0C18.7 29.1 16.5 25.4 16.4 24.5Z"/>
<path fill="#00ffff" d="M16.4 30.0C18.6 28.7 26.1 30.0 28.6 30.0C31.1 30.1 29.5 30.1 31.3 30.3C33.1 30.4 37.5 30.8 39.3 30.9C41.0 31.1 39.6 30.9 41.9 31.1C44.2 31.4 49.4 31.7 53.1 32.3C56.8 32.8 60.5 34.5 64.2 34.5C67.9 34.5 71.6 32.4 75.3 32.3C79.0 32.1 83.1 33.4 86.4 33.4C89.7 33.4 92.3 31.9 95.3 32.3C98.2 32.6 101.2 35.6 104.2 35.6C107.1 35.6 110.1 33.4 113.1 32.3C116.0 31.1 119.0 28.9 121.9 28.9C124.9 28.9 127.5 31.5 130.8 32.3C134.2 33.0 138.2 32.4 141.9 33.4C145.6 34.3 149.4 36.9 153.1 37.8C156.8 38.7 160.5 38.7 164.2 38.9C167.9 39.1 171.6 38.9 175.3 38.9C179.0 38.9 182.7 39.1 186.4 38.9C190.1 38.7 194.2 37.4 197.5 37.8C200.8 38.2 204.5 40.5 206.4 41.1C208.3 41.8 205.8 41.1 209.1 41.5C212.3 42.0 222.7 43.6 225.9 44.1C229.2 44.6 228.2 44.0 228.6 44.5C229.1 45.0 228.6 32.6 228.6 47.2C228.6 61.7 228.6 117.2 228.6 131.8C228.6 146.3 229.1 134.0 228.6 134.5C228.2 134.9 234.3 134.5 225.9 134.5C217.5 134.5 186.4 134.5 178.0 134.5C169.5 134.5 175.8 134.9 175.3 134.5C174.8 134.0 175.3 135.0 175.0 131.8C174.7 128.5 173.6 118.2 173.3 114.9C173.0 111.7 173.8 114.2 173.1 112.3C172.3 110.3 170.5 106.0 168.6 103.4C166.8 100.8 164.5 98.2 161.9 96.7C159.4 95.2 155.6 94.1 153.1 94.5C150.5 94.8 147.5 98.6 146.4 98.9C145.3 99.2 146.4 98.4 146.5 96.2C146.5 94.1 146.7 88.2 146.8 86.1C146.8 83.9 147.0 84.2 146.8 83.4C146.6 82.5 146.5 82.8 145.6 81.0C144.6 79.2 142.0 74.2 141.0 72.4C140.0 70.6 140.4 70.5 139.7 70.0C139.1 69.6 139.6 70.0 137.1 69.6C134.5 69.3 127.1 68.1 124.6 67.8C122.1 67.4 122.8 67.5 121.9 67.4C121.1 67.3 121.0 67.3 119.3 67.1C117.5 66.9 113.1 66.5 111.3 66.3C109.5 66.1 110.4 65.9 108.6 66.0C106.9 66.2 102.5 67.0 100.8 67.4C99.1 67.8 100.3 67.6 98.3 68.4C96.3 69.2 90.9 71.5 88.9 72.3C86.9 73.2 87.3 73.2 86.4 73.4C85.5 73.5 85.8 73.3 83.7 73.2C81.6 73.0 75.7 72.6 73.5 72.4C71.4 72.3 72.9 71.7 70.8 72.3C68.7 72.9 64.2 76.3 60.8 76.0C57.5 75.7 54.0 72.5 50.8 70.5C47.7 68.4 43.8 65.2 41.9 63.8C40.1 62.4 41.3 63.3 39.8 62.1C38.3 60.9 34.4 57.8 32.9 56.6C31.4 55.4 32.3 56.7 30.8 54.9C29.4 53.2 26.8 48.8 24.2 46.0C21.6 43.3 16.6 40.9 15.3 38.3C14.0 35.6 14.2 31.4 16.4 30.0Z"/>
<path fill="#06dc0a" d="M163.5 101.6C163.5 102.3 162.8 103.3 161.9 103.8C160.9 104.3 159.3 104.7 157.9 104.7C156.6 104.7 154.9 104.3 154.0 103.8C153.1 103.3 152.4 102.3 152.4 101.6C152.4 100.9 153.1 99.9 154.0 99.4C154.9 98.9 156.6 98.5 157.9 98.5C159.3 98.5 160.9 98.9 161.9 99.4C162.8 99.9 163.5 100.9 163.5 101.6ZM194.2 63.4C194.2 63.8 193.7 64.3 193.2 64.6C192.6 64.9 191.6 65.1 190.8 65.1C190.0 65.1 189.0 64.9 188.5 64.6C187.9 64.3 187.5 63.8 187.5 63.4C187.5 62.9 187.9 62.4 188.5 62.1C189.0 61.8 190.0 61.6 190.8 61.6C191.6 61.6 192.6 61.8 193.2 62.1C193.7 62.4 194.2 62.9 194.2 63.4ZM194.2 87.8C194.2 88.4 193.9 89.3 193.5 89.7C193.1 90.1 192.5 90.5 191.9 90.5C191.4 90.5 190.7 90.1 190.4 89.7C190.0 89.3 189.7 88.4 189.7 87.8C189.7 87.2 190.0 86.4 190.4 85.9C190.7 85.5 191.4 85.1 191.9 85.1C192.5 85.1 193.1 85.5 193.5 85.9C193.9 86.4 194.2 87.2 194.2 87.8ZM213.5 52.3C213.5 53.8 213.2 55.9 212.8 57.0C212.5 58.1 211.8 58.9 211.3 58.9C210.8 58.9 210.1 58.1 209.7 57.0C209.3 55.9 209.1 53.8 209.1 52.3C209.1 50.7 209.3 48.7 209.7 47.5C210.1 46.4 210.8 45.6 211.3 45.6C211.8 45.6 212.5 46.4 212.8 47.5C213.2 48.7 213.5 50.7 213.5 52.3Z"/>
<path fill="#0090ff" d="M19.7 33.4C20.5 32.6 20.7 33.4 22.4 33.4C24.2 33.4 28.6 33.4 30.4 33.4C32.1 33.4 32.2 33.3 33.1 33.4C33.9 33.4 33.9 33.5 35.7 33.8C37.5 34.1 41.9 34.8 43.7 35.1C45.5 35.4 45.5 35.4 46.4 35.6C47.3 35.7 47.3 35.7 49.1 36.0C50.8 36.3 55.3 37.1 57.1 37.4C58.8 37.7 57.4 37.6 59.7 37.8C62.0 38.1 67.5 39.3 70.8 38.9C74.2 38.6 76.4 36.1 79.7 35.6C83.1 35.0 87.5 35.0 90.8 35.6C94.2 36.1 96.8 38.6 99.7 38.9C102.7 39.3 105.6 38.0 108.6 37.8C111.6 37.6 115.3 37.9 117.5 37.8C119.7 37.7 119.7 36.8 121.9 37.1C124.2 37.5 127.5 39.1 130.8 40.0C134.2 41.0 138.2 42.0 141.9 42.9C145.6 43.8 149.7 44.7 153.1 45.6C156.4 46.5 159.0 47.2 161.9 48.3C164.9 49.3 168.2 50.4 170.8 51.8C173.4 53.2 175.6 54.8 177.5 56.7C179.4 58.6 180.8 60.8 181.9 63.4C183.1 66.0 184.9 69.7 184.2 72.3C183.4 74.8 179.2 76.7 177.5 78.9C175.8 81.1 175.6 83.7 174.2 85.6C172.7 87.4 171.4 89.3 168.6 90.0C165.8 90.8 160.8 90.0 157.5 90.0C154.2 90.0 150.4 91.1 148.6 90.0C146.8 88.9 147.3 84.9 146.8 83.4C146.3 81.9 146.5 82.8 145.6 81.0C144.6 79.2 142.0 74.2 141.0 72.4C140.0 70.6 140.4 70.5 139.7 70.0C139.1 69.6 139.6 70.0 137.1 69.6C134.5 69.3 127.1 68.1 124.6 67.8C122.1 67.4 122.8 67.5 121.9 67.4C121.1 67.3 121.0 67.3 119.3 67.1C117.5 66.9 113.1 66.5 111.3 66.3C109.5 66.1 110.4 65.9 108.6 66.0C106.9 66.2 102.5 67.0 100.8 67.4C99.1 67.8 100.3 67.6 98.3 68.4C96.3 69.2 90.9 71.5 88.9 72.3C86.9 73.2 87.3 73.2 86.4 73.4C85.5 73.5 85.8 73.3 83.7 73.2C81.6 73.0 75.7 72.6 73.5 72.4C71.4 72.3 72.9 71.7 70.8 72.3C68.7 72.9 64.2 76.3 60.8 76.0C57.5 75.7 54.0 72.5 50.8 70.5C47.7 68.4 43.8 65.2 41.9 63.8C40.1 62.4 41.3 63.3 39.8 62.1C38.3 60.9 34.4 57.8 32.9 56.6C31.4 55.4 32.3 56.7 30.8 54.9C29.4 53.2 26.4 48.8 24.2 46.0C21.9 43.3 18.2 40.4 17.5 38.3C16.8 36.1 18.9 34.2 19.7 33.4ZM193.1 101.1C194.9 98.2 199.0 94.8 201.9 94.5C204.9 94.1 208.9 98.0 210.8 98.9C212.7 99.9 210.7 98.8 213.2 100.1C215.8 101.4 223.6 105.3 226.2 106.6C228.8 107.9 228.2 107.2 228.6 107.8C229.0 108.5 228.6 106.5 228.6 110.5C228.6 114.5 228.6 127.8 228.6 131.8C228.6 135.8 229.1 134.0 228.6 134.5C228.2 134.9 230.6 134.5 225.9 134.5C221.2 134.5 204.9 134.5 200.2 134.5C195.5 134.5 198.1 134.9 197.5 134.5C196.9 134.0 197.7 135.2 196.7 131.9C195.7 128.6 192.6 118.1 191.6 114.8C190.6 111.6 190.6 114.5 190.8 112.3C191.1 110.0 191.2 104.1 193.1 101.1ZM211.5 61.1C211.5 62.7 211.0 64.7 210.3 65.9C209.7 67.0 208.4 67.8 207.5 67.8C206.6 67.8 205.3 67.0 204.7 65.9C204.0 64.7 203.5 62.7 203.5 61.1C203.5 59.6 204.0 57.5 204.7 56.4C205.3 55.3 206.6 54.5 207.5 54.5C208.4 54.5 209.7 55.3 210.3 56.4C211.0 57.5 211.5 59.6 211.5 61.1Z"/>
<path fill="#00ffff" d="M96.6 64.5C96.6 65.3 96.2 66.4 95.7 67.0C95.2 67.6 94.2 68.0 93.5 68.0C92.8 68.0 91.8 67.6 91.3 67.0C90.8 66.4 90.4 65.3 90.4 64.5C90.4 63.6 90.8 62.6 91.3 62.0C91.8 61.4 92.8 60.9 93.5 60.9C94.2 60.9 95.2 61.4 95.7 62.0C96.2 62.6 96.6 63.6 96.6 64.5ZM165.3 81.1C165.3 81.9 164.6 82.8 163.7 83.3C162.7 83.9 161.0 84.3 159.7 84.3C158.4 84.3 156.7 83.9 155.8 83.3C154.9 82.8 154.2 81.9 154.2 81.1C154.2 80.4 154.9 79.5 155.8 78.9C156.7 78.4 158.4 78.0 159.7 78.0C161.0 78.0 162.7 78.4 163.7 78.9C164.6 79.5 165.3 80.4 165.3 81.1ZM124.6 44.5C124.6 45.2 124.3 46.2 123.8 46.7C123.4 47.2 122.6 47.6 121.9 47.6C121.3 47.6 120.5 47.2 120.1 46.7C119.6 46.2 119.3 45.2 119.3 44.5C119.3 43.7 119.6 42.8 120.1 42.3C120.5 41.8 121.3 41.4 121.9 41.4C122.6 41.4 123.4 41.8 123.8 42.3C124.3 42.8 124.6 43.7 124.6 44.5Z"/>
<path fill="#0000ff" d="M30.8 37.8C32.3 36.9 38.2 37.3 41.9 37.8C45.6 38.4 50.6 39.3 53.1 41.1C55.5 43.0 54.9 47.3 56.4 48.9C57.9 50.6 59.5 51.0 61.9 51.1C64.4 51.3 67.9 49.8 70.8 50.0C73.8 50.2 77.5 50.4 79.7 52.3C81.9 54.1 84.5 59.3 84.2 61.1C83.8 63.0 80.1 63.2 77.5 63.4C74.9 63.6 71.2 62.3 68.6 62.3C66.0 62.3 63.8 63.6 61.9 63.4C60.1 63.2 59.4 62.1 57.5 61.1C55.6 60.2 52.9 59.1 50.8 57.8C48.8 56.5 47.1 54.8 45.3 53.4C43.4 51.9 41.8 50.6 39.7 48.9C37.7 47.3 34.5 45.2 33.1 43.4C31.6 41.5 29.4 38.7 30.8 37.8ZM104.2 48.9C104.9 47.3 110.6 46.3 113.1 46.7C115.5 47.1 116.4 49.8 118.6 51.1C120.8 52.5 123.6 54.3 126.4 54.9C129.2 55.6 133.1 55.9 135.3 54.9C137.5 53.9 138.2 50.3 139.7 48.9C141.2 47.6 142.7 46.3 144.2 46.7C145.6 47.1 146.4 49.8 148.6 51.1C150.8 52.5 154.5 54.1 157.5 54.9C160.5 55.8 163.4 55.4 166.4 56.3C169.4 57.1 172.7 58.1 175.3 60.0C177.9 62.0 181.2 65.4 181.9 67.8C182.7 70.2 181.2 73.7 179.7 74.5C178.2 75.2 175.3 73.0 173.1 72.3C170.8 71.5 167.9 70.6 166.4 70.0C164.9 69.5 165.8 69.7 164.0 68.8C162.2 67.9 157.3 65.5 155.5 64.6C153.7 63.7 153.9 63.5 153.1 63.4C152.2 63.2 152.2 63.5 150.4 63.8C148.6 64.1 144.2 64.8 142.4 65.1C140.6 65.4 140.6 65.6 139.7 65.6C138.8 65.6 138.8 65.5 137.0 65.4C135.3 65.2 130.9 64.8 129.1 64.7C127.3 64.6 128.3 65.1 126.4 64.5C124.5 63.9 120.5 62.4 117.5 61.1C114.5 59.8 110.8 58.7 108.6 56.7C106.4 54.7 103.4 50.6 104.2 48.9ZM96.2 46.7C96.2 47.3 95.8 48.1 95.3 48.6C94.7 49.0 93.8 49.4 93.1 49.4C92.3 49.4 91.4 49.0 90.9 48.6C90.3 48.1 89.9 47.3 89.9 46.7C89.9 46.1 90.3 45.3 90.9 44.8C91.4 44.4 92.3 44.0 93.1 44.0C93.8 44.0 94.7 44.4 95.3 44.8C95.8 45.3 96.2 46.1 96.2 46.7ZM90.8 66.0C90.8 66.5 90.6 67.0 90.2 67.3C89.8 67.6 89.1 67.8 88.6 67.8C88.1 67.8 87.4 67.6 87.0 67.3C86.7 67.0 86.4 66.5 86.4 66.0C86.4 65.6 86.7 65.1 87.0 64.8C87.4 64.5 88.1 64.3 88.6 64.3C89.1 64.3 89.8 64.5 90.2 64.8C90.6 65.1 90.8 65.6 90.8 66.0ZM210.8 112.3C210.8 112.9 210.6 113.7 210.2 114.1C209.8 114.6 209.1 114.9 208.6 114.9C208.1 114.9 207.4 114.6 207.0 114.1C206.7 113.7 206.4 112.9 206.4 112.3C206.4 111.6 206.7 110.8 207.0 110.4C207.4 109.9 208.1 109.6 208.6 109.6C209.1 109.6 209.8 109.9 210.2 110.4C210.6 110.8 210.8 111.6 210.8 112.3Z"/>
<path fill="#0000b0" d="M45.3 41.1C46.0 39.7 50.2 40.8 51.9 42.3C53.7 43.7 55.5 47.9 55.7 50.0C55.9 52.1 54.4 54.7 53.1 54.9C51.7 55.1 48.8 53.4 47.5 51.1C46.2 48.8 44.5 42.6 45.3 41.1ZM130.8 53.4C131.0 51.9 134.5 49.8 136.4 48.9C138.2 48.1 140.6 47.7 141.9 48.3C143.2 48.8 144.2 50.8 144.2 52.3C144.2 53.7 143.4 55.8 141.9 56.7C140.5 57.6 137.1 58.4 135.3 57.8C133.4 57.3 130.6 54.8 130.8 53.4ZM173.1 63.4C174.2 62.8 177.5 64.1 178.6 65.6C179.7 67.1 180.3 71.0 179.7 72.3C179.2 73.6 176.6 73.9 175.3 73.4C174.0 72.8 172.3 70.6 171.9 68.9C171.6 67.3 171.9 63.9 173.1 63.4ZM63.5 60.0C63.5 60.5 63.2 61.0 62.7 61.3C62.3 61.6 61.5 61.8 60.8 61.8C60.2 61.8 59.4 61.6 58.9 61.3C58.5 61.0 58.2 60.5 58.2 60.0C58.2 59.6 58.5 59.1 58.9 58.8C59.4 58.5 60.2 58.3 60.8 58.3C61.5 58.3 62.3 58.5 62.7 58.8C63.2 59.1 63.5 59.6 63.5 60.0Z"/>
<path fill="#ffff00" d="M33.4 46.3C33.1 46.6 32.4 46.9 31.8 46.9C31.2 46.9 30.3 46.5 29.7 46.1C29.1 45.7 28.5 44.9 28.2 44.4C28.0 43.8 28.0 43.1 28.3 42.7C28.6 42.3 29.2 42.0 29.8 42.1C30.5 42.1 31.4 42.4 32.0 42.8C32.6 43.3 33.2 44.0 33.4 44.6C33.7 45.2 33.7 45.9 33.4 46.3ZM35.3 52.3C36.0 51.5 39.4 52.4 40.8 53.4C42.3 54.3 44.2 56.3 44.2 57.8C44.2 59.3 42.1 62.3 40.8 62.3C39.5 62.3 37.3 59.5 36.4 57.8C35.5 56.1 34.5 53.0 35.3 52.3ZM121.9 67.4C122.7 65.8 128.4 65.5 130.8 64.5C133.2 63.4 134.9 62.6 136.4 61.1C137.9 59.7 138.6 55.8 139.7 55.6C140.8 55.4 141.2 59.5 143.1 60.0C144.9 60.6 148.4 59.4 150.8 58.9C153.2 58.4 154.9 57.3 157.5 57.1C160.1 57.0 164.4 56.8 166.4 57.8C168.4 58.8 169.0 61.0 169.7 63.4C170.5 65.8 171.4 70.6 170.8 72.3C170.3 73.9 168.2 73.6 166.4 73.4C164.5 73.2 161.9 71.7 159.7 71.1C157.5 70.6 154.6 69.5 153.1 70.0C151.5 70.6 150.8 72.7 150.4 74.5C149.9 76.3 151.1 79.9 150.4 80.7C149.7 81.5 147.8 80.2 146.4 79.4C145.0 78.5 144.0 76.3 141.9 75.6C139.9 74.8 136.8 75.2 134.2 74.9C131.6 74.7 128.4 75.3 126.4 74.0C124.4 72.8 121.2 69.0 121.9 67.4Z"/>
<path fill="#ffa000" d="M125.3 68.3C125.8 67.0 130.3 66.9 133.1 66.0C135.8 65.1 139.0 63.7 141.9 62.9C144.9 62.1 148.5 61.4 150.8 61.1C153.1 60.9 155.4 60.7 155.7 61.6C156.1 62.5 154.1 64.7 153.1 66.7C152.0 68.7 150.2 71.4 149.5 73.4C148.8 75.3 149.9 78.2 149.1 78.5C148.2 78.7 146.1 75.7 144.2 74.9C142.2 74.2 139.9 74.3 137.5 74.0C135.1 73.8 131.8 74.3 129.7 73.4C127.7 72.4 124.7 69.5 125.3 68.3Z"/>
<path fill="#ff0000" d="M127.5 68.9C128.5 67.9 133.6 67.4 136.4 66.7C139.2 66.0 141.8 65.1 144.2 64.5C146.6 63.8 149.5 62.7 150.8 62.9C152.1 63.2 152.2 64.7 151.9 66.0C151.6 67.4 149.8 69.6 149.1 71.1C148.3 72.7 148.7 75.2 147.5 75.6C146.3 76.0 144.0 73.7 141.9 73.4C139.9 73.0 137.2 73.5 135.3 73.4C133.4 73.3 131.7 73.4 130.4 72.7C129.1 72.0 126.5 69.9 127.5 68.9Z"/>
<path fill="#a00000" d="M141.9 69.6C142.3 68.6 145.9 66.9 146.8 67.4C147.8 67.8 147.9 71.3 147.5 72.3C147.1 73.3 145.5 73.8 144.6 73.4C143.7 72.9 141.6 70.6 141.9 69.6Z"/>
</g></g>
<use href="#bord"/><use href="#coast"/><use href="#thk"/>
</g>
<rect width="216.0" height="122.9" fill="none" stroke="#000" stroke-width="2.5"/>
<text class="l" x="4.6" y="118.6">j) SSIB1</text>
</g>
<g transform="translate(498.4,326.3)">
<use href="#tk"/>
<g clip-path="url(#cp)">
<rect width="216.0" height="122.9" fill="#eeeeee"/>
<use href="#land" fill="#fff"/>
<g clip-path="url(#cl)"><g filter="url(#rag)">
<path fill="#06dc0a" d="M19.8 36.7C21.3 35.6 27.2 37.4 30.9 37.8C34.6 38.2 39.3 39.3 42.0 38.9C44.8 38.6 45.6 35.8 47.6 35.6C49.6 35.4 52.7 36.3 54.3 37.8C55.9 39.3 56.2 42.6 57.2 44.5C58.1 46.3 58.3 48.3 59.8 48.9C61.4 49.6 64.1 47.9 66.5 48.3C68.9 48.6 72.2 49.9 74.3 51.1C76.3 52.4 77.2 54.1 78.7 55.6C80.2 57.1 82.6 58.4 83.2 60.0C83.7 61.7 81.7 64.3 82.0 65.6C82.4 66.9 83.5 68.6 85.4 67.8C87.2 67.1 91.1 63.3 93.2 61.1C95.2 59.0 96.1 56.6 97.6 54.9C99.1 53.3 100.2 52.1 102.0 51.1C103.9 50.1 106.5 49.7 108.7 48.9C110.9 48.2 113.2 47.4 115.4 46.7C117.6 46.0 119.5 45.2 122.0 44.5C124.6 43.7 128.0 42.4 130.9 42.3C133.9 42.1 137.6 42.7 139.8 43.8C142.0 44.9 142.4 47.1 144.3 48.9C146.1 50.8 148.3 53.9 150.9 54.9C153.5 55.9 156.9 55.1 159.8 54.9C162.8 54.8 166.1 53.6 168.7 54.0C171.3 54.5 173.2 56.3 175.4 57.8C177.6 59.4 179.8 61.3 182.0 63.4C184.3 65.4 186.9 67.8 188.7 70.0C190.6 72.3 191.7 76.3 193.2 76.7C194.6 77.1 196.5 74.5 197.6 72.3C198.7 70.0 198.7 66.3 199.8 63.4C200.9 60.5 203.1 56.4 204.3 54.9C205.5 53.4 203.3 55.1 206.9 54.5C210.6 53.9 222.4 52.1 226.0 51.6C229.7 51.0 228.3 50.8 228.7 51.1C229.2 51.5 228.7 40.4 228.7 53.8C228.7 67.3 228.7 118.3 228.7 131.8C228.7 145.2 229.2 134.0 228.7 134.5C228.3 134.9 240.4 134.5 226.0 134.5C211.6 134.5 156.9 134.5 142.5 134.5C128.2 134.5 140.2 134.9 139.8 134.5C139.4 134.0 139.4 139.5 140.1 131.8C140.8 124.1 143.3 96.0 144.0 88.3C144.7 80.6 145.0 87.5 144.3 85.6C143.6 83.7 141.0 78.3 139.8 76.7C138.7 75.1 139.8 76.7 137.3 75.8C134.8 74.8 127.1 71.9 124.6 71.0C122.0 70.0 122.9 70.2 122.0 70.0C121.2 69.8 122.2 70.1 119.4 69.7C116.5 69.4 107.6 68.4 104.7 68.1C101.8 67.8 102.9 67.7 102.0 67.8C101.2 67.9 101.7 67.9 99.5 68.7C97.3 69.5 91.2 71.7 89.0 72.5C86.9 73.2 87.4 73.2 86.5 73.4C85.6 73.5 85.9 73.3 83.8 73.2C81.7 73.0 75.8 72.6 73.6 72.4C71.5 72.3 72.9 71.7 70.9 72.3C69.0 72.8 65.4 75.8 62.0 75.6C58.7 75.4 54.3 72.8 50.9 71.1C47.6 69.5 43.8 66.8 42.0 65.6C40.2 64.3 41.7 65.2 40.1 63.7C38.6 62.1 34.4 57.9 32.8 56.4C31.3 54.9 31.6 55.1 30.9 54.5C30.3 53.8 30.3 53.8 29.1 52.5C28.0 51.1 25.0 47.8 23.8 46.5C22.7 45.2 22.7 46.1 22.0 44.5C21.4 42.8 18.3 37.8 19.8 36.7Z"/>
<path fill="#04b608" d="M144.3 94.5C144.5 93.9 145.0 94.2 146.8 93.6C148.6 93.0 153.2 91.5 155.0 90.9C156.8 90.3 156.7 90.2 157.6 90.0C158.5 89.9 158.2 90.0 160.3 90.0C162.4 90.0 168.3 90.0 170.5 90.0C172.6 90.0 172.0 88.2 173.2 90.0C174.3 91.9 178.0 97.4 177.6 101.1C177.2 104.8 171.7 108.9 170.9 112.3C170.2 115.6 173.2 119.7 173.2 121.1C173.1 122.6 172.6 121.1 170.5 121.1C168.3 121.1 162.4 121.1 160.3 121.1C158.2 121.1 159.2 122.6 157.6 121.1C156.0 119.7 152.2 114.2 150.9 112.3C149.7 110.4 150.9 112.3 150.0 109.7C149.0 107.2 146.2 99.5 145.2 97.0C144.3 94.5 144.0 95.0 144.3 94.5ZM197.6 63.4C198.7 60.6 205.9 57.1 208.7 56.7C211.5 56.3 213.3 60.0 214.3 61.1C215.2 62.3 214.3 62.1 214.3 63.8C214.3 65.6 214.3 70.0 214.3 71.8C214.3 73.5 216.3 74.2 214.3 74.5C212.2 74.7 204.8 75.2 202.0 73.4C199.3 71.5 196.5 66.1 197.6 63.4Z"/>
<path fill="#ffffff" d="M184.3 63.4C185.7 61.1 190.7 60.4 193.2 61.1C195.6 61.9 198.3 65.0 198.7 67.8C199.1 70.6 197.0 75.4 195.4 77.8C193.7 80.2 190.6 82.8 188.7 82.3C186.9 81.7 185.0 77.6 184.3 74.5C183.5 71.3 182.8 65.6 184.3 63.4ZM214.5 86.0C214.5 86.7 214.1 87.5 213.6 87.9C213.1 88.4 212.1 88.7 211.4 88.7C210.6 88.7 209.7 88.4 209.2 87.9C208.7 87.5 208.3 86.7 208.3 86.0C208.3 85.4 208.7 84.6 209.2 84.1C209.7 83.7 210.6 83.4 211.4 83.4C212.1 83.4 213.1 83.7 213.6 84.1C214.1 84.6 214.5 85.4 214.5 86.0ZM162.9 118.9C162.9 119.4 162.3 120.1 161.5 120.5C160.7 120.9 159.2 121.1 158.0 121.1C156.9 121.1 155.4 120.9 154.6 120.5C153.8 120.1 153.2 119.4 153.2 118.9C153.2 118.4 153.8 117.7 154.6 117.4C155.4 117.0 156.9 116.7 158.0 116.7C159.2 116.7 160.7 117.0 161.5 117.4C162.3 117.7 162.9 118.4 162.9 118.9ZM91.4 58.5C91.4 59.0 91.0 59.7 90.6 60.0C90.2 60.4 89.3 60.7 88.7 60.7C88.1 60.7 87.3 60.4 86.8 60.0C86.4 59.7 86.0 59.0 86.0 58.5C86.0 58.0 86.4 57.3 86.8 56.9C87.3 56.5 88.1 56.3 88.7 56.3C89.3 56.3 90.2 56.5 90.6 56.9C91.0 57.3 91.4 58.0 91.4 58.5ZM195.4 71.1C195.4 71.8 195.1 72.6 194.7 73.0C194.4 73.5 193.7 73.8 193.2 73.8C192.6 73.8 192.0 73.5 191.6 73.0C191.2 72.6 190.9 71.8 190.9 71.1C190.9 70.5 191.2 69.7 191.6 69.3C192.0 68.8 192.6 68.5 193.2 68.5C193.7 68.5 194.4 68.8 194.7 69.3C195.1 69.7 195.4 70.5 195.4 71.1Z"/>
<path fill="#00ffff" d="M26.5 41.1C27.5 40.9 30.6 41.9 33.2 42.3C35.7 42.6 39.1 42.6 42.0 43.4C45.0 44.1 48.6 45.2 50.9 46.7C53.2 48.2 54.5 50.4 55.8 52.3C57.1 54.1 57.3 56.7 58.7 57.8C60.1 58.9 62.2 58.4 64.3 58.9C66.3 59.5 69.3 60.0 70.9 61.1C72.6 62.3 74.6 64.6 74.3 65.6C73.9 66.6 70.6 66.6 68.7 67.4C66.9 68.1 64.5 68.6 63.2 70.0C61.9 71.5 63.0 76.0 60.9 76.0C58.9 76.1 54.1 72.5 50.9 70.5C47.8 68.4 43.9 65.2 42.0 63.8C40.2 62.4 41.4 63.3 39.9 62.1C38.4 60.9 34.5 57.8 33.0 56.6C31.5 55.4 31.4 55.6 30.9 54.9C30.4 54.2 30.7 54.2 30.1 52.4C29.5 50.5 27.9 45.6 27.3 43.7C26.7 41.8 25.5 41.4 26.5 41.1ZM89.6 68.9C89.6 69.4 89.2 70.1 88.7 70.5C88.2 70.9 87.2 71.1 86.5 71.1C85.8 71.1 84.8 70.9 84.3 70.5C83.8 70.1 83.4 69.4 83.4 68.9C83.4 68.4 83.8 67.7 84.3 67.4C84.8 67.0 85.8 66.7 86.5 66.7C87.2 66.7 88.2 67.0 88.7 67.4C89.2 67.7 89.6 68.4 89.6 68.9ZM103.8 56.7C103.8 57.9 103.6 59.3 103.3 60.2C103.0 61.0 102.5 61.6 102.0 61.6C101.6 61.6 101.1 61.0 100.8 60.2C100.5 59.3 100.3 57.9 100.3 56.7C100.3 55.5 100.5 54.1 100.8 53.2C101.1 52.4 101.6 51.8 102.0 51.8C102.5 51.8 103.0 52.4 103.3 53.2C103.6 54.1 103.8 55.5 103.8 56.7ZM113.2 61.1C112.6 59.1 116.7 57.0 118.7 54.9C120.7 52.9 123.0 50.7 125.4 48.9C127.8 47.2 130.7 44.8 133.2 44.5C135.6 44.1 138.0 45.4 139.8 46.7C141.7 48.0 142.0 50.7 144.3 52.3C146.5 53.8 150.2 55.7 153.2 56.3C156.1 56.8 159.1 55.8 162.0 55.6C165.0 55.4 168.3 54.0 170.9 54.9C173.5 55.8 175.6 59.0 177.6 61.1C179.6 63.3 182.0 65.2 183.2 67.8C184.3 70.4 184.5 73.7 184.3 76.7C184.1 79.7 181.7 83.0 182.0 85.6C182.4 88.2 183.9 91.9 186.5 92.3C189.1 92.6 193.9 88.2 197.6 87.8C201.3 87.4 206.4 89.6 208.7 90.0C211.0 90.5 208.5 90.0 211.3 90.6C214.2 91.3 223.2 93.2 226.1 93.9C229.0 94.5 228.3 93.9 228.7 94.5C229.2 95.0 228.7 94.3 228.7 97.2C228.7 100.1 228.7 108.9 228.7 111.8C228.7 114.7 229.2 114.0 228.7 114.5C228.3 115.0 229.6 114.4 226.0 114.7C222.4 115.1 210.6 116.1 207.0 116.5C203.3 116.8 205.8 118.1 204.3 116.7C202.7 115.3 200.2 109.3 197.6 107.8C195.0 106.3 191.3 108.9 188.7 107.8C186.1 106.7 184.3 103.4 182.0 101.1C179.8 98.9 177.2 96.3 175.4 94.5C173.5 92.6 172.1 90.7 170.9 90.0C169.7 89.3 171.1 90.0 168.2 90.3C165.4 90.7 156.5 91.6 153.6 92.0C150.7 92.3 152.0 93.7 150.9 92.3C149.8 90.8 147.8 85.2 146.9 83.4C146.1 81.5 146.6 82.8 145.7 81.0C144.7 79.2 142.1 74.2 141.1 72.4C140.1 70.6 140.5 70.5 139.8 70.0C139.2 69.6 139.7 70.0 137.2 69.6C134.6 69.3 127.2 68.1 124.7 67.8C122.2 67.4 124.0 68.5 122.0 67.4C120.1 66.3 113.7 63.2 113.2 61.1Z"/>
<path fill="#0090ff" d="M28.7 42.3C29.8 41.4 33.7 42.8 36.5 43.4C39.3 43.9 42.8 44.3 45.4 45.6C48.0 46.9 50.3 49.1 52.0 51.1C53.8 53.2 54.7 55.4 55.8 57.8C56.9 60.2 57.9 63.0 58.7 65.6C59.6 68.2 61.7 72.4 60.9 73.4C60.2 74.3 56.9 72.8 54.3 71.1C51.7 69.5 48.0 65.0 45.4 63.4C42.8 61.7 40.6 62.4 38.7 61.1C36.9 59.9 35.7 58.2 34.3 56.0C32.8 53.9 30.7 50.6 29.8 48.3C28.9 46.0 27.6 43.1 28.7 42.3ZM128.7 54.9C128.5 52.3 132.4 48.8 134.3 47.8C136.1 46.8 138.2 47.7 139.8 48.9C141.5 50.1 142.0 53.4 144.3 54.9C146.5 56.4 150.2 57.5 153.2 57.8C156.1 58.1 159.1 56.7 162.0 56.7C165.0 56.7 168.3 56.7 170.9 57.8C173.5 58.9 175.9 61.0 177.6 63.4C179.3 65.8 180.9 69.7 180.9 72.3C180.9 74.8 178.9 76.5 177.6 78.9C176.3 81.3 175.7 85.2 173.2 86.7C170.6 88.2 165.7 87.8 162.0 87.8C158.3 87.8 153.3 87.8 150.9 86.7C148.5 85.6 148.7 83.9 147.6 81.1C146.5 78.4 146.3 73.0 144.3 70.0C142.2 67.1 138.0 65.9 135.4 63.4C132.8 60.8 128.9 57.5 128.7 54.9ZM204.3 94.5C204.3 95.4 203.8 96.6 203.3 97.3C202.7 98.0 201.7 98.5 200.9 98.5C200.1 98.5 199.1 98.0 198.6 97.3C198.0 96.6 197.6 95.4 197.6 94.5C197.6 93.5 198.0 92.3 198.6 91.6C199.1 91.0 200.1 90.5 200.9 90.5C201.7 90.5 202.7 91.0 203.3 91.6C203.8 92.3 204.3 93.5 204.3 94.5ZM210.9 112.3C210.9 113.0 210.7 113.9 210.3 114.5C209.9 115.0 209.2 115.4 208.7 115.4C208.2 115.4 207.5 115.0 207.1 114.5C206.8 113.9 206.5 113.0 206.5 112.3C206.5 111.5 206.8 110.6 207.1 110.1C207.5 109.5 208.2 109.1 208.7 109.1C209.2 109.1 209.9 109.5 210.3 110.1C210.7 110.6 210.9 111.5 210.9 112.3Z"/>
<path fill="#0000ff" d="M30.9 44.5C32.2 43.9 36.3 45.8 38.7 46.7C41.1 47.6 43.3 48.7 45.4 50.0C47.4 51.4 49.6 53.1 50.9 54.9C52.2 56.8 53.5 59.7 53.2 61.1C52.8 62.6 50.4 63.6 48.7 63.4C47.0 63.2 44.8 60.5 43.2 60.0C41.5 59.6 40.1 61.3 38.7 60.7C37.3 60.1 36.2 58.5 34.9 56.7C33.7 54.9 32.0 52.1 31.4 50.0C30.7 48.0 29.7 45.0 30.9 44.5ZM135.4 53.4C135.0 51.5 138.5 49.7 139.8 50.0C141.1 50.4 141.3 54.1 143.2 55.6C145.0 57.1 148.5 58.0 150.9 58.9C153.3 59.8 155.7 61.5 157.6 61.1C159.5 60.8 160.0 57.1 162.0 56.7C164.1 56.3 168.0 57.1 169.8 58.9C171.7 60.8 172.6 64.5 173.2 67.8C173.7 71.1 174.3 76.0 173.2 78.9C172.0 81.9 169.1 84.7 166.5 85.6C163.9 86.5 160.2 85.2 157.6 84.5C155.0 83.7 152.4 83.2 150.9 81.1C149.5 79.1 148.7 74.8 148.7 72.3C148.7 69.7 152.0 67.4 150.9 65.6C149.8 63.7 144.6 63.2 142.0 61.1C139.5 59.1 135.7 55.2 135.4 53.4Z"/>
<path fill="#0000b0" d="M43.6 55.6C43.6 56.5 43.3 57.8 42.8 58.4C42.4 59.1 41.6 59.6 40.9 59.6C40.3 59.6 39.5 59.1 39.0 58.4C38.6 57.8 38.3 56.5 38.3 55.6C38.3 54.6 38.6 53.4 39.0 52.8C39.5 52.1 40.3 51.6 40.9 51.6C41.6 51.6 42.4 52.1 42.8 52.8C43.3 53.4 43.6 54.6 43.6 55.6ZM158.7 61.1C159.8 59.5 163.5 57.4 165.4 57.8C167.2 58.2 169.3 61.1 169.8 63.4C170.4 65.6 169.8 69.5 168.7 71.1C167.6 72.8 164.8 73.9 163.2 73.4C161.5 72.8 159.5 69.8 158.7 67.8C158.0 65.8 157.6 62.8 158.7 61.1Z"/>
<path fill="#ffff00" d="M30.5 45.4C30.8 45.8 31.0 46.5 31.0 46.9C31.0 47.4 30.8 47.8 30.5 48.0C30.2 48.1 29.7 48.1 29.3 47.9C29.0 47.7 28.5 47.2 28.2 46.7C28.0 46.2 27.8 45.6 27.8 45.1C27.8 44.7 28.0 44.3 28.3 44.1C28.5 44.0 29.0 44.0 29.4 44.2C29.8 44.4 30.3 44.9 30.5 45.4ZM122.0 67.4C122.8 66.0 128.0 66.7 130.9 66.0C133.9 65.4 136.9 64.2 139.8 63.4C142.8 62.6 145.9 61.9 148.7 61.1C151.5 60.4 155.1 58.7 156.5 58.9C157.9 59.1 157.5 61.1 157.2 62.3C156.8 63.4 153.8 64.6 154.3 65.6C154.7 66.6 158.5 67.3 159.8 68.3C161.1 69.2 162.4 70.7 162.0 71.1C161.7 71.6 159.1 71.5 157.6 71.1C156.1 70.8 154.3 68.6 153.2 68.9C152.0 69.3 150.9 71.4 150.5 73.4C150.0 75.3 151.2 79.7 150.5 80.7C149.8 81.7 147.9 80.2 146.5 79.4C145.1 78.5 144.1 76.3 142.0 75.6C140.0 74.8 136.9 75.2 134.3 74.9C131.7 74.7 128.5 75.3 126.5 74.0C124.5 72.8 121.3 68.7 122.0 67.4Z"/>
<path fill="#ffa000" d="M126.5 68.9C127.1 68.0 131.7 68.4 134.3 67.8C136.9 67.3 139.5 66.3 142.0 65.6C144.6 64.8 148.0 63.6 149.8 63.4C151.7 63.2 153.0 63.6 153.2 64.5C153.3 65.4 151.5 67.4 150.9 68.9C150.3 70.4 149.9 71.8 149.6 73.4C149.3 75.0 150.0 78.2 149.2 78.5C148.3 78.7 146.2 75.7 144.3 74.9C142.3 74.2 139.9 74.3 137.6 74.0C135.3 73.8 132.3 74.2 130.5 73.4C128.6 72.5 125.9 69.8 126.5 68.9Z"/>
<path fill="#ff0000" d="M129.8 70.0C130.0 69.3 134.3 69.5 136.5 68.9C138.7 68.4 141.1 67.3 143.2 66.7C145.2 66.1 147.6 65.2 148.7 65.6C149.8 66.0 150.0 67.4 149.8 68.9C149.6 70.4 148.9 73.7 147.6 74.5C146.3 75.2 144.1 73.6 142.0 73.4C140.0 73.2 137.4 73.9 135.4 73.4C133.3 72.8 129.6 70.8 129.8 70.0Z"/>
<path fill="#a00000" d="M142.0 70.0C142.6 69.3 145.8 67.7 146.5 68.3C147.2 68.8 146.6 72.6 146.0 73.4C145.5 74.1 143.8 73.3 143.2 72.7C142.5 72.1 141.5 70.8 142.0 70.0Z"/>
</g></g>
<use href="#bord"/><use href="#coast"/><use href="#thk"/>
</g>
<rect width="216.0" height="122.9" fill="none" stroke="#000" stroke-width="2.5"/>
<text class="l" x="4.6" y="118.6">k) JULES</text>
</g>
<g transform="translate(725.2,326.3)">
<use href="#tk"/>
<g clip-path="url(#cp)">
<rect width="216.0" height="122.9" fill="#eeeeee"/>
<use href="#land" fill="#fff"/>
<g clip-path="url(#cl)"><g filter="url(#rag)">
<path fill="#98e898" d="M60.9 15.6C60.9 16.2 60.5 17.0 60.0 17.5C59.5 17.9 58.5 18.3 57.8 18.3C57.1 18.3 56.1 17.9 55.6 17.5C55.1 17.0 54.7 16.2 54.7 15.6C54.7 15.0 55.1 14.1 55.6 13.7C56.1 13.3 57.1 12.9 57.8 12.9C58.5 12.9 59.5 13.3 60.0 13.7C60.5 14.1 60.9 15.0 60.9 15.6ZM108.9 17.8C108.9 18.2 108.4 18.8 107.6 19.1C106.9 19.4 105.5 19.6 104.5 19.6C103.4 19.6 102.1 19.4 101.3 19.1C100.6 18.8 100.0 18.2 100.0 17.8C100.0 17.4 100.6 16.9 101.3 16.6C102.1 16.3 103.4 16.0 104.5 16.0C105.5 16.0 106.9 16.3 107.6 16.6C108.4 16.9 108.9 17.4 108.9 17.8ZM74.5 18.9C74.5 19.3 74.0 19.9 73.5 20.2C72.9 20.5 71.9 20.7 71.1 20.7C70.3 20.7 69.3 20.5 68.8 20.2C68.2 19.9 67.8 19.3 67.8 18.9C67.8 18.5 68.2 18.0 68.8 17.7C69.3 17.4 70.3 17.1 71.1 17.1C71.9 17.1 72.9 17.4 73.5 17.7C74.0 18.0 74.5 18.5 74.5 18.9Z"/>
<path fill="#06dc0a" d="M16.7 21.1C18.9 20.2 21.7 19.7 24.5 20.0C27.2 20.4 30.4 22.6 33.4 23.4C36.3 24.1 39.3 24.7 42.2 24.5C45.2 24.3 48.5 23.4 51.1 22.3C53.7 21.1 55.6 18.0 57.8 17.8C60.0 17.6 62.2 20.0 64.5 21.1C66.7 22.3 68.9 24.7 71.1 24.5C73.4 24.3 75.2 21.1 77.8 20.0C80.4 18.9 83.7 17.6 86.7 17.8C89.7 18.0 93.0 21.0 95.6 21.1C98.2 21.3 99.7 19.5 102.2 18.9C104.8 18.4 107.8 17.8 111.1 17.8C114.5 17.8 118.9 18.9 122.2 18.9C125.6 18.9 128.2 17.3 131.1 17.8C134.1 18.4 137.1 20.8 140.0 22.3C143.0 23.7 145.9 25.4 148.9 26.7C151.9 28.0 154.8 29.1 157.8 30.0C160.8 31.0 164.1 32.6 166.7 32.3C169.3 31.9 171.1 29.3 173.4 27.8C175.6 26.3 177.4 23.7 180.0 23.4C182.6 23.0 185.9 24.8 188.9 25.6C191.9 26.3 194.8 27.8 197.8 27.8C200.8 27.8 204.8 25.9 206.7 25.6C208.6 25.3 206.1 25.5 209.4 25.9C212.6 26.2 223.0 27.2 226.2 27.5C229.5 27.9 228.5 27.3 228.9 27.8C229.4 28.3 228.9 13.2 228.9 30.5C228.9 47.8 228.9 114.4 228.9 131.8C228.9 149.1 229.4 134.0 228.9 134.5C228.5 134.9 240.6 134.5 226.2 134.5C211.8 134.5 157.1 134.5 142.7 134.5C128.4 134.5 140.5 134.9 140.0 134.5C139.6 134.0 140.0 140.2 140.0 131.8C140.0 123.3 140.0 92.3 140.0 83.8C140.0 75.4 140.4 81.8 140.0 81.1C139.6 80.5 140.0 81.1 137.5 80.2C135.0 79.2 127.3 76.4 124.8 75.4C122.2 74.5 123.1 74.6 122.2 74.5C121.4 74.4 125.0 74.2 119.6 74.7C114.1 75.2 94.9 77.0 89.4 77.6C83.9 78.1 87.6 77.7 86.7 77.8C85.8 77.9 88.0 77.7 84.0 78.0C80.0 78.4 66.7 79.5 62.7 79.8C58.7 80.1 60.9 80.2 60.0 80.0C59.2 79.9 60.2 80.1 57.6 78.8C55.0 77.5 47.2 73.6 44.7 72.4C42.1 71.1 42.9 71.7 42.2 71.1C41.5 70.6 43.1 72.1 40.5 69.1C37.8 66.1 28.9 56.2 26.3 53.2C23.6 50.2 25.1 51.8 24.5 51.1C23.8 50.5 24.4 51.1 22.5 49.3C20.6 47.6 15.0 42.5 13.1 40.7C11.2 39.0 11.5 39.7 11.1 38.9C10.8 38.2 11.1 38.0 11.1 36.2C11.1 34.4 11.1 30.1 11.1 28.3C11.1 26.5 10.2 26.8 11.1 25.6C12.1 24.4 14.5 22.1 16.7 21.1ZM87.8 8.9C87.8 9.4 87.5 10.1 87.1 10.5C86.8 10.9 86.1 11.1 85.6 11.1C85.1 11.1 84.4 10.9 84.0 10.5C83.6 10.1 83.4 9.4 83.4 8.9C83.4 8.4 83.6 7.7 84.0 7.4C84.4 7.0 85.1 6.7 85.6 6.7C86.1 6.7 86.8 7.0 87.1 7.4C87.5 7.7 87.8 8.4 87.8 8.9ZM83.4 14.5C83.4 15.0 82.9 15.7 82.4 16.0C81.8 16.4 80.8 16.7 80.0 16.7C79.2 16.7 78.2 16.4 77.7 16.0C77.1 15.7 76.7 15.0 76.7 14.5C76.7 14.0 77.1 13.3 77.7 12.9C78.2 12.5 79.2 12.3 80.0 12.3C80.8 12.3 81.8 12.5 82.4 12.9C82.9 13.3 83.4 14.0 83.4 14.5ZM141.1 11.8C141.1 12.3 140.6 13.0 139.8 13.4C139.1 13.8 137.7 14.0 136.7 14.0C135.6 14.0 134.3 13.8 133.5 13.4C132.8 13.0 132.2 12.3 132.2 11.8C132.2 11.3 132.8 10.6 133.5 10.2C134.3 9.9 135.6 9.6 136.7 9.6C137.7 9.6 139.1 9.9 139.8 10.2C140.6 10.6 141.1 11.3 141.1 11.8ZM210.9 14.5C210.9 15.2 210.5 16.2 210.0 16.7C209.5 17.2 208.5 17.6 207.8 17.6C207.1 17.6 206.1 17.2 205.6 16.7C205.1 16.2 204.7 15.2 204.7 14.5C204.7 13.7 205.1 12.8 205.6 12.3C206.1 11.8 207.1 11.4 207.8 11.4C208.5 11.4 209.5 11.8 210.0 12.3C210.5 12.8 210.9 13.7 210.9 14.5Z"/>
<path fill="#98e898" d="M76.7 28.9C76.7 29.5 76.0 30.2 75.1 30.7C74.1 31.1 72.4 31.4 71.1 31.4C69.8 31.4 68.1 31.1 67.2 30.7C66.3 30.2 65.6 29.5 65.6 28.9C65.6 28.3 66.3 27.6 67.2 27.2C68.1 26.8 69.8 26.5 71.1 26.5C72.4 26.5 74.1 26.8 75.1 27.2C76.0 27.6 76.7 28.3 76.7 28.9ZM32.0 25.6C32.0 26.0 31.6 26.4 31.1 26.7C30.6 26.9 29.6 27.1 28.9 27.1C28.2 27.1 27.2 26.9 26.7 26.7C26.2 26.4 25.8 26.0 25.8 25.6C25.8 25.2 26.2 24.7 26.7 24.5C27.2 24.2 28.2 24.0 28.9 24.0C29.6 24.0 30.6 24.2 31.1 24.5C31.6 24.7 32.0 25.2 32.0 25.6Z"/>
<path fill="#04b608" d="M73.4 34.5C73.4 32.7 73.4 34.5 76.0 33.8C78.5 33.2 86.0 31.3 88.5 30.7C91.0 30.1 88.8 30.1 91.1 30.0C93.4 29.9 98.5 28.9 102.2 30.0C105.9 31.1 110.0 36.0 113.4 36.7C116.7 37.4 120.3 34.9 122.2 34.5C124.2 34.0 123.1 34.3 124.9 34.0C126.7 33.7 131.1 33.0 132.9 32.7C134.7 32.4 134.7 32.2 135.6 32.3C136.5 32.3 135.7 32.3 138.2 32.9C140.7 33.5 148.2 35.4 150.7 36.0C153.3 36.7 151.1 36.2 153.4 36.7C155.6 37.2 161.1 38.0 164.5 38.9C167.8 39.8 171.4 41.7 173.4 42.3C175.3 42.8 174.3 42.3 176.0 42.5C177.8 42.6 182.2 43.0 184.0 43.1C185.8 43.3 184.4 43.0 186.7 43.4C189.0 43.8 195.5 45.1 197.8 45.6C200.1 46.1 198.6 45.8 200.4 46.4C202.2 47.0 206.8 48.6 208.6 49.2C210.4 49.8 210.6 49.4 211.1 50.0C211.6 50.6 211.1 49.8 211.6 52.7C212.1 55.6 213.5 64.5 214.0 67.4C214.5 70.3 214.8 69.5 214.5 70.0C214.1 70.5 214.1 70.1 211.8 70.4C209.5 70.7 202.8 71.6 200.5 71.9C198.1 72.2 198.6 72.5 197.8 72.3C197.0 72.0 197.2 71.8 195.7 70.6C194.2 69.4 190.3 66.3 188.8 65.1C187.3 63.9 187.4 63.9 186.7 63.4C186.0 62.8 186.0 62.9 184.5 61.8C183.0 60.8 179.3 58.2 177.8 57.1C176.3 56.1 176.4 56.0 175.6 55.6C174.8 55.2 176.3 55.8 173.0 54.8C169.7 53.8 159.2 50.7 155.9 49.7C152.7 48.7 154.2 49.1 153.4 48.9C152.5 48.7 154.0 49.0 150.7 48.4C147.4 47.7 137.0 45.7 133.8 45.0C130.5 44.4 132.0 44.6 131.1 44.5C130.2 44.4 130.2 44.4 128.4 44.3C126.7 44.1 122.3 43.7 120.5 43.6C118.7 43.4 118.7 43.4 117.8 43.4C116.9 43.4 116.9 43.4 115.1 43.6C113.3 43.7 108.9 44.1 107.2 44.3C105.4 44.4 105.4 44.4 104.5 44.5C103.6 44.5 103.5 44.5 101.8 44.5C100.0 44.5 95.6 44.5 93.8 44.5C92.1 44.5 92.0 44.5 91.1 44.5C90.2 44.5 90.6 44.5 88.4 44.5C86.3 44.5 80.4 44.5 78.3 44.5C76.1 44.5 76.4 46.1 75.6 44.5C74.8 42.8 73.3 36.3 73.4 34.5ZM144.5 94.5C144.7 93.9 145.2 94.2 147.0 93.6C148.8 93.0 153.4 91.5 155.2 90.9C157.0 90.3 156.9 90.2 157.8 90.0C158.7 89.9 158.4 90.0 160.5 90.0C162.6 90.0 168.5 90.0 170.7 90.0C172.8 90.0 172.2 88.2 173.4 90.0C174.5 91.9 178.2 97.4 177.8 101.1C177.4 104.8 171.9 108.9 171.1 112.3C170.4 115.6 173.4 119.7 173.4 121.1C173.3 122.6 172.8 121.1 170.7 121.1C168.5 121.1 162.6 121.1 160.5 121.1C158.4 121.1 159.4 122.6 157.8 121.1C156.2 119.7 152.4 114.2 151.1 112.3C149.9 110.4 151.1 112.3 150.2 109.7C149.2 107.2 146.4 99.5 145.4 97.0C144.5 94.5 144.2 95.0 144.5 94.5ZM188.9 74.5C189.4 72.6 187.8 74.6 191.6 74.2C195.4 73.9 208.0 72.8 211.8 72.5C215.6 72.2 214.0 71.8 214.5 72.3C214.9 72.7 214.5 72.4 214.5 75.0C214.5 77.5 214.5 84.8 214.5 87.3C214.5 89.8 214.9 89.6 214.5 90.0C214.0 90.5 214.1 90.0 211.8 90.0C209.4 90.0 202.8 90.0 200.5 90.0C198.2 90.0 199.7 90.8 197.8 90.0C195.9 89.3 190.4 88.2 188.9 85.6C187.4 83.0 188.5 76.4 188.9 74.5Z"/>
<path fill="#ffffff" d="M186.7 30.0C186.7 30.5 186.3 31.0 185.7 31.3C185.2 31.6 184.1 31.8 183.4 31.8C182.6 31.8 181.6 31.6 181.0 31.3C180.4 31.0 180.0 30.5 180.0 30.0C180.0 29.6 180.4 29.1 181.0 28.8C181.6 28.5 182.6 28.3 183.4 28.3C184.1 28.3 185.2 28.5 185.7 28.8C186.3 29.1 186.7 29.6 186.7 30.0ZM162.2 35.6C162.2 35.9 161.7 36.2 160.9 36.4C160.2 36.6 158.8 36.7 157.8 36.7C156.8 36.7 155.4 36.6 154.7 36.4C153.9 36.2 153.4 35.9 153.4 35.6C153.4 35.3 153.9 35.0 154.7 34.8C155.4 34.6 156.8 34.5 157.8 34.5C158.8 34.5 160.2 34.6 160.9 34.8C161.7 35.0 162.2 35.3 162.2 35.6ZM163.1 118.9C163.1 119.4 162.5 120.1 161.7 120.5C160.9 120.9 159.4 121.1 158.2 121.1C157.1 121.1 155.6 120.9 154.8 120.5C154.0 120.1 153.4 119.4 153.4 118.9C153.4 118.4 154.0 117.7 154.8 117.4C155.6 117.0 157.1 116.7 158.2 116.7C159.4 116.7 160.9 117.0 161.7 117.4C162.5 117.7 163.1 118.4 163.1 118.9ZM68.9 25.6C68.9 25.9 68.6 26.3 68.3 26.5C67.9 26.8 67.2 26.9 66.7 26.9C66.2 26.9 65.5 26.8 65.1 26.5C64.7 26.3 64.5 25.9 64.5 25.6C64.5 25.3 64.7 24.9 65.1 24.6C65.5 24.4 66.2 24.3 66.7 24.3C67.2 24.3 67.9 24.4 68.3 24.6C68.6 24.9 68.9 25.3 68.9 25.6Z"/>
<path fill="#00ffff" d="M21.1 37.8C23.4 37.7 27.6 38.5 31.1 38.5C34.7 38.5 38.9 38.1 42.2 37.8C45.6 37.5 48.8 36.5 51.1 36.7C53.4 36.9 54.9 37.4 56.0 38.9C57.1 40.4 56.9 43.9 57.8 45.6C58.7 47.3 59.3 48.2 61.1 48.9C63.0 49.7 66.5 49.6 68.9 50.0C71.3 50.5 74.0 50.7 75.6 51.8C77.1 52.9 78.2 55.0 78.2 56.7C78.2 58.4 76.2 60.5 75.6 62.3C74.9 64.0 75.6 66.4 74.5 67.4C73.4 68.3 70.8 67.3 68.9 67.8C67.1 68.3 64.7 69.1 63.4 70.5C62.1 71.8 63.2 76.0 61.1 76.0C59.1 76.0 54.3 72.5 51.1 70.5C48.0 68.4 44.1 65.2 42.2 63.8C40.4 62.4 41.6 63.3 40.1 62.1C38.6 60.9 34.7 57.8 33.2 56.6C31.7 55.4 32.6 56.7 31.1 54.9C29.7 53.2 26.7 48.7 24.5 46.0C22.2 43.4 18.4 40.3 17.8 38.9C17.2 37.6 18.9 37.9 21.1 37.8ZM83.4 65.6C84.3 64.1 86.9 62.7 88.9 62.3C90.9 61.8 94.3 62.0 95.6 62.9C96.9 63.8 97.2 66.4 96.7 67.8C96.1 69.3 93.9 70.7 92.2 71.6C90.6 72.5 88.2 73.2 86.7 73.1C85.2 73.1 83.9 72.4 83.4 71.1C82.8 69.9 82.4 67.1 83.4 65.6ZM101.1 52.3C102.1 51.2 104.7 49.3 106.7 48.9C108.7 48.6 111.3 49.0 113.4 50.0C115.4 51.0 116.9 55.1 118.9 54.9C120.9 54.7 123.2 50.7 125.6 48.9C128.0 47.2 130.9 45.0 133.4 44.5C135.8 44.0 138.0 44.9 140.0 46.0C142.1 47.1 143.4 49.6 145.6 51.1C147.8 52.7 150.6 55.0 153.4 55.6C156.1 56.2 159.3 55.1 162.2 54.9C165.2 54.7 168.7 54.0 171.1 54.5C173.5 55.0 175.4 56.5 176.7 57.8C178.0 59.1 177.8 60.8 178.9 62.3C180.0 63.7 182.8 64.7 183.4 66.7C183.9 68.7 183.2 72.4 182.2 74.5C181.3 76.5 178.9 77.1 177.8 78.9C176.7 80.8 175.2 83.6 175.6 85.6C175.9 87.6 178.2 89.7 180.0 91.1C181.9 92.6 185.2 92.4 186.7 94.5C188.2 96.5 189.7 101.5 188.9 103.4C188.2 105.2 184.5 106.3 182.2 105.6C180.0 104.8 177.4 101.1 175.6 98.9C173.7 96.7 172.3 93.4 171.1 92.3C169.9 91.2 171.3 92.3 168.4 92.3C165.6 92.4 156.7 92.6 153.8 92.6C150.9 92.7 152.2 94.2 151.1 92.7C150.0 91.2 148.0 85.3 147.1 83.4C146.3 81.4 146.8 82.8 145.9 81.0C144.9 79.2 142.3 74.2 141.3 72.4C140.3 70.6 140.7 70.5 140.0 70.0C139.4 69.6 139.9 70.0 137.4 69.6C134.8 69.3 127.4 68.1 124.9 67.8C122.4 67.4 123.1 67.5 122.2 67.4C121.4 67.3 121.3 67.3 119.6 67.1C117.8 66.9 113.4 66.5 111.6 66.3C109.8 66.1 110.7 66.2 108.9 66.0C107.2 65.9 102.4 66.1 101.1 65.6C99.8 65.1 101.1 64.7 101.1 62.9C101.1 61.1 101.1 56.7 101.1 55.0C101.1 53.2 100.2 53.3 101.1 52.3ZM188.9 96.7C190.0 94.1 194.5 91.0 197.8 90.0C201.1 89.1 206.1 90.0 208.9 91.1C211.7 92.3 214.1 94.7 214.5 96.7C214.8 98.7 211.1 100.8 211.1 103.4C211.1 106.0 214.8 109.3 214.5 112.3C214.1 115.2 210.9 120.4 208.9 121.1C206.9 121.9 204.1 118.9 202.2 116.7C200.4 114.5 199.7 109.7 197.8 107.8C195.9 106.0 192.6 107.4 191.1 105.6C189.7 103.7 187.8 99.3 188.9 96.7ZM211.1 71.1C211.1 71.5 210.9 71.9 210.5 72.1C210.1 72.3 209.4 72.5 208.9 72.5C208.4 72.5 207.7 72.3 207.3 72.1C207.0 71.9 206.7 71.5 206.7 71.1C206.7 70.8 207.0 70.4 207.3 70.2C207.7 70.0 208.4 69.8 208.9 69.8C209.4 69.8 210.1 70.0 210.5 70.2C210.9 70.4 211.1 70.8 211.1 71.1Z"/>
<path fill="#0090ff" d="M28.9 42.3C30.0 41.4 33.9 42.6 36.7 42.9C39.5 43.3 43.4 43.5 45.6 44.5C47.8 45.5 49.7 47.2 50.0 48.9C50.4 50.7 48.7 53.0 47.8 54.9C46.9 56.8 45.9 59.4 44.5 60.5C43.0 61.5 40.6 61.9 38.9 61.1C37.2 60.4 35.9 58.2 34.5 56.0C33.0 53.9 30.9 50.6 30.0 48.3C29.1 46.0 27.8 43.1 28.9 42.3ZM124.5 57.8C125.0 56.2 128.2 51.9 130.0 50.0C131.9 48.2 133.5 47.0 135.6 46.7C137.6 46.4 140.7 47.1 142.2 48.3C143.8 49.4 143.1 52.0 144.9 53.4C146.8 54.7 150.5 55.9 153.4 56.3C156.2 56.6 159.5 55.5 162.2 55.6C165.0 55.7 167.8 55.6 170.0 56.7C172.2 57.8 173.7 59.8 175.6 62.3C177.4 64.7 180.6 68.7 181.1 71.1C181.7 73.6 180.2 75.5 178.9 77.1C177.6 78.8 175.4 79.9 173.4 81.1C171.3 82.4 169.3 83.9 166.7 84.5C164.1 85.0 160.4 84.3 157.8 84.5C155.2 84.7 152.8 86.1 151.1 85.6C149.5 85.0 148.9 83.7 147.8 81.1C146.7 78.6 146.5 72.6 144.5 70.0C142.4 67.5 137.4 67.0 135.6 66.0C133.7 65.1 134.9 65.5 133.4 64.4C131.9 63.3 128.1 60.5 126.6 59.4C125.1 58.3 123.9 59.4 124.5 57.8ZM202.9 105.6C202.9 106.0 202.7 106.5 202.4 106.8C202.1 107.1 201.6 107.4 201.1 107.4C200.7 107.4 200.2 107.1 199.9 106.8C199.6 106.5 199.4 106.0 199.4 105.6C199.4 105.2 199.6 104.6 199.9 104.3C200.2 104.0 200.7 103.8 201.1 103.8C201.6 103.8 202.1 104.0 202.4 104.3C202.7 104.6 202.9 105.2 202.9 105.6Z"/>
<path fill="#0000ff" d="M33.4 50.0C34.2 48.8 38.2 48.9 40.0 49.6C41.9 50.3 44.1 52.4 44.5 54.0C44.8 55.7 43.2 58.3 42.2 59.4C41.2 60.5 39.7 61.1 38.5 60.7C37.3 60.3 36.0 58.5 35.1 56.7C34.3 54.9 32.5 51.2 33.4 50.0ZM131.1 61.1C130.6 59.1 133.0 54.1 134.5 52.3C135.9 50.4 138.5 49.5 140.0 50.0C141.5 50.6 141.5 54.1 143.4 55.6C145.2 57.1 148.9 58.6 151.1 58.9C153.4 59.3 154.7 58.3 156.7 57.8C158.7 57.4 161.1 56.1 163.4 56.3C165.6 56.4 168.5 57.2 170.0 58.9C171.5 60.7 172.2 64.3 172.2 66.7C172.2 69.1 171.5 72.1 170.0 73.4C168.5 74.7 165.6 74.5 163.4 74.5C161.1 74.5 158.7 74.1 156.7 73.4C154.7 72.6 152.4 69.8 151.1 70.0C149.8 70.2 149.6 72.6 148.9 74.5C148.2 76.3 147.9 81.9 147.1 81.1C146.4 80.4 146.0 72.8 144.5 70.0C142.9 67.3 140.0 66.0 137.8 64.5C135.6 63.0 131.7 63.2 131.1 61.1Z"/>
<path fill="#0000b0" d="M40.0 55.6C40.0 56.1 39.8 56.8 39.5 57.2C39.2 57.5 38.7 57.8 38.2 57.8C37.8 57.8 37.3 57.5 37.0 57.2C36.7 56.8 36.5 56.1 36.5 55.6C36.5 55.1 36.7 54.4 37.0 54.0C37.3 53.6 37.8 53.4 38.2 53.4C38.7 53.4 39.2 53.6 39.5 54.0C39.8 54.4 40.0 55.1 40.0 55.6ZM156.7 61.1C157.8 59.6 161.3 57.6 163.4 57.8C165.4 58.0 168.2 60.4 168.9 62.3C169.7 64.1 168.9 67.4 167.8 68.9C166.7 70.4 164.1 71.4 162.2 71.1C160.4 70.9 157.6 69.0 156.7 67.4C155.8 65.7 155.6 62.7 156.7 61.1Z"/>
<path fill="#ffff00" d="M30.1 44.5C30.3 44.8 30.4 45.4 30.4 45.8C30.3 46.1 30.1 46.5 29.8 46.7C29.5 46.8 29.1 46.9 28.7 46.7C28.4 46.6 28.0 46.2 27.8 45.8C27.5 45.4 27.4 44.9 27.5 44.5C27.5 44.2 27.8 43.8 28.0 43.6C28.3 43.4 28.8 43.4 29.1 43.6C29.4 43.7 29.9 44.1 30.1 44.5ZM122.2 67.4C123.0 66.1 128.2 67.0 131.1 66.5C134.1 66.0 137.1 65.3 140.0 64.5C143.0 63.7 146.3 62.4 148.9 61.6C151.5 60.7 154.4 59.3 155.6 59.4C156.8 59.5 156.6 61.0 156.0 62.3C155.5 63.5 153.1 64.8 152.2 66.7C151.4 68.6 150.9 71.0 150.7 73.4C150.4 75.7 151.4 79.7 150.7 80.7C150.0 81.7 148.1 80.2 146.7 79.4C145.3 78.5 144.3 76.3 142.2 75.6C140.2 74.8 137.1 75.2 134.5 74.9C131.9 74.7 128.7 75.3 126.7 74.0C124.7 72.8 121.5 68.6 122.2 67.4Z"/>
<path fill="#ffa000" d="M126.7 68.9C127.3 68.1 131.9 68.7 134.5 68.3C137.1 67.8 139.7 66.8 142.2 66.0C144.8 65.2 148.4 63.6 150.0 63.4C151.7 63.1 152.2 63.6 152.2 64.5C152.3 65.4 150.7 67.4 150.2 68.9C149.8 70.4 149.6 71.9 149.4 73.4C149.1 74.8 149.7 77.6 148.9 77.8C148.1 78.1 146.3 75.6 144.5 74.9C142.6 74.3 140.1 74.3 137.8 74.0C135.5 73.8 132.5 74.2 130.7 73.4C128.8 72.5 126.1 69.8 126.7 68.9Z"/>
<path fill="#ff0000" d="M146.5 70.9C146.5 71.5 146.3 72.2 146.1 72.7C145.9 73.1 145.4 73.4 145.1 73.4C144.8 73.4 144.4 73.1 144.2 72.7C144.0 72.2 143.8 71.5 143.8 70.9C143.8 70.3 144.0 69.6 144.2 69.2C144.4 68.8 144.8 68.5 145.1 68.5C145.4 68.5 145.9 68.8 146.1 69.2C146.3 69.6 146.5 70.3 146.5 70.9Z"/>
</g></g>
<use href="#bord"/><use href="#coast"/><use href="#thk"/>
</g>
<rect width="216.0" height="122.9" fill="none" stroke="#000" stroke-width="2.5"/>
<text class="l" x="4.6" y="118.6">l) AVG</text>
</g>
<text class="t" x="30.8" y="61.6" style="text-anchor:end">20<tspan dx="1" dy="-3.6" style="font-size:7.5px">&#176;</tspan></text>
<text class="t" x="30.8" y="110.7" style="text-anchor:end">10<tspan dx="1" dy="-3.6" style="font-size:7.5px">&#176;</tspan></text>
<text class="t" x="30.8" y="159.8" style="text-anchor:end">0<tspan dx="1" dy="-3.6" style="font-size:7.5px">&#176;</tspan></text>
<text class="t" x="30.8" y="196.2" style="text-anchor:end">20<tspan dx="1" dy="-3.6" style="font-size:7.5px">&#176;</tspan></text>
<text class="t" x="30.8" y="245.3" style="text-anchor:end">10<tspan dx="1" dy="-3.6" style="font-size:7.5px">&#176;</tspan></text>
<text class="t" x="30.8" y="294.4" style="text-anchor:end">0<tspan dx="1" dy="-3.6" style="font-size:7.5px">&#176;</tspan></text>
<text class="t" x="30.8" y="330.6" style="text-anchor:end">20<tspan dx="1" dy="-3.6" style="font-size:7.5px">&#176;</tspan></text>
<text class="t" x="30.8" y="379.7" style="text-anchor:end">10<tspan dx="1" dy="-3.6" style="font-size:7.5px">&#176;</tspan></text>
<text class="t" x="30.8" y="428.8" style="text-anchor:end">0<tspan dx="1" dy="-3.6" style="font-size:7.5px">&#176;</tspan></text>
<text class="t" x="44.9" y="472.7">340<tspan dx="1" dy="-3.6" style="font-size:7.5px">&#176;</tspan></text>
<text class="t" x="94.0" y="472.7">350<tspan dx="1" dy="-3.6" style="font-size:7.5px">&#176;</tspan></text>
<text class="t" x="143.1" y="472.7">0<tspan dx="1" dy="-3.6" style="font-size:7.5px">&#176;</tspan></text>
<text class="t" x="192.2" y="472.7">10<tspan dx="1" dy="-3.6" style="font-size:7.5px">&#176;</tspan></text>
<text class="t" x="241.3" y="472.7">20<tspan dx="1" dy="-3.6" style="font-size:7.5px">&#176;</tspan></text>
<text class="t" x="271.5" y="472.7">340<tspan dx="1" dy="-3.6" style="font-size:7.5px">&#176;</tspan></text>
<text class="t" x="320.6" y="472.7">350<tspan dx="1" dy="-3.6" style="font-size:7.5px">&#176;</tspan></text>
<text class="t" x="369.7" y="472.7">0<tspan dx="1" dy="-3.6" style="font-size:7.5px">&#176;</tspan></text>
<text class="t" x="418.8" y="472.7">10<tspan dx="1" dy="-3.6" style="font-size:7.5px">&#176;</tspan></text>
<text class="t" x="467.9" y="472.7">20<tspan dx="1" dy="-3.6" style="font-size:7.5px">&#176;</tspan></text>
<text class="t" x="498.4" y="472.7">340<tspan dx="1" dy="-3.6" style="font-size:7.5px">&#176;</tspan></text>
<text class="t" x="547.5" y="472.7">350<tspan dx="1" dy="-3.6" style="font-size:7.5px">&#176;</tspan></text>
<text class="t" x="596.6" y="472.7">0<tspan dx="1" dy="-3.6" style="font-size:7.5px">&#176;</tspan></text>
<text class="t" x="645.7" y="472.7">10<tspan dx="1" dy="-3.6" style="font-size:7.5px">&#176;</tspan></text>
<text class="t" x="694.8" y="472.7">20<tspan dx="1" dy="-3.6" style="font-size:7.5px">&#176;</tspan></text>
<text class="t" x="725.2" y="472.7">340<tspan dx="1" dy="-3.6" style="font-size:7.5px">&#176;</tspan></text>
<text class="t" x="774.3" y="472.7">350<tspan dx="1" dy="-3.6" style="font-size:7.5px">&#176;</tspan></text>
<text class="t" x="823.4" y="472.7">0<tspan dx="1" dy="-3.6" style="font-size:7.5px">&#176;</tspan></text>
<text class="t" x="872.5" y="472.7">10<tspan dx="1" dy="-3.6" style="font-size:7.5px">&#176;</tspan></text>
<text class="t" x="921.6" y="472.7">20<tspan dx="1" dy="-3.6" style="font-size:7.5px">&#176;</tspan></text>
<rect x="272.80" y="494.3" width="33.84" height="17.399999999999977" fill="#ffffff"/>
<rect x="306.34" y="494.3" width="33.84" height="17.399999999999977" fill="#98e898"/>
<rect x="339.88" y="494.3" width="33.84" height="17.399999999999977" fill="#00d800"/>
<rect x="373.42" y="494.3" width="33.84" height="17.399999999999977" fill="#00ac00"/>
<rect x="406.96" y="494.3" width="33.84" height="17.399999999999977" fill="#00ffff"/>
<rect x="440.50" y="494.3" width="33.84" height="17.399999999999977" fill="#0090ff"/>
<rect x="474.04" y="494.3" width="33.84" height="17.399999999999977" fill="#0000ff"/>
<rect x="507.58" y="494.3" width="33.84" height="17.399999999999977" fill="#0000b0"/>
<rect x="541.12" y="494.3" width="33.84" height="17.399999999999977" fill="#ffff00"/>
<rect x="574.66" y="494.3" width="33.84" height="17.399999999999977" fill="#ffa000"/>
<rect x="608.20" y="494.3" width="33.84" height="17.399999999999977" fill="#ff0000"/>
<rect x="641.74" y="494.3" width="33.84" height="17.399999999999977" fill="#a00000"/>
<rect x="675.28" y="494.3" width="33.84" height="17.399999999999977" fill="#b030b8"/>
<path class="tk" d="M272.80 494.3V518.2M306.34 494.3V518.2M339.88 494.3V518.2M373.42 494.3V518.2M406.96 494.3V518.2M440.50 494.3V518.2M474.04 494.3V518.2M507.58 494.3V518.2M541.12 494.3V518.2M574.66 494.3V518.2M608.20 494.3V518.2M641.74 494.3V518.2M675.28 494.3V518.2M708.82 494.3V518.2" style="stroke-width:0.7;stroke:#333"/>
<rect x="272.8" y="494.3" width="436.02" height="17.399999999999977" fill="none" stroke="#000" stroke-width="2.4"/>
<text class="t" x="272.8" y="534.6">0.00</text>
<text class="t" x="306.3" y="534.6">0.05</text>
<text class="t" x="339.9" y="534.6">0.10</text>
<text class="t" x="373.4" y="534.6">0.50</text>
<text class="t" x="407.0" y="534.6">1.00</text>
<text class="t" x="440.5" y="534.6">2.00</text>
<text class="t" x="474.0" y="534.6">3.00</text>
<text class="t" x="507.6" y="534.6">4.00</text>
<text class="t" x="541.1" y="534.6">5.00</text>
<text class="t" x="574.7" y="534.6">7.50</text>
<text class="t" x="608.2" y="534.6">10.00</text>
<text class="t" x="641.7" y="534.6">15.00</text>
<text class="t" x="675.3" y="534.6">20.00</text>
<text class="t" x="708.8" y="534.6">25.00</text>
</svg></body></html>
